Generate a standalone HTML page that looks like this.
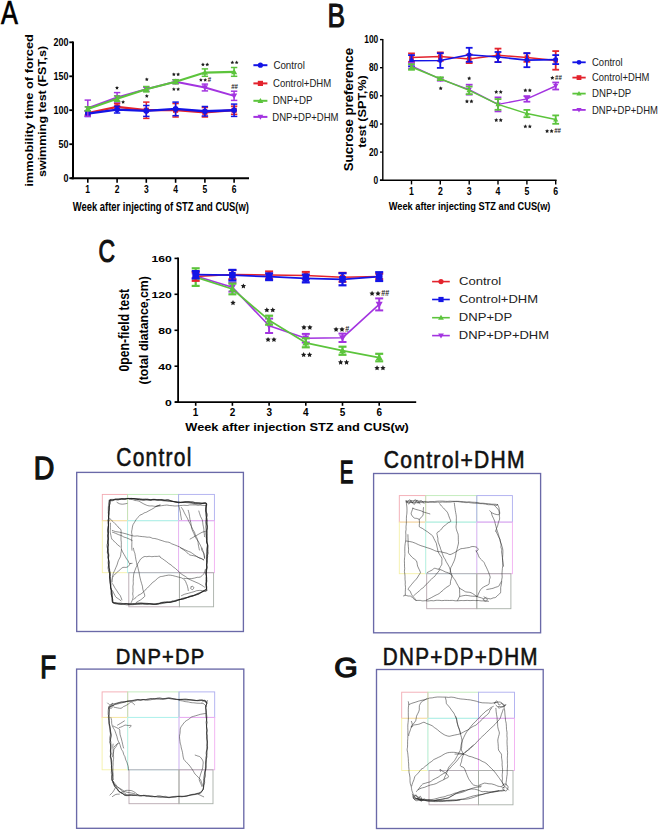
<!DOCTYPE html>
<html><head><meta charset="utf-8"><style>
html,body{margin:0;padding:0;background:#fff;}
svg{display:block;font-family:"Liberation Sans", sans-serif;}
</style></head><body>
<svg width="658" height="830" viewBox="0 0 658 830">
<rect width="658" height="830" fill="#fff"/>
<text transform="translate(1.00,23.55) scale(0.7679,1)" font-size="32.99" fill="#000" stroke="#000" stroke-width="0.7">A</text>
<line x1="73.0" y1="41.4" x2="73.0" y2="179.2" stroke="#000" stroke-width="2"/>
<line x1="70.6" y1="178.2" x2="249.0" y2="178.2" stroke="#000" stroke-width="2"/>
<line x1="69.3" y1="178.2" x2="73.0" y2="178.2" stroke="#000" stroke-width="1.8"/>
<text transform="translate(63.48,181.80) scale(0.8852,1)" font-size="10.14" font-weight="bold" fill="#000">0</text>
<line x1="69.3" y1="144.2" x2="73.0" y2="144.2" stroke="#000" stroke-width="1.8"/>
<text transform="translate(58.48,147.82) scale(0.8852,1)" font-size="10.14" font-weight="bold" fill="#000">50</text>
<line x1="69.3" y1="110.2" x2="73.0" y2="110.2" stroke="#000" stroke-width="1.8"/>
<text transform="translate(53.49,113.85) scale(0.8852,1)" font-size="10.14" font-weight="bold" fill="#000">100</text>
<line x1="69.3" y1="76.3" x2="73.0" y2="76.3" stroke="#000" stroke-width="1.8"/>
<text transform="translate(53.49,79.87) scale(0.8852,1)" font-size="10.14" font-weight="bold" fill="#000">150</text>
<line x1="69.3" y1="42.3" x2="73.0" y2="42.3" stroke="#000" stroke-width="1.8"/>
<text transform="translate(53.49,45.90) scale(0.8852,1)" font-size="10.14" font-weight="bold" fill="#000">200</text>
<line x1="87.8" y1="178.2" x2="87.8" y2="182.8" stroke="#000" stroke-width="1.6"/>
<text transform="translate(85.29,193.20) scale(0.8500,1)" font-size="10.00" font-weight="bold" fill="#000">1</text>
<line x1="117.1" y1="178.2" x2="117.1" y2="182.8" stroke="#000" stroke-width="1.6"/>
<text transform="translate(114.73,193.20) scale(0.8500,1)" font-size="10.00" font-weight="bold" fill="#000">2</text>
<line x1="146.3" y1="178.2" x2="146.3" y2="182.8" stroke="#000" stroke-width="1.6"/>
<text transform="translate(144.03,193.20) scale(0.8500,1)" font-size="10.00" font-weight="bold" fill="#000">3</text>
<line x1="175.6" y1="178.2" x2="175.6" y2="182.8" stroke="#000" stroke-width="1.6"/>
<text transform="translate(173.20,193.20) scale(0.8500,1)" font-size="10.00" font-weight="bold" fill="#000">4</text>
<line x1="204.9" y1="178.2" x2="204.9" y2="182.8" stroke="#000" stroke-width="1.6"/>
<text transform="translate(202.50,193.20) scale(0.8500,1)" font-size="10.00" font-weight="bold" fill="#000">5</text>
<line x1="234.1" y1="178.2" x2="234.1" y2="182.8" stroke="#000" stroke-width="1.6"/>
<text transform="translate(231.78,193.20) scale(0.8500,1)" font-size="10.00" font-weight="bold" fill="#000">6</text>
<text transform="translate(72.79,210.80) scale(0.7377,1)" font-size="12.79" font-weight="bold" fill="#000">Week after injecting of STZ and CUS(w)</text>
<text transform="translate(32.90,186.80) rotate(-90) scale(1.1376,1)" font-size="11.30" font-weight="bold" fill="#000">immobility time of forced</text>
<text transform="translate(46.30,177.04) rotate(-90) scale(1.1584,1)" font-size="10.80" font-weight="bold" fill="#000">swimming test (FST,s)</text>
<line x1="87.8" y1="110.9" x2="87.8" y2="115.0" stroke="#e3232d" stroke-width="1.5"/>
<line x1="84.6" y1="110.9" x2="91.0" y2="110.9" stroke="#e3232d" stroke-width="1.5"/>
<line x1="84.6" y1="115.0" x2="91.0" y2="115.0" stroke="#e3232d" stroke-width="1.5"/>
<line x1="117.1" y1="103.5" x2="117.1" y2="110.2" stroke="#e3232d" stroke-width="1.5"/>
<line x1="113.9" y1="103.5" x2="120.3" y2="103.5" stroke="#e3232d" stroke-width="1.5"/>
<line x1="113.9" y1="110.2" x2="120.3" y2="110.2" stroke="#e3232d" stroke-width="1.5"/>
<line x1="146.3" y1="102.1" x2="146.3" y2="118.4" stroke="#e3232d" stroke-width="1.5"/>
<line x1="143.1" y1="102.1" x2="149.5" y2="102.1" stroke="#e3232d" stroke-width="1.5"/>
<line x1="143.1" y1="118.4" x2="149.5" y2="118.4" stroke="#e3232d" stroke-width="1.5"/>
<line x1="175.6" y1="103.5" x2="175.6" y2="117.0" stroke="#e3232d" stroke-width="1.5"/>
<line x1="172.4" y1="103.5" x2="178.8" y2="103.5" stroke="#e3232d" stroke-width="1.5"/>
<line x1="172.4" y1="117.0" x2="178.8" y2="117.0" stroke="#e3232d" stroke-width="1.5"/>
<line x1="204.9" y1="107.5" x2="204.9" y2="117.0" stroke="#e3232d" stroke-width="1.5"/>
<line x1="201.7" y1="107.5" x2="208.1" y2="107.5" stroke="#e3232d" stroke-width="1.5"/>
<line x1="201.7" y1="117.0" x2="208.1" y2="117.0" stroke="#e3232d" stroke-width="1.5"/>
<line x1="234.1" y1="106.2" x2="234.1" y2="114.3" stroke="#e3232d" stroke-width="1.5"/>
<line x1="230.9" y1="106.2" x2="237.3" y2="106.2" stroke="#e3232d" stroke-width="1.5"/>
<line x1="230.9" y1="114.3" x2="237.3" y2="114.3" stroke="#e3232d" stroke-width="1.5"/>
<polyline points="87.8,113.0 117.1,106.9 146.3,110.2 175.6,110.2 204.9,112.3 234.1,110.2" fill="none" stroke="#e3232d" stroke-width="2.2" stroke-linejoin="round"/>
<rect x="85.2" y="110.4" width="5.2" height="5.2" fill="#e3232d"/>
<rect x="114.5" y="104.3" width="5.2" height="5.2" fill="#e3232d"/>
<rect x="143.7" y="107.6" width="5.2" height="5.2" fill="#e3232d"/>
<rect x="173.0" y="107.6" width="5.2" height="5.2" fill="#e3232d"/>
<rect x="202.3" y="109.7" width="5.2" height="5.2" fill="#e3232d"/>
<rect x="231.5" y="107.6" width="5.2" height="5.2" fill="#e3232d"/>
<line x1="87.8" y1="110.9" x2="87.8" y2="116.4" stroke="#1414e6" stroke-width="1.5"/>
<line x1="84.6" y1="110.9" x2="91.0" y2="110.9" stroke="#1414e6" stroke-width="1.5"/>
<line x1="84.6" y1="116.4" x2="91.0" y2="116.4" stroke="#1414e6" stroke-width="1.5"/>
<line x1="117.1" y1="106.2" x2="117.1" y2="113.0" stroke="#1414e6" stroke-width="1.5"/>
<line x1="113.9" y1="106.2" x2="120.3" y2="106.2" stroke="#1414e6" stroke-width="1.5"/>
<line x1="113.9" y1="113.0" x2="120.3" y2="113.0" stroke="#1414e6" stroke-width="1.5"/>
<line x1="146.3" y1="105.5" x2="146.3" y2="116.4" stroke="#1414e6" stroke-width="1.5"/>
<line x1="143.1" y1="105.5" x2="149.5" y2="105.5" stroke="#1414e6" stroke-width="1.5"/>
<line x1="143.1" y1="116.4" x2="149.5" y2="116.4" stroke="#1414e6" stroke-width="1.5"/>
<line x1="175.6" y1="102.1" x2="175.6" y2="115.7" stroke="#1414e6" stroke-width="1.5"/>
<line x1="172.4" y1="102.1" x2="178.8" y2="102.1" stroke="#1414e6" stroke-width="1.5"/>
<line x1="172.4" y1="115.7" x2="178.8" y2="115.7" stroke="#1414e6" stroke-width="1.5"/>
<line x1="204.9" y1="106.5" x2="204.9" y2="116.0" stroke="#1414e6" stroke-width="1.5"/>
<line x1="201.7" y1="106.5" x2="208.1" y2="106.5" stroke="#1414e6" stroke-width="1.5"/>
<line x1="201.7" y1="116.0" x2="208.1" y2="116.0" stroke="#1414e6" stroke-width="1.5"/>
<line x1="234.1" y1="104.1" x2="234.1" y2="116.4" stroke="#1414e6" stroke-width="1.5"/>
<line x1="230.9" y1="104.1" x2="237.3" y2="104.1" stroke="#1414e6" stroke-width="1.5"/>
<line x1="230.9" y1="116.4" x2="237.3" y2="116.4" stroke="#1414e6" stroke-width="1.5"/>
<polyline points="87.8,113.6 117.1,109.6 146.3,110.9 175.6,108.9 204.9,111.3 234.1,110.2" fill="none" stroke="#1414e6" stroke-width="2.4" stroke-linejoin="round"/>
<circle cx="87.8" cy="113.6" r="2.8" fill="#1414e6"/>
<circle cx="117.1" cy="109.6" r="2.8" fill="#1414e6"/>
<circle cx="146.3" cy="110.9" r="2.8" fill="#1414e6"/>
<circle cx="175.6" cy="108.9" r="2.8" fill="#1414e6"/>
<circle cx="204.9" cy="111.3" r="2.8" fill="#1414e6"/>
<circle cx="234.1" cy="110.2" r="2.8" fill="#1414e6"/>
<line x1="87.8" y1="100.1" x2="87.8" y2="116.4" stroke="#a334e0" stroke-width="1.5"/>
<line x1="84.6" y1="100.1" x2="91.0" y2="100.1" stroke="#a334e0" stroke-width="1.5"/>
<line x1="84.6" y1="116.4" x2="91.0" y2="116.4" stroke="#a334e0" stroke-width="1.5"/>
<line x1="117.1" y1="92.6" x2="117.1" y2="102.1" stroke="#a334e0" stroke-width="1.5"/>
<line x1="113.9" y1="92.6" x2="120.3" y2="92.6" stroke="#a334e0" stroke-width="1.5"/>
<line x1="113.9" y1="102.1" x2="120.3" y2="102.1" stroke="#a334e0" stroke-width="1.5"/>
<line x1="146.3" y1="87.1" x2="146.3" y2="91.2" stroke="#a334e0" stroke-width="1.5"/>
<line x1="143.1" y1="87.1" x2="149.5" y2="87.1" stroke="#a334e0" stroke-width="1.5"/>
<line x1="143.1" y1="91.2" x2="149.5" y2="91.2" stroke="#a334e0" stroke-width="1.5"/>
<line x1="175.6" y1="79.7" x2="175.6" y2="83.7" stroke="#a334e0" stroke-width="1.5"/>
<line x1="172.4" y1="79.7" x2="178.8" y2="79.7" stroke="#a334e0" stroke-width="1.5"/>
<line x1="172.4" y1="83.7" x2="178.8" y2="83.7" stroke="#a334e0" stroke-width="1.5"/>
<line x1="204.9" y1="84.1" x2="204.9" y2="90.9" stroke="#a334e0" stroke-width="1.5"/>
<line x1="201.7" y1="84.1" x2="208.1" y2="84.1" stroke="#a334e0" stroke-width="1.5"/>
<line x1="201.7" y1="90.9" x2="208.1" y2="90.9" stroke="#a334e0" stroke-width="1.5"/>
<line x1="234.1" y1="91.2" x2="234.1" y2="100.4" stroke="#a334e0" stroke-width="1.5"/>
<line x1="230.9" y1="91.2" x2="237.3" y2="91.2" stroke="#a334e0" stroke-width="1.5"/>
<line x1="230.9" y1="100.4" x2="237.3" y2="100.4" stroke="#a334e0" stroke-width="1.5"/>
<polyline points="87.8,108.2 117.1,97.3 146.3,89.2 175.6,81.7 204.9,87.5 234.1,95.8" fill="none" stroke="#a334e0" stroke-width="1.9" stroke-linejoin="round"/>
<polygon points="87.8,111.3 90.9,106.0 84.7,106.0" fill="#a334e0"/>
<polygon points="117.1,100.4 120.1,95.1 114.0,95.1" fill="#a334e0"/>
<polygon points="146.3,92.3 149.4,86.9 143.3,86.9" fill="#a334e0"/>
<polygon points="175.6,84.8 178.7,79.5 172.5,79.5" fill="#a334e0"/>
<polygon points="204.9,90.6 208.0,85.2 201.8,85.2" fill="#a334e0"/>
<polygon points="234.1,98.9 237.2,93.5 231.1,93.5" fill="#a334e0"/>
<line x1="87.8" y1="106.9" x2="87.8" y2="110.9" stroke="#5cc43c" stroke-width="1.5"/>
<line x1="84.6" y1="106.9" x2="91.0" y2="106.9" stroke="#5cc43c" stroke-width="1.5"/>
<line x1="84.6" y1="110.9" x2="91.0" y2="110.9" stroke="#5cc43c" stroke-width="1.5"/>
<line x1="117.1" y1="96.0" x2="117.1" y2="101.4" stroke="#5cc43c" stroke-width="1.5"/>
<line x1="113.9" y1="96.0" x2="120.3" y2="96.0" stroke="#5cc43c" stroke-width="1.5"/>
<line x1="113.9" y1="101.4" x2="120.3" y2="101.4" stroke="#5cc43c" stroke-width="1.5"/>
<line x1="146.3" y1="86.5" x2="146.3" y2="91.9" stroke="#5cc43c" stroke-width="1.5"/>
<line x1="143.1" y1="86.5" x2="149.5" y2="86.5" stroke="#5cc43c" stroke-width="1.5"/>
<line x1="143.1" y1="91.9" x2="149.5" y2="91.9" stroke="#5cc43c" stroke-width="1.5"/>
<line x1="175.6" y1="79.7" x2="175.6" y2="83.7" stroke="#5cc43c" stroke-width="1.5"/>
<line x1="172.4" y1="79.7" x2="178.8" y2="79.7" stroke="#5cc43c" stroke-width="1.5"/>
<line x1="172.4" y1="83.7" x2="178.8" y2="83.7" stroke="#5cc43c" stroke-width="1.5"/>
<line x1="204.9" y1="68.9" x2="204.9" y2="76.3" stroke="#5cc43c" stroke-width="1.5"/>
<line x1="201.7" y1="68.9" x2="208.1" y2="68.9" stroke="#5cc43c" stroke-width="1.5"/>
<line x1="201.7" y1="76.3" x2="208.1" y2="76.3" stroke="#5cc43c" stroke-width="1.5"/>
<line x1="234.1" y1="67.5" x2="234.1" y2="76.3" stroke="#5cc43c" stroke-width="1.5"/>
<line x1="230.9" y1="67.5" x2="237.3" y2="67.5" stroke="#5cc43c" stroke-width="1.5"/>
<line x1="230.9" y1="76.3" x2="237.3" y2="76.3" stroke="#5cc43c" stroke-width="1.5"/>
<polyline points="87.8,108.9 117.1,98.7 146.3,89.2 175.6,81.7 204.9,72.6 234.1,71.9" fill="none" stroke="#5cc43c" stroke-width="2.1" stroke-linejoin="round"/>
<polygon points="87.8,105.8 90.9,111.1 84.7,111.1" fill="#5cc43c"/>
<polygon points="117.1,95.6 120.1,100.9 114.0,100.9" fill="#5cc43c"/>
<polygon points="146.3,86.1 149.4,91.4 143.3,91.4" fill="#5cc43c"/>
<polygon points="175.6,78.6 178.7,84.0 172.5,84.0" fill="#5cc43c"/>
<polygon points="204.9,69.5 208.0,74.8 201.8,74.8" fill="#5cc43c"/>
<polygon points="234.1,68.8 237.2,74.2 231.1,74.2" fill="#5cc43c"/>
<polygon points="117.00,85.90 117.59,87.09 118.90,87.28 117.95,88.21 118.18,89.52 117.00,88.90 115.82,89.52 116.05,88.21 115.10,87.28 116.41,87.09" fill="#1c1c1c"/>
<polygon points="123.10,100.10 123.69,101.29 125.00,101.48 124.05,102.41 124.28,103.72 123.10,103.10 121.92,103.72 122.15,102.41 121.20,101.48 122.51,101.29" fill="#1c1c1c"/>
<polygon points="146.80,77.40 147.39,78.59 148.70,78.78 147.75,79.71 147.98,81.02 146.80,80.40 145.62,81.02 145.85,79.71 144.90,78.78 146.21,78.59" fill="#1c1c1c"/>
<polygon points="146.80,94.10 147.39,95.29 148.70,95.48 147.75,96.41 147.98,97.72 146.80,97.10 145.62,97.72 145.85,96.41 144.90,95.48 146.21,95.29" fill="#1c1c1c"/>
<polygon points="173.85,72.40 174.44,73.59 175.75,73.78 174.80,74.71 175.03,76.02 173.85,75.40 172.67,76.02 172.90,74.71 171.95,73.78 173.26,73.59" fill="#1c1c1c"/>
<polygon points="178.15,72.40 178.74,73.59 180.05,73.78 179.10,74.71 179.33,76.02 178.15,75.40 176.97,76.02 177.20,74.71 176.25,73.78 177.56,73.59" fill="#1c1c1c"/>
<polygon points="173.85,87.20 174.44,88.39 175.75,88.58 174.80,89.51 175.03,90.82 173.85,90.20 172.67,90.82 172.90,89.51 171.95,88.58 173.26,88.39" fill="#1c1c1c"/>
<polygon points="178.15,87.20 178.74,88.39 180.05,88.58 179.10,89.51 179.33,90.82 178.15,90.20 176.97,90.82 177.20,89.51 176.25,88.58 177.56,88.39" fill="#1c1c1c"/>
<polygon points="202.95,62.60 203.54,63.79 204.85,63.98 203.90,64.91 204.13,66.22 202.95,65.60 201.77,66.22 202.00,64.91 201.05,63.98 202.36,63.79" fill="#1c1c1c"/>
<polygon points="207.25,62.60 207.84,63.79 209.15,63.98 208.20,64.91 208.43,66.22 207.25,65.60 206.07,66.22 206.30,64.91 205.35,63.98 206.66,63.79" fill="#1c1c1c"/>
<polygon points="200.90,78.00 201.49,79.19 202.80,79.38 201.85,80.31 202.07,81.62 200.90,81.00 199.72,81.62 199.95,80.31 199.00,79.38 200.31,79.19" fill="#1c1c1c"/>
<polygon points="205.20,78.00 205.79,79.19 207.10,79.38 206.15,80.31 206.37,81.62 205.20,81.00 204.02,81.62 204.25,80.31 203.30,79.38 204.61,79.19" fill="#1c1c1c"/>
<text x="207.7" y="82.2" font-size="7.2" font-weight="bold" fill="#1c1c1c" textLength="3.4" lengthAdjust="spacingAndGlyphs">#</text>
<polygon points="232.35,60.50 232.94,61.69 234.25,61.88 233.30,62.81 233.53,64.12 232.35,63.50 231.17,64.12 231.40,62.81 230.45,61.88 231.76,61.69" fill="#1c1c1c"/>
<polygon points="236.65,60.50 237.24,61.69 238.55,61.88 237.60,62.81 237.83,64.12 236.65,63.50 235.47,64.12 235.70,62.81 234.75,61.88 236.06,61.69" fill="#1c1c1c"/>
<text x="231.2" y="88.6" font-size="7.2" font-weight="bold" fill="#1c1c1c" textLength="6.8" lengthAdjust="spacingAndGlyphs">##</text>
<line x1="253.4" y1="65.2" x2="267.4" y2="65.2" stroke="#1414e6" stroke-width="2"/>
<circle cx="260.4" cy="65.2" r="2.6" fill="#1414e6"/>
<text transform="translate(273.40,68.90) scale(0.9194,1)" font-size="10.61" fill="#222">Control</text>
<line x1="253.4" y1="83.4" x2="267.4" y2="83.4" stroke="#e3232d" stroke-width="2"/>
<rect x="257.8" y="80.8" width="5.2" height="5.2" fill="#e3232d"/>
<text transform="translate(273.01,86.90) scale(0.9280,1)" font-size="10.32" fill="#222">Control+DHM</text>
<line x1="253.4" y1="100.8" x2="267.4" y2="100.8" stroke="#5cc43c" stroke-width="2"/>
<polygon points="260.4,97.9 263.3,102.9 257.5,102.9" fill="#5cc43c"/>
<text transform="translate(272.70,104.20) scale(0.9290,1)" font-size="10.47" fill="#222">DNP+DP</text>
<line x1="253.4" y1="116.9" x2="267.4" y2="116.9" stroke="#a334e0" stroke-width="2"/>
<polygon points="260.4,119.8 263.3,114.8 257.5,114.8" fill="#a334e0"/>
<text transform="translate(272.32,120.50) scale(0.8870,1)" font-size="10.76" fill="#222">DNP+DP+DHM</text>
<text transform="translate(327.59,27.45) scale(0.7903,1)" font-size="33.28" fill="#111" stroke="#111" stroke-width="1.1">B</text>
<line x1="382.8" y1="39.0" x2="382.8" y2="180.8" stroke="#000" stroke-width="1.4"/>
<line x1="379.9" y1="180.2" x2="556.6" y2="180.2" stroke="#000" stroke-width="1.6"/>
<line x1="380.0" y1="180.2" x2="382.8" y2="180.2" stroke="#000" stroke-width="1.4"/>
<text transform="translate(373.59,183.80) scale(0.8374,1)" font-size="10.00" font-weight="bold" fill="#000">0</text>
<line x1="380.0" y1="152.1" x2="382.8" y2="152.1" stroke="#000" stroke-width="1.4"/>
<text transform="translate(368.93,155.68) scale(0.8374,1)" font-size="10.00" font-weight="bold" fill="#000">20</text>
<line x1="380.0" y1="124.0" x2="382.8" y2="124.0" stroke="#000" stroke-width="1.4"/>
<text transform="translate(368.93,127.56) scale(0.8374,1)" font-size="10.00" font-weight="bold" fill="#000">40</text>
<line x1="380.0" y1="95.8" x2="382.8" y2="95.8" stroke="#000" stroke-width="1.4"/>
<text transform="translate(368.93,99.44) scale(0.8374,1)" font-size="10.00" font-weight="bold" fill="#000">60</text>
<line x1="380.0" y1="67.7" x2="382.8" y2="67.7" stroke="#000" stroke-width="1.4"/>
<text transform="translate(368.93,71.32) scale(0.8374,1)" font-size="10.00" font-weight="bold" fill="#000">80</text>
<line x1="380.0" y1="39.6" x2="382.8" y2="39.6" stroke="#000" stroke-width="1.4"/>
<text transform="translate(364.27,43.20) scale(0.8374,1)" font-size="10.00" font-weight="bold" fill="#000">100</text>
<line x1="411.5" y1="180.2" x2="411.5" y2="184.4" stroke="#000" stroke-width="1.4"/>
<text transform="translate(408.92,194.80) scale(0.8500,1)" font-size="10.29" font-weight="bold" fill="#000">1</text>
<line x1="440.3" y1="180.2" x2="440.3" y2="184.4" stroke="#000" stroke-width="1.4"/>
<text transform="translate(437.93,194.80) scale(0.8500,1)" font-size="10.29" font-weight="bold" fill="#000">2</text>
<line x1="469.2" y1="180.2" x2="469.2" y2="184.4" stroke="#000" stroke-width="1.4"/>
<text transform="translate(466.81,194.80) scale(0.8500,1)" font-size="10.29" font-weight="bold" fill="#000">3</text>
<line x1="498.0" y1="180.2" x2="498.0" y2="184.4" stroke="#000" stroke-width="1.4"/>
<text transform="translate(495.55,194.80) scale(0.8500,1)" font-size="10.29" font-weight="bold" fill="#000">4</text>
<line x1="526.9" y1="180.2" x2="526.9" y2="184.4" stroke="#000" stroke-width="1.4"/>
<text transform="translate(524.42,194.80) scale(0.8500,1)" font-size="10.29" font-weight="bold" fill="#000">5</text>
<line x1="555.7" y1="180.2" x2="555.7" y2="184.4" stroke="#000" stroke-width="1.4"/>
<text transform="translate(553.27,194.80) scale(0.8500,1)" font-size="10.29" font-weight="bold" fill="#000">6</text>
<text transform="translate(388.69,209.70) scale(0.7870,1)" font-size="11.77" font-weight="bold" fill="#000">Week after injecting STZ and CUS(w)</text>
<text transform="translate(352.70,171.18) rotate(-90) scale(1.0818,1)" font-size="12.21" font-weight="bold" fill="#000">Sucrose preference</text>
<text transform="translate(365.90,147.86) rotate(-90) scale(1.1043,1)" font-size="11.50" font-weight="bold" fill="#000">test (SPT,%)</text>
<line x1="411.5" y1="53.4" x2="411.5" y2="61.8" stroke="#e3232d" stroke-width="1.8"/>
<line x1="408.1" y1="53.4" x2="414.9" y2="53.4" stroke="#e3232d" stroke-width="1.8"/>
<line x1="408.1" y1="61.8" x2="414.9" y2="61.8" stroke="#e3232d" stroke-width="1.8"/>
<line x1="440.3" y1="52.4" x2="440.3" y2="60.8" stroke="#e3232d" stroke-width="1.8"/>
<line x1="436.9" y1="52.4" x2="443.7" y2="52.4" stroke="#e3232d" stroke-width="1.8"/>
<line x1="436.9" y1="60.8" x2="443.7" y2="60.8" stroke="#e3232d" stroke-width="1.8"/>
<line x1="469.2" y1="54.6" x2="469.2" y2="63.1" stroke="#e3232d" stroke-width="1.8"/>
<line x1="465.8" y1="54.6" x2="472.6" y2="54.6" stroke="#e3232d" stroke-width="1.8"/>
<line x1="465.8" y1="63.1" x2="472.6" y2="63.1" stroke="#e3232d" stroke-width="1.8"/>
<line x1="498.0" y1="48.6" x2="498.0" y2="62.1" stroke="#e3232d" stroke-width="1.8"/>
<line x1="494.6" y1="48.6" x2="501.4" y2="48.6" stroke="#e3232d" stroke-width="1.8"/>
<line x1="494.6" y1="62.1" x2="501.4" y2="62.1" stroke="#e3232d" stroke-width="1.8"/>
<line x1="526.9" y1="53.4" x2="526.9" y2="61.8" stroke="#e3232d" stroke-width="1.8"/>
<line x1="523.5" y1="53.4" x2="530.3" y2="53.4" stroke="#e3232d" stroke-width="1.8"/>
<line x1="523.5" y1="61.8" x2="530.3" y2="61.8" stroke="#e3232d" stroke-width="1.8"/>
<line x1="555.7" y1="51.1" x2="555.7" y2="69.7" stroke="#e3232d" stroke-width="1.8"/>
<line x1="552.3" y1="51.1" x2="559.1" y2="51.1" stroke="#e3232d" stroke-width="1.8"/>
<line x1="552.3" y1="69.7" x2="559.1" y2="69.7" stroke="#e3232d" stroke-width="1.8"/>
<polyline points="411.5,57.6 440.3,56.6 469.2,58.9 498.0,55.3 526.9,57.6 555.7,60.4" fill="none" stroke="#e3232d" stroke-width="1.5" stroke-linejoin="round"/>
<rect x="409.2" y="55.3" width="4.6" height="4.6" fill="#e3232d"/>
<rect x="438.0" y="54.3" width="4.6" height="4.6" fill="#e3232d"/>
<rect x="466.9" y="56.6" width="4.6" height="4.6" fill="#e3232d"/>
<rect x="495.7" y="53.0" width="4.6" height="4.6" fill="#e3232d"/>
<rect x="524.6" y="55.3" width="4.6" height="4.6" fill="#e3232d"/>
<rect x="553.4" y="58.1" width="4.6" height="4.6" fill="#e3232d"/>
<line x1="411.5" y1="55.1" x2="411.5" y2="66.3" stroke="#1414e6" stroke-width="1.8"/>
<line x1="408.1" y1="55.1" x2="414.9" y2="55.1" stroke="#1414e6" stroke-width="1.8"/>
<line x1="408.1" y1="66.3" x2="414.9" y2="66.3" stroke="#1414e6" stroke-width="1.8"/>
<line x1="440.3" y1="53.2" x2="440.3" y2="67.9" stroke="#1414e6" stroke-width="1.8"/>
<line x1="436.9" y1="53.2" x2="443.7" y2="53.2" stroke="#1414e6" stroke-width="1.8"/>
<line x1="436.9" y1="67.9" x2="443.7" y2="67.9" stroke="#1414e6" stroke-width="1.8"/>
<line x1="469.2" y1="47.8" x2="469.2" y2="61.8" stroke="#1414e6" stroke-width="1.8"/>
<line x1="465.8" y1="47.8" x2="472.6" y2="47.8" stroke="#1414e6" stroke-width="1.8"/>
<line x1="465.8" y1="61.8" x2="472.6" y2="61.8" stroke="#1414e6" stroke-width="1.8"/>
<line x1="498.0" y1="52.0" x2="498.0" y2="62.1" stroke="#1414e6" stroke-width="1.8"/>
<line x1="494.6" y1="52.0" x2="501.4" y2="52.0" stroke="#1414e6" stroke-width="1.8"/>
<line x1="494.6" y1="62.1" x2="501.4" y2="62.1" stroke="#1414e6" stroke-width="1.8"/>
<line x1="526.9" y1="53.1" x2="526.9" y2="67.2" stroke="#1414e6" stroke-width="1.8"/>
<line x1="523.5" y1="53.1" x2="530.3" y2="53.1" stroke="#1414e6" stroke-width="1.8"/>
<line x1="523.5" y1="67.2" x2="530.3" y2="67.2" stroke="#1414e6" stroke-width="1.8"/>
<line x1="555.7" y1="55.1" x2="555.7" y2="64.1" stroke="#1414e6" stroke-width="1.8"/>
<line x1="552.3" y1="55.1" x2="559.1" y2="55.1" stroke="#1414e6" stroke-width="1.8"/>
<line x1="552.3" y1="64.1" x2="559.1" y2="64.1" stroke="#1414e6" stroke-width="1.8"/>
<polyline points="411.5,60.7 440.3,60.5 469.2,54.8 498.0,57.0 526.9,60.1 555.7,59.6" fill="none" stroke="#1414e6" stroke-width="1.6" stroke-linejoin="round"/>
<circle cx="411.5" cy="60.7" r="2.4" fill="#1414e6"/>
<circle cx="440.3" cy="60.5" r="2.4" fill="#1414e6"/>
<circle cx="469.2" cy="54.8" r="2.4" fill="#1414e6"/>
<circle cx="498.0" cy="57.0" r="2.4" fill="#1414e6"/>
<circle cx="526.9" cy="60.1" r="2.4" fill="#1414e6"/>
<circle cx="555.7" cy="59.6" r="2.4" fill="#1414e6"/>
<line x1="411.5" y1="62.9" x2="411.5" y2="68.6" stroke="#a334e0" stroke-width="1.8"/>
<line x1="408.1" y1="62.9" x2="414.9" y2="62.9" stroke="#a334e0" stroke-width="1.8"/>
<line x1="408.1" y1="68.6" x2="414.9" y2="68.6" stroke="#a334e0" stroke-width="1.8"/>
<line x1="440.3" y1="77.8" x2="440.3" y2="80.7" stroke="#a334e0" stroke-width="1.8"/>
<line x1="436.9" y1="77.8" x2="443.7" y2="77.8" stroke="#a334e0" stroke-width="1.8"/>
<line x1="436.9" y1="80.7" x2="443.7" y2="80.7" stroke="#a334e0" stroke-width="1.8"/>
<line x1="469.2" y1="84.7" x2="469.2" y2="94.6" stroke="#a334e0" stroke-width="1.8"/>
<line x1="465.8" y1="84.7" x2="472.6" y2="84.7" stroke="#a334e0" stroke-width="1.8"/>
<line x1="465.8" y1="94.6" x2="472.6" y2="94.6" stroke="#a334e0" stroke-width="1.8"/>
<line x1="498.0" y1="97.4" x2="498.0" y2="111.4" stroke="#a334e0" stroke-width="1.8"/>
<line x1="494.6" y1="97.4" x2="501.4" y2="97.4" stroke="#a334e0" stroke-width="1.8"/>
<line x1="494.6" y1="111.4" x2="501.4" y2="111.4" stroke="#a334e0" stroke-width="1.8"/>
<line x1="526.9" y1="96.1" x2="526.9" y2="101.7" stroke="#a334e0" stroke-width="1.8"/>
<line x1="523.5" y1="96.1" x2="530.3" y2="96.1" stroke="#a334e0" stroke-width="1.8"/>
<line x1="523.5" y1="101.7" x2="530.3" y2="101.7" stroke="#a334e0" stroke-width="1.8"/>
<line x1="555.7" y1="82.5" x2="555.7" y2="89.5" stroke="#a334e0" stroke-width="1.8"/>
<line x1="552.3" y1="82.5" x2="559.1" y2="82.5" stroke="#a334e0" stroke-width="1.8"/>
<line x1="552.3" y1="89.5" x2="559.1" y2="89.5" stroke="#a334e0" stroke-width="1.8"/>
<polyline points="411.5,65.8 440.3,79.2 469.2,89.7 498.0,104.4 526.9,98.9 555.7,86.0" fill="none" stroke="#a334e0" stroke-width="1.4" stroke-linejoin="round"/>
<polygon points="411.5,68.4 414.1,63.8 408.9,63.8" fill="#a334e0"/>
<polygon points="440.3,81.9 443.0,77.3 437.7,77.3" fill="#a334e0"/>
<polygon points="469.2,92.3 471.8,87.7 466.5,87.7" fill="#a334e0"/>
<polygon points="498.0,107.1 500.7,102.5 495.4,102.5" fill="#a334e0"/>
<polygon points="526.9,101.6 529.5,97.0 524.2,97.0" fill="#a334e0"/>
<polygon points="555.7,88.6 558.3,84.1 553.1,84.1" fill="#a334e0"/>
<line x1="411.5" y1="64.2" x2="411.5" y2="69.8" stroke="#5cc43c" stroke-width="1.8"/>
<line x1="408.1" y1="64.2" x2="414.9" y2="64.2" stroke="#5cc43c" stroke-width="1.8"/>
<line x1="408.1" y1="69.8" x2="414.9" y2="69.8" stroke="#5cc43c" stroke-width="1.8"/>
<line x1="440.3" y1="77.3" x2="440.3" y2="80.1" stroke="#5cc43c" stroke-width="1.8"/>
<line x1="436.9" y1="77.3" x2="443.7" y2="77.3" stroke="#5cc43c" stroke-width="1.8"/>
<line x1="436.9" y1="80.1" x2="443.7" y2="80.1" stroke="#5cc43c" stroke-width="1.8"/>
<line x1="469.2" y1="86.6" x2="469.2" y2="94.2" stroke="#5cc43c" stroke-width="1.8"/>
<line x1="465.8" y1="86.6" x2="472.6" y2="86.6" stroke="#5cc43c" stroke-width="1.8"/>
<line x1="465.8" y1="94.2" x2="472.6" y2="94.2" stroke="#5cc43c" stroke-width="1.8"/>
<line x1="498.0" y1="99.1" x2="498.0" y2="109.8" stroke="#5cc43c" stroke-width="1.8"/>
<line x1="494.6" y1="99.1" x2="501.4" y2="99.1" stroke="#5cc43c" stroke-width="1.8"/>
<line x1="494.6" y1="109.8" x2="501.4" y2="109.8" stroke="#5cc43c" stroke-width="1.8"/>
<line x1="526.9" y1="109.9" x2="526.9" y2="117.2" stroke="#5cc43c" stroke-width="1.8"/>
<line x1="523.5" y1="109.9" x2="530.3" y2="109.9" stroke="#5cc43c" stroke-width="1.8"/>
<line x1="523.5" y1="117.2" x2="530.3" y2="117.2" stroke="#5cc43c" stroke-width="1.8"/>
<line x1="555.7" y1="115.4" x2="555.7" y2="123.8" stroke="#5cc43c" stroke-width="1.8"/>
<line x1="552.3" y1="115.4" x2="559.1" y2="115.4" stroke="#5cc43c" stroke-width="1.8"/>
<line x1="552.3" y1="123.8" x2="559.1" y2="123.8" stroke="#5cc43c" stroke-width="1.8"/>
<polyline points="411.5,67.0 440.3,78.7 469.2,90.4 498.0,104.4 526.9,113.6 555.7,119.6" fill="none" stroke="#5cc43c" stroke-width="1.5" stroke-linejoin="round"/>
<polygon points="411.5,64.4 414.1,68.9 408.9,68.9" fill="#5cc43c"/>
<polygon points="440.3,76.0 443.0,80.6 437.7,80.6" fill="#5cc43c"/>
<polygon points="469.2,87.7 471.8,92.3 466.5,92.3" fill="#5cc43c"/>
<polygon points="498.0,101.8 500.7,106.3 495.4,106.3" fill="#5cc43c"/>
<polygon points="526.9,110.9 529.5,115.5 524.2,115.5" fill="#5cc43c"/>
<polygon points="555.7,117.0 558.3,121.5 553.1,121.5" fill="#5cc43c"/>
<polygon points="440.70,86.16 441.33,87.45 442.74,87.65 441.72,88.65 441.96,90.05 440.70,89.39 439.44,90.05 439.68,88.65 438.66,87.65 440.07,87.45" fill="#1c1c1c"/>
<polygon points="469.20,76.16 469.83,77.45 471.24,77.65 470.22,78.65 470.46,80.05 469.20,79.39 467.94,80.05 468.18,78.65 467.16,77.65 468.57,77.45" fill="#1c1c1c"/>
<polygon points="466.95,99.27 467.58,100.55 468.99,100.75 467.97,101.75 468.21,103.15 466.95,102.49 465.69,103.15 465.93,101.75 464.91,100.75 466.32,100.55" fill="#1c1c1c"/>
<polygon points="471.45,99.27 472.08,100.55 473.49,100.75 472.47,101.75 472.71,103.15 471.45,102.49 470.19,103.15 470.43,101.75 469.41,100.75 470.82,100.55" fill="#1c1c1c"/>
<polygon points="496.25,89.86 496.88,91.15 498.29,91.35 497.27,92.35 497.51,93.75 496.25,93.09 494.99,93.75 495.23,92.35 494.21,91.35 495.62,91.15" fill="#1c1c1c"/>
<polygon points="500.75,89.86 501.38,91.15 502.79,91.35 501.77,92.35 502.01,93.75 500.75,93.09 499.49,93.75 499.73,92.35 498.71,91.35 500.12,91.15" fill="#1c1c1c"/>
<polygon points="496.25,118.06 496.88,119.35 498.29,119.55 497.27,120.55 497.51,121.95 496.25,121.29 494.99,121.95 495.23,120.55 494.21,119.55 495.62,119.35" fill="#1c1c1c"/>
<polygon points="500.75,118.06 501.38,119.35 502.79,119.55 501.77,120.55 502.01,121.95 500.75,121.29 499.49,121.95 499.73,120.55 498.71,119.55 500.12,119.35" fill="#1c1c1c"/>
<polygon points="525.35,88.16 525.98,89.45 527.39,89.65 526.37,90.65 526.61,92.05 525.35,91.39 524.09,92.05 524.33,90.65 523.31,89.65 524.72,89.45" fill="#1c1c1c"/>
<polygon points="529.85,88.16 530.48,89.45 531.89,89.65 530.87,90.65 531.11,92.05 529.85,91.39 528.59,92.05 528.83,90.65 527.81,89.65 529.22,89.45" fill="#1c1c1c"/>
<polygon points="525.35,124.36 525.98,125.65 527.39,125.85 526.37,126.85 526.61,128.25 525.35,127.59 524.09,128.25 524.33,126.85 523.31,125.85 524.72,125.65" fill="#1c1c1c"/>
<polygon points="529.85,124.36 530.48,125.65 531.89,125.85 530.87,126.85 531.11,128.25 529.85,127.59 528.59,128.25 528.83,126.85 527.81,125.85 529.22,125.65" fill="#1c1c1c"/>
<polygon points="552.35,75.77 552.98,77.05 554.39,77.25 553.37,78.25 553.61,79.65 552.35,78.99 551.08,79.65 551.32,78.25 550.30,77.25 551.72,77.05" fill="#1c1c1c"/>
<text x="555.0" y="79.9" font-size="7.2" font-weight="bold" fill="#1c1c1c" textLength="6.8" lengthAdjust="spacingAndGlyphs">##</text>
<polygon points="547.10,129.06 547.73,130.35 549.14,130.55 548.12,131.55 548.36,132.95 547.10,132.29 545.83,132.95 546.07,131.55 545.05,130.55 546.47,130.35" fill="#1c1c1c"/>
<polygon points="551.60,129.06 552.23,130.35 553.64,130.55 552.62,131.55 552.86,132.95 551.60,132.29 550.33,132.95 550.57,131.55 549.55,130.55 550.97,130.35" fill="#1c1c1c"/>
<text x="554.2" y="133.2" font-size="7.2" font-weight="bold" fill="#1c1c1c" textLength="6.8" lengthAdjust="spacingAndGlyphs">##</text>
<line x1="572.4" y1="62.3" x2="585.7" y2="62.3" stroke="#1414e6" stroke-width="1.8"/>
<circle cx="579.0" cy="62.3" r="2.4" fill="#1414e6"/>
<text transform="translate(592.02,65.80) scale(0.9076,1)" font-size="10.47" fill="#222">Control</text>
<line x1="572.4" y1="77.6" x2="585.7" y2="77.6" stroke="#e3232d" stroke-width="1.8"/>
<rect x="576.6" y="75.2" width="4.8" height="4.8" fill="#e3232d"/>
<text transform="translate(592.02,81.30) scale(0.8646,1)" font-size="10.90" fill="#222">Control+DHM</text>
<line x1="572.4" y1="93.6" x2="585.7" y2="93.6" stroke="#5cc43c" stroke-width="1.8"/>
<polygon points="579.0,91.0 581.6,95.5 576.4,95.5" fill="#5cc43c"/>
<text transform="translate(592.01,97.20) scale(0.8945,1)" font-size="10.76" fill="#222">DNP+DP</text>
<line x1="572.4" y1="109.9" x2="585.7" y2="109.9" stroke="#a334e0" stroke-width="1.8"/>
<polygon points="579.0,112.5 581.6,108.0 576.4,108.0" fill="#a334e0"/>
<text transform="translate(592.02,113.50) scale(0.9060,1)" font-size="10.47" fill="#222">DNP+DP+DHM</text>
<text transform="translate(98.39,262.25) scale(0.7430,1)" font-size="30.81" fill="#111" stroke="#111" stroke-width="1.1">C</text>
<line x1="178.1" y1="257.5" x2="178.1" y2="403.0" stroke="#000" stroke-width="1.8"/>
<line x1="175.0" y1="402.1" x2="416.2" y2="402.1" stroke="#000" stroke-width="1.8"/>
<line x1="174.5" y1="402.1" x2="178.1" y2="402.1" stroke="#000" stroke-width="1.6"/>
<text transform="translate(165.11,405.60) scale(1.2949,1)" font-size="9.43" font-weight="bold" fill="#000">0</text>
<line x1="174.5" y1="366.2" x2="178.1" y2="366.2" stroke="#000" stroke-width="1.6"/>
<text transform="translate(158.32,369.68) scale(1.2949,1)" font-size="9.43" font-weight="bold" fill="#000">40</text>
<line x1="174.5" y1="330.3" x2="178.1" y2="330.3" stroke="#000" stroke-width="1.6"/>
<text transform="translate(158.32,333.76) scale(1.2949,1)" font-size="9.43" font-weight="bold" fill="#000">80</text>
<line x1="174.5" y1="294.3" x2="178.1" y2="294.3" stroke="#000" stroke-width="1.6"/>
<text transform="translate(151.53,297.84) scale(1.2949,1)" font-size="9.43" font-weight="bold" fill="#000">120</text>
<line x1="174.5" y1="258.4" x2="178.1" y2="258.4" stroke="#000" stroke-width="1.6"/>
<text transform="translate(151.53,261.92) scale(1.2949,1)" font-size="9.43" font-weight="bold" fill="#000">160</text>
<line x1="195.7" y1="402.1" x2="195.7" y2="405.8" stroke="#000" stroke-width="1.6"/>
<text transform="translate(192.74,415.90) scale(1.0000,1)" font-size="10.00" font-weight="bold" fill="#000">1</text>
<line x1="232.4" y1="402.1" x2="232.4" y2="405.8" stroke="#000" stroke-width="1.6"/>
<text transform="translate(229.65,415.90) scale(1.0000,1)" font-size="10.00" font-weight="bold" fill="#000">2</text>
<line x1="269.1" y1="402.1" x2="269.1" y2="405.8" stroke="#000" stroke-width="1.6"/>
<text transform="translate(266.39,415.90) scale(1.0000,1)" font-size="10.00" font-weight="bold" fill="#000">3</text>
<line x1="305.8" y1="402.1" x2="305.8" y2="405.8" stroke="#000" stroke-width="1.6"/>
<text transform="translate(302.97,415.90) scale(1.0000,1)" font-size="10.00" font-weight="bold" fill="#000">4</text>
<line x1="342.5" y1="402.1" x2="342.5" y2="405.8" stroke="#000" stroke-width="1.6"/>
<text transform="translate(339.70,415.90) scale(1.0000,1)" font-size="10.00" font-weight="bold" fill="#000">5</text>
<line x1="379.2" y1="402.1" x2="379.2" y2="405.8" stroke="#000" stroke-width="1.6"/>
<text transform="translate(376.42,415.90) scale(1.0000,1)" font-size="10.00" font-weight="bold" fill="#000">6</text>
<text transform="translate(185.29,430.60) scale(1.1897,1)" font-size="10.76" font-weight="bold" fill="#000">Week after injection STZ and CUS(w)</text>
<text transform="translate(129.40,371.48) rotate(-90) scale(0.8844,1)" font-size="13.80" font-weight="bold" fill="#000">0pen-field test</text>
<text transform="translate(148.20,384.41) rotate(-90) scale(0.9007,1)" font-size="13.60" font-weight="bold" fill="#000">(total diatance,cm)</text>
<line x1="195.7" y1="273.4" x2="195.7" y2="278.8" stroke="#a334e0" stroke-width="2"/>
<line x1="191.7" y1="273.4" x2="199.7" y2="273.4" stroke="#a334e0" stroke-width="2"/>
<line x1="191.7" y1="278.8" x2="199.7" y2="278.8" stroke="#a334e0" stroke-width="2"/>
<line x1="232.4" y1="282.7" x2="232.4" y2="291.6" stroke="#a334e0" stroke-width="2"/>
<line x1="228.4" y1="282.7" x2="236.4" y2="282.7" stroke="#a334e0" stroke-width="2"/>
<line x1="228.4" y1="291.6" x2="236.4" y2="291.6" stroke="#a334e0" stroke-width="2"/>
<line x1="269.1" y1="318.6" x2="269.1" y2="333.0" stroke="#a334e0" stroke-width="2"/>
<line x1="265.1" y1="318.6" x2="273.1" y2="318.6" stroke="#a334e0" stroke-width="2"/>
<line x1="265.1" y1="333.0" x2="273.1" y2="333.0" stroke="#a334e0" stroke-width="2"/>
<line x1="305.8" y1="333.9" x2="305.8" y2="342.5" stroke="#a334e0" stroke-width="2"/>
<line x1="301.8" y1="333.9" x2="309.8" y2="333.9" stroke="#a334e0" stroke-width="2"/>
<line x1="301.8" y1="342.5" x2="309.8" y2="342.5" stroke="#a334e0" stroke-width="2"/>
<line x1="342.5" y1="333.6" x2="342.5" y2="342.0" stroke="#a334e0" stroke-width="2"/>
<line x1="338.5" y1="333.6" x2="346.5" y2="333.6" stroke="#a334e0" stroke-width="2"/>
<line x1="338.5" y1="342.0" x2="346.5" y2="342.0" stroke="#a334e0" stroke-width="2"/>
<line x1="379.2" y1="298.4" x2="379.2" y2="310.4" stroke="#a334e0" stroke-width="2"/>
<line x1="375.2" y1="298.4" x2="383.2" y2="298.4" stroke="#a334e0" stroke-width="2"/>
<line x1="375.2" y1="310.4" x2="383.2" y2="310.4" stroke="#a334e0" stroke-width="2"/>
<polyline points="195.7,276.1 232.4,287.2 269.1,325.8 305.8,338.2 342.5,337.8 379.2,304.4" fill="none" stroke="#a334e0" stroke-width="1.6" stroke-linejoin="round"/>
<polygon points="195.7,279.6 199.2,273.6 192.2,273.6" fill="#a334e0"/>
<polygon points="232.4,290.7 235.9,284.6 228.9,284.6" fill="#a334e0"/>
<polygon points="269.1,329.3 272.6,323.2 265.6,323.2" fill="#a334e0"/>
<polygon points="305.8,341.7 309.3,335.6 302.3,335.6" fill="#a334e0"/>
<polygon points="342.5,341.3 346.0,335.2 339.0,335.2" fill="#a334e0"/>
<polygon points="379.2,307.9 382.7,301.8 375.7,301.8" fill="#a334e0"/>
<line x1="195.7" y1="268.3" x2="195.7" y2="285.9" stroke="#5cc43c" stroke-width="2.2"/>
<line x1="191.7" y1="268.3" x2="199.7" y2="268.3" stroke="#5cc43c" stroke-width="2.2"/>
<line x1="191.7" y1="285.9" x2="199.7" y2="285.9" stroke="#5cc43c" stroke-width="2.2"/>
<line x1="232.4" y1="283.6" x2="232.4" y2="294.3" stroke="#5cc43c" stroke-width="2.2"/>
<line x1="228.4" y1="283.6" x2="236.4" y2="283.6" stroke="#5cc43c" stroke-width="2.2"/>
<line x1="228.4" y1="294.3" x2="236.4" y2="294.3" stroke="#5cc43c" stroke-width="2.2"/>
<line x1="269.1" y1="315.7" x2="269.1" y2="324.7" stroke="#5cc43c" stroke-width="2.2"/>
<line x1="265.1" y1="315.7" x2="273.1" y2="315.7" stroke="#5cc43c" stroke-width="2.2"/>
<line x1="265.1" y1="324.7" x2="273.1" y2="324.7" stroke="#5cc43c" stroke-width="2.2"/>
<line x1="305.8" y1="338.3" x2="305.8" y2="347.3" stroke="#5cc43c" stroke-width="2.2"/>
<line x1="301.8" y1="338.3" x2="309.8" y2="338.3" stroke="#5cc43c" stroke-width="2.2"/>
<line x1="301.8" y1="347.3" x2="309.8" y2="347.3" stroke="#5cc43c" stroke-width="2.2"/>
<line x1="342.5" y1="346.7" x2="342.5" y2="354.8" stroke="#5cc43c" stroke-width="2.2"/>
<line x1="338.5" y1="346.7" x2="346.5" y2="346.7" stroke="#5cc43c" stroke-width="2.2"/>
<line x1="338.5" y1="354.8" x2="346.5" y2="354.8" stroke="#5cc43c" stroke-width="2.2"/>
<line x1="379.2" y1="353.8" x2="379.2" y2="361.3" stroke="#5cc43c" stroke-width="2.2"/>
<line x1="375.2" y1="353.8" x2="383.2" y2="353.8" stroke="#5cc43c" stroke-width="2.2"/>
<line x1="375.2" y1="361.3" x2="383.2" y2="361.3" stroke="#5cc43c" stroke-width="2.2"/>
<polyline points="195.7,277.1 232.4,289.0 269.1,320.2 305.8,342.8 342.5,350.7 379.2,357.6" fill="none" stroke="#5cc43c" stroke-width="1.7" stroke-linejoin="round"/>
<polygon points="195.7,273.6 199.2,279.7 192.2,279.7" fill="#5cc43c"/>
<polygon points="232.4,285.4 235.9,291.5 228.9,291.5" fill="#5cc43c"/>
<polygon points="269.1,316.7 272.6,322.8 265.6,322.8" fill="#5cc43c"/>
<polygon points="305.8,339.3 309.3,345.4 302.3,345.4" fill="#5cc43c"/>
<polygon points="342.5,347.2 346.0,353.3 339.0,353.3" fill="#5cc43c"/>
<polygon points="379.2,354.0 382.7,360.1 375.7,360.1" fill="#5cc43c"/>
<line x1="195.7" y1="271.9" x2="195.7" y2="280.9" stroke="#e3232d" stroke-width="2"/>
<line x1="191.7" y1="271.9" x2="199.7" y2="271.9" stroke="#e3232d" stroke-width="2"/>
<line x1="191.7" y1="280.9" x2="199.7" y2="280.9" stroke="#e3232d" stroke-width="2"/>
<line x1="232.4" y1="270.1" x2="232.4" y2="279.1" stroke="#e3232d" stroke-width="2"/>
<line x1="228.4" y1="270.1" x2="236.4" y2="270.1" stroke="#e3232d" stroke-width="2"/>
<line x1="228.4" y1="279.1" x2="236.4" y2="279.1" stroke="#e3232d" stroke-width="2"/>
<line x1="269.1" y1="271.4" x2="269.1" y2="278.6" stroke="#e3232d" stroke-width="2"/>
<line x1="265.1" y1="271.4" x2="273.1" y2="271.4" stroke="#e3232d" stroke-width="2"/>
<line x1="265.1" y1="278.6" x2="273.1" y2="278.6" stroke="#e3232d" stroke-width="2"/>
<line x1="305.8" y1="271.9" x2="305.8" y2="279.1" stroke="#e3232d" stroke-width="2"/>
<line x1="301.8" y1="271.9" x2="309.8" y2="271.9" stroke="#e3232d" stroke-width="2"/>
<line x1="301.8" y1="279.1" x2="309.8" y2="279.1" stroke="#e3232d" stroke-width="2"/>
<line x1="342.5" y1="272.8" x2="342.5" y2="281.8" stroke="#e3232d" stroke-width="2"/>
<line x1="338.5" y1="272.8" x2="346.5" y2="272.8" stroke="#e3232d" stroke-width="2"/>
<line x1="338.5" y1="281.8" x2="346.5" y2="281.8" stroke="#e3232d" stroke-width="2"/>
<line x1="379.2" y1="273.7" x2="379.2" y2="279.1" stroke="#e3232d" stroke-width="2"/>
<line x1="375.2" y1="273.7" x2="383.2" y2="273.7" stroke="#e3232d" stroke-width="2"/>
<line x1="375.2" y1="279.1" x2="383.2" y2="279.1" stroke="#e3232d" stroke-width="2"/>
<polyline points="195.7,276.4 232.4,274.6 269.1,275.0 305.8,275.5 342.5,277.3 379.2,276.4" fill="none" stroke="#e3232d" stroke-width="1.5" stroke-linejoin="round"/>
<circle cx="195.7" cy="276.4" r="3.0" fill="#e3232d"/>
<circle cx="232.4" cy="274.6" r="3.0" fill="#e3232d"/>
<circle cx="269.1" cy="275.0" r="3.0" fill="#e3232d"/>
<circle cx="305.8" cy="275.5" r="3.0" fill="#e3232d"/>
<circle cx="342.5" cy="277.3" r="3.0" fill="#e3232d"/>
<circle cx="379.2" cy="276.4" r="3.0" fill="#e3232d"/>
<line x1="195.7" y1="271.1" x2="195.7" y2="278.3" stroke="#1414e6" stroke-width="2.2"/>
<line x1="191.7" y1="271.1" x2="199.7" y2="271.1" stroke="#1414e6" stroke-width="2.2"/>
<line x1="191.7" y1="278.3" x2="199.7" y2="278.3" stroke="#1414e6" stroke-width="2.2"/>
<line x1="232.4" y1="269.9" x2="232.4" y2="280.5" stroke="#1414e6" stroke-width="2.2"/>
<line x1="228.4" y1="269.9" x2="236.4" y2="269.9" stroke="#1414e6" stroke-width="2.2"/>
<line x1="228.4" y1="280.5" x2="236.4" y2="280.5" stroke="#1414e6" stroke-width="2.2"/>
<line x1="269.1" y1="273.4" x2="269.1" y2="280.1" stroke="#1414e6" stroke-width="2.2"/>
<line x1="265.1" y1="273.4" x2="273.1" y2="273.4" stroke="#1414e6" stroke-width="2.2"/>
<line x1="265.1" y1="280.1" x2="273.1" y2="280.1" stroke="#1414e6" stroke-width="2.2"/>
<line x1="305.8" y1="274.5" x2="305.8" y2="282.4" stroke="#1414e6" stroke-width="2.2"/>
<line x1="301.8" y1="274.5" x2="309.8" y2="274.5" stroke="#1414e6" stroke-width="2.2"/>
<line x1="301.8" y1="282.4" x2="309.8" y2="282.4" stroke="#1414e6" stroke-width="2.2"/>
<line x1="342.5" y1="273.2" x2="342.5" y2="285.3" stroke="#1414e6" stroke-width="2.2"/>
<line x1="338.5" y1="273.2" x2="346.5" y2="273.2" stroke="#1414e6" stroke-width="2.2"/>
<line x1="338.5" y1="285.3" x2="346.5" y2="285.3" stroke="#1414e6" stroke-width="2.2"/>
<line x1="379.2" y1="272.2" x2="379.2" y2="281.0" stroke="#1414e6" stroke-width="2.2"/>
<line x1="375.2" y1="272.2" x2="383.2" y2="272.2" stroke="#1414e6" stroke-width="2.2"/>
<line x1="375.2" y1="281.0" x2="383.2" y2="281.0" stroke="#1414e6" stroke-width="2.2"/>
<polyline points="195.7,274.7 232.4,275.2 269.1,276.7 305.8,278.4 342.5,279.3 379.2,276.6" fill="none" stroke="#1414e6" stroke-width="1.7" stroke-linejoin="round"/>
<rect x="192.4" y="271.4" width="6.6" height="6.6" fill="#1414e6"/>
<rect x="229.1" y="271.9" width="6.6" height="6.6" fill="#1414e6"/>
<rect x="265.8" y="273.4" width="6.6" height="6.6" fill="#1414e6"/>
<rect x="302.5" y="275.1" width="6.6" height="6.6" fill="#1414e6"/>
<rect x="339.2" y="276.0" width="6.6" height="6.6" fill="#1414e6"/>
<rect x="375.9" y="273.3" width="6.6" height="6.6" fill="#1414e6"/>
<polygon points="243.40,283.38 244.22,285.05 246.06,285.31 244.73,286.61 245.05,288.45 243.40,287.58 241.75,288.45 242.07,286.61 240.74,285.31 242.58,285.05" fill="#1c1c1c"/>
<polygon points="233.00,300.08 233.82,301.75 235.66,302.01 234.33,303.31 234.65,305.15 233.00,304.28 231.35,305.15 231.67,303.31 230.34,302.01 232.18,301.75" fill="#1c1c1c"/>
<polygon points="266.85,307.28 267.67,308.95 269.51,309.21 268.18,310.51 268.50,312.35 266.85,311.48 265.20,312.35 265.52,310.51 264.19,309.21 266.03,308.95" fill="#1c1c1c"/>
<polygon points="272.75,307.28 273.57,308.95 275.41,309.21 274.08,310.51 274.40,312.35 272.75,311.48 271.10,312.35 271.42,310.51 270.09,309.21 271.93,308.95" fill="#1c1c1c"/>
<polygon points="268.05,336.88 268.87,338.55 270.71,338.81 269.38,340.11 269.70,341.95 268.05,341.08 266.40,341.95 266.72,340.11 265.39,338.81 267.23,338.55" fill="#1c1c1c"/>
<polygon points="273.95,336.88 274.77,338.55 276.61,338.81 275.28,340.11 275.60,341.95 273.95,341.08 272.30,341.95 272.62,340.11 271.29,338.81 273.13,338.55" fill="#1c1c1c"/>
<polygon points="303.95,324.68 304.77,326.35 306.61,326.61 305.28,327.91 305.60,329.75 303.95,328.88 302.30,329.75 302.62,327.91 301.29,326.61 303.13,326.35" fill="#1c1c1c"/>
<polygon points="309.85,324.68 310.67,326.35 312.51,326.61 311.18,327.91 311.50,329.75 309.85,328.88 308.20,329.75 308.52,327.91 307.19,326.61 309.03,326.35" fill="#1c1c1c"/>
<polygon points="303.65,351.98 304.47,353.65 306.31,353.91 304.98,355.21 305.30,357.05 303.65,356.18 302.00,357.05 302.32,355.21 300.99,353.91 302.83,353.65" fill="#1c1c1c"/>
<polygon points="309.55,351.98 310.37,353.65 312.21,353.91 310.88,355.21 311.20,357.05 309.55,356.18 307.90,357.05 308.22,355.21 306.89,353.91 308.73,353.65" fill="#1c1c1c"/>
<polygon points="336.09,326.68 336.91,328.35 338.75,328.61 337.42,329.91 337.74,331.75 336.09,330.88 334.45,331.75 334.76,329.91 333.43,328.61 335.27,328.35" fill="#1c1c1c"/>
<polygon points="341.99,326.68 342.81,328.35 344.65,328.61 343.32,329.91 343.64,331.75 341.99,330.88 340.35,331.75 340.66,329.91 339.33,328.61 341.17,328.35" fill="#1c1c1c"/>
<text x="345.3" y="331.7" font-size="8.5" font-weight="bold" fill="#1c1c1c" textLength="4.0" lengthAdjust="spacingAndGlyphs">#</text>
<polygon points="340.65,359.58 341.47,361.25 343.31,361.51 341.98,362.81 342.30,364.65 340.65,363.78 339.00,364.65 339.32,362.81 337.99,361.51 339.83,361.25" fill="#1c1c1c"/>
<polygon points="346.55,359.58 347.37,361.25 349.21,361.51 347.88,362.81 348.20,364.65 346.55,363.78 344.90,364.65 345.22,362.81 343.89,361.51 345.73,361.25" fill="#1c1c1c"/>
<polygon points="372.08,290.78 372.91,292.45 374.75,292.71 373.41,294.01 373.73,295.85 372.08,294.98 370.44,295.85 370.75,294.01 369.42,292.71 371.26,292.45" fill="#1c1c1c"/>
<polygon points="377.98,290.78 378.81,292.45 380.65,292.71 379.31,294.01 379.63,295.85 377.98,294.98 376.34,295.85 376.65,294.01 375.32,292.71 377.16,292.45" fill="#1c1c1c"/>
<text x="381.3" y="295.8" font-size="8.5" font-weight="bold" fill="#1c1c1c" textLength="8.0" lengthAdjust="spacingAndGlyphs">##</text>
<polygon points="377.05,365.28 377.87,366.95 379.71,367.21 378.38,368.51 378.70,370.35 377.05,369.48 375.40,370.35 375.72,368.51 374.39,367.21 376.23,366.95" fill="#1c1c1c"/>
<polygon points="382.95,365.28 383.77,366.95 385.61,367.21 384.28,368.51 384.60,370.35 382.95,369.48 381.30,370.35 381.62,368.51 380.29,367.21 382.13,366.95" fill="#1c1c1c"/>
<line x1="432.1" y1="281.6" x2="449.8" y2="281.6" stroke="#e3232d" stroke-width="1.6"/>
<circle cx="441.0" cy="281.6" r="2.6" fill="#e3232d"/>
<text transform="translate(458.93,285.20) scale(1.2350,1)" font-size="10.61" fill="#222">Control</text>
<line x1="432.1" y1="299.5" x2="449.8" y2="299.5" stroke="#1414e6" stroke-width="1.6"/>
<rect x="438.4" y="296.9" width="5.2" height="5.2" fill="#1414e6"/>
<text transform="translate(458.94,303.10) scale(1.2271,1)" font-size="10.61" fill="#222">Control+DHM</text>
<line x1="432.1" y1="317.7" x2="449.8" y2="317.7" stroke="#5cc43c" stroke-width="1.6"/>
<polygon points="441.0,314.8 443.9,319.8 438.1,319.8" fill="#5cc43c"/>
<text transform="translate(458.83,321.40) scale(1.2313,1)" font-size="10.61" fill="#222">DNP+DP</text>
<line x1="432.1" y1="335.6" x2="449.8" y2="335.6" stroke="#a334e0" stroke-width="1.6"/>
<polygon points="441.0,338.5 443.9,333.5 438.1,333.5" fill="#a334e0"/>
<text transform="translate(458.83,339.20) scale(1.2413,1)" font-size="10.47" fill="#222">DNP+DP+DHM</text>
<text transform="translate(33.81,479.45) scale(0.8923,1)" font-size="31.98" fill="#111" stroke="#111" stroke-width="1.3">D</text>
<text transform="translate(116.23,465.70) scale(0.8390,1)" font-size="25.00" fill="#111" letter-spacing="1.50" stroke="#111" stroke-width="0.6">Control</text>
<rect x="76.7" y="472.4" width="166.7" height="159.1" fill="none" stroke="#6a69a8" stroke-width="1.35"/>
<rect x="102.3" y="494.4" width="25.3" height="26.3" fill="none" stroke="#f2aab2" stroke-width="0.9"/>
<rect x="127.6" y="494.4" width="51.0" height="26.3" fill="none" stroke="#bfeab8" stroke-width="0.9"/>
<rect x="178.6" y="494.4" width="35.8" height="26.3" fill="none" stroke="#adadef" stroke-width="0.9"/>
<rect x="102.3" y="520.7" width="25.3" height="52.0" fill="none" stroke="#f5f1a8" stroke-width="0.9"/>
<rect x="127.6" y="520.7" width="51.0" height="52.0" fill="none" stroke="#aef1f5" stroke-width="0.9"/>
<rect x="178.6" y="520.7" width="35.8" height="52.0" fill="none" stroke="#f1aef1" stroke-width="0.9"/>
<rect x="128.8" y="572.7" width="50.6" height="34.1" fill="none" stroke="#b8a8b0" stroke-width="0.9"/>
<rect x="179.4" y="572.7" width="34.2" height="34.1" fill="none" stroke="#a8b0a8" stroke-width="0.9"/>
<text transform="translate(339.77,482.75) scale(0.6405,1)" font-size="31.98" fill="#111" stroke="#111" stroke-width="1.3">E</text>
<text transform="translate(383.83,468.00) scale(0.8836,1)" font-size="23.84" fill="#111" letter-spacing="1.43" stroke="#111" stroke-width="0.6">Control+DHM</text>
<rect x="373.6" y="473.5" width="167.0" height="159.3" fill="none" stroke="#6a69a8" stroke-width="1.35"/>
<rect x="399.3" y="495.6" width="26.4" height="26.5" fill="none" stroke="#f2aab2" stroke-width="0.9"/>
<rect x="425.7" y="495.6" width="51.1" height="26.5" fill="none" stroke="#bfeab8" stroke-width="0.9"/>
<rect x="476.8" y="495.6" width="35.6" height="26.5" fill="none" stroke="#adadef" stroke-width="0.9"/>
<rect x="399.3" y="522.1" width="26.4" height="51.6" fill="none" stroke="#f5f1a8" stroke-width="0.9"/>
<rect x="425.7" y="522.1" width="51.1" height="51.6" fill="none" stroke="#aef1f5" stroke-width="0.9"/>
<rect x="476.8" y="522.1" width="35.6" height="51.6" fill="none" stroke="#f1aef1" stroke-width="0.9"/>
<rect x="426.7" y="573.7" width="50.1" height="35.0" fill="none" stroke="#b8a8b0" stroke-width="0.9"/>
<rect x="476.8" y="573.7" width="34.1" height="35.0" fill="none" stroke="#a8b0a8" stroke-width="0.9"/>
<text transform="translate(40.22,678.25) scale(0.8354,1)" font-size="31.10" fill="#111" stroke="#111" stroke-width="1.3">F</text>
<text transform="translate(115.85,663.60) scale(0.8781,1)" font-size="22.97" fill="#111" letter-spacing="1.38" stroke="#111" stroke-width="0.6">DNP+DP</text>
<rect x="76.6" y="669.1" width="167.2" height="159.2" fill="none" stroke="#6a69a8" stroke-width="1.35"/>
<rect x="102.1" y="691.9" width="25.6" height="25.5" fill="none" stroke="#f2aab2" stroke-width="0.9"/>
<rect x="127.7" y="691.9" width="51.3" height="25.5" fill="none" stroke="#bfeab8" stroke-width="0.9"/>
<rect x="179.0" y="691.9" width="35.7" height="25.5" fill="none" stroke="#adadef" stroke-width="0.9"/>
<rect x="102.1" y="717.4" width="25.6" height="52.4" fill="none" stroke="#f5f1a8" stroke-width="0.9"/>
<rect x="127.7" y="717.4" width="51.3" height="52.4" fill="none" stroke="#aef1f5" stroke-width="0.9"/>
<rect x="179.0" y="717.4" width="35.7" height="52.4" fill="none" stroke="#f1aef1" stroke-width="0.9"/>
<rect x="129.0" y="769.8" width="50.0" height="33.9" fill="none" stroke="#b8a8b0" stroke-width="0.9"/>
<rect x="179.0" y="769.8" width="34.0" height="33.9" fill="none" stroke="#a8b0a8" stroke-width="0.9"/>
<text transform="translate(334.33,676.55) scale(1.1162,1)" font-size="27.03" fill="#111" stroke="#111" stroke-width="1.3">G</text>
<text transform="translate(382.80,664.70) scale(0.8782,1)" font-size="23.55" fill="#111" letter-spacing="1.41" stroke="#111" stroke-width="0.6">DNP+DP+DHM</text>
<rect x="376.5" y="669.5" width="166.7" height="159.0" fill="none" stroke="#6a69a8" stroke-width="1.35"/>
<rect x="401.7" y="692.2" width="26.2" height="26.1" fill="none" stroke="#f2aab2" stroke-width="0.9"/>
<rect x="427.9" y="692.2" width="50.6" height="26.1" fill="none" stroke="#bfeab8" stroke-width="0.9"/>
<rect x="478.5" y="692.2" width="36.0" height="26.1" fill="none" stroke="#adadef" stroke-width="0.9"/>
<rect x="401.7" y="718.3" width="26.2" height="52.2" fill="none" stroke="#f5f1a8" stroke-width="0.9"/>
<rect x="427.9" y="718.3" width="50.6" height="52.2" fill="none" stroke="#aef1f5" stroke-width="0.9"/>
<rect x="478.5" y="718.3" width="36.0" height="52.2" fill="none" stroke="#f1aef1" stroke-width="0.9"/>
<rect x="429.0" y="770.5" width="49.5" height="34.3" fill="none" stroke="#b8a8b0" stroke-width="0.9"/>
<rect x="478.5" y="770.5" width="34.5" height="34.3" fill="none" stroke="#a8b0a8" stroke-width="0.9"/>
<path d="M108.9,500.1 C109.4,500.1 111.3,500.2 112.4,500.1 C113.5,500.0 114.6,499.3 115.5,499.2 C116.5,499.1 117.2,499.4 118.1,499.3 C119.0,499.2 119.9,499.0 120.8,498.9 C121.7,498.7 122.6,498.4 123.4,498.5 C124.3,498.5 125.0,499.0 125.8,498.9 C126.7,498.9 127.5,498.4 128.4,498.4 C129.3,498.4 130.3,498.8 131.2,498.8 C132.0,498.9 132.6,498.6 133.5,498.7 C134.4,498.8 135.5,499.2 136.5,499.4 C137.5,499.5 138.5,499.6 139.4,499.6 C140.2,499.6 140.7,499.4 141.5,499.4 C142.3,499.5 143.1,499.9 144.1,499.9 C145.0,499.9 146.3,499.4 147.1,499.3 C148.0,499.2 148.2,499.4 149.0,499.4 C149.7,499.5 150.6,499.7 151.5,499.7 C152.4,499.7 153.6,499.6 154.4,499.6 C155.2,499.6 155.6,499.7 156.4,499.8 C157.2,499.8 158.2,499.9 159.2,500.0 C160.3,500.0 161.7,500.1 162.7,500.2 C163.7,500.2 164.3,500.3 165.3,500.2 C166.2,500.2 167.4,499.7 168.4,499.8 C169.4,500.0 170.3,500.8 171.2,501.1 C172.2,501.4 173.1,501.5 173.9,501.7 C174.7,501.8 175.3,501.7 176.1,501.9 C176.9,502.1 177.7,502.6 178.5,502.7 C179.4,502.7 180.2,502.2 181.1,502.1 C182.0,501.9 183.0,502.1 183.9,502.0 C184.8,502.0 185.8,501.9 186.7,501.8 C187.5,501.8 188.1,501.7 189.0,501.8 C189.9,501.9 191.2,502.3 192.2,502.6 C193.3,502.9 194.1,503.5 195.2,503.7 C196.4,503.9 197.9,503.7 198.9,503.7 C199.9,503.7 200.3,503.7 201.1,503.6 C201.9,503.5 202.7,503.2 203.7,503.2 C204.6,503.2 206.2,503.1 206.6,503.7 C207.1,504.3 206.4,505.7 206.4,506.8 C206.3,507.8 206.1,509.0 206.1,510.0 C206.1,511.0 206.3,511.9 206.5,512.8 C206.6,513.7 207.0,514.3 207.0,515.3 C207.0,516.3 206.4,517.8 206.4,518.7 C206.4,519.5 206.9,519.8 207.0,520.6 C207.1,521.3 207.1,522.1 207.1,523.1 C207.1,524.1 207.0,525.5 207.0,526.4 C207.0,527.4 207.3,528.0 207.2,528.7 C207.2,529.5 206.7,530.1 206.6,530.9 C206.4,531.8 206.4,532.9 206.4,533.8 C206.4,534.7 206.6,535.5 206.6,536.3 C206.7,537.1 206.5,537.7 206.6,538.7 C206.7,539.7 207.0,541.2 207.1,542.3 C207.3,543.3 207.3,544.0 207.3,545.0 C207.3,545.9 207.4,546.9 207.4,547.8 C207.3,548.7 207.1,549.6 207.0,550.5 C206.9,551.3 207.0,552.0 206.9,553.0 C206.8,553.9 206.5,555.0 206.4,556.1 C206.3,557.2 206.3,558.4 206.4,559.4 C206.4,560.4 206.7,561.1 206.8,562.1 C206.8,563.2 206.6,564.6 206.5,565.6 C206.5,566.5 206.7,566.9 206.6,567.7 C206.6,568.5 206.1,569.5 206.1,570.3 C206.0,571.2 206.1,572.1 206.1,573.1 C206.2,574.1 206.4,575.4 206.5,576.3 C206.6,577.2 206.7,577.7 206.7,578.6 C206.7,579.4 206.6,580.6 206.5,581.5 C206.3,582.4 205.9,583.1 205.9,584.0 C206.0,584.9 206.6,585.9 206.7,586.7 C206.7,587.6 206.9,588.5 206.5,589.1 C206.1,589.7 205.3,589.8 204.5,590.3 C203.7,590.9 202.5,591.7 201.7,592.3 C200.8,592.8 200.3,593.3 199.3,593.8 C198.3,594.3 196.8,594.9 195.7,595.2 C194.7,595.5 194.0,595.2 193.0,595.4 C191.9,595.6 190.3,595.9 189.4,596.3 C188.5,596.7 188.3,597.3 187.3,597.6 C186.4,598.0 184.8,598.2 183.9,598.4 C183.0,598.6 182.7,598.7 181.9,599.0 C181.0,599.2 179.6,599.6 178.6,599.7 C177.6,599.9 176.6,599.8 175.8,600.2 C175.0,600.5 174.7,601.3 173.8,601.6 C172.9,602.0 171.5,602.1 170.3,602.2 C169.2,602.4 168.2,602.5 167.2,602.6 C166.2,602.6 165.4,602.3 164.4,602.3 C163.4,602.4 162.2,602.7 161.2,603.0 C160.2,603.2 159.4,603.6 158.5,603.8 C157.6,604.0 156.7,604.0 155.8,604.2 C154.9,604.3 153.9,604.5 153.0,604.4 C152.1,604.4 151.4,603.9 150.5,603.9 C149.7,603.8 148.9,604.1 148.1,604.1 C147.2,604.1 146.1,604.1 145.2,603.9 C144.3,603.8 143.6,603.6 142.6,603.4 C141.7,603.3 140.6,603.1 139.5,603.0 C138.5,603.0 137.5,603.1 136.3,603.2 C135.2,603.4 133.9,603.8 132.8,603.9 C131.8,603.9 130.8,603.6 129.9,603.6 C129.0,603.6 128.3,603.8 127.3,603.8 C126.3,603.9 124.9,603.9 123.8,603.9 C122.8,604.0 122.0,604.4 120.9,604.3 C119.9,604.3 118.7,603.8 117.7,603.6 C116.7,603.3 115.9,603.0 115.0,602.8 C114.2,602.6 113.2,603.1 112.7,602.5 C112.2,601.9 112.1,600.5 112.0,599.4 C111.9,598.3 111.9,596.9 111.8,595.9 C111.7,594.8 111.5,594.1 111.4,593.2 C111.3,592.3 111.3,591.5 111.2,590.6 C111.1,589.7 111.1,588.6 111.0,587.7 C111.0,586.8 110.9,586.1 110.9,585.3 C110.9,584.4 110.9,583.5 110.9,582.4 C111.0,581.4 111.0,579.9 110.9,579.0 C110.8,578.0 110.4,577.7 110.3,576.7 C110.2,575.7 110.5,574.1 110.3,573.1 C110.2,572.1 109.6,571.4 109.4,570.5 C109.2,569.5 109.2,568.3 109.1,567.4 C109.0,566.5 108.8,565.8 108.8,564.9 C108.9,564.0 109.3,563.1 109.3,562.2 C109.2,561.2 108.5,560.2 108.5,559.1 C108.4,558.0 108.6,556.6 108.7,555.7 C108.7,554.7 108.8,554.3 108.6,553.5 C108.5,552.6 107.9,551.6 107.8,550.5 C107.7,549.5 107.9,548.3 108.0,547.3 C108.1,546.4 108.6,545.8 108.5,544.9 C108.5,543.9 107.9,542.7 107.8,541.7 C107.8,540.7 108.1,539.8 108.2,538.9 C108.2,537.9 107.8,537.1 107.9,536.1 C107.9,535.1 108.3,534.0 108.4,533.1 C108.4,532.1 108.3,531.5 108.2,530.7 C108.1,529.8 107.7,528.7 107.8,527.8 C107.8,526.9 108.4,526.0 108.5,525.2 C108.5,524.4 108.1,523.8 108.1,522.9 C108.2,522.1 108.9,521.2 109.0,520.2 C109.0,519.2 108.6,517.8 108.5,516.9 C108.4,515.9 108.5,515.5 108.6,514.6 C108.7,513.7 108.9,512.2 109.0,511.3 C109.1,510.4 109.1,510.1 109.2,509.2 C109.3,508.3 109.6,506.8 109.6,505.9 C109.6,505.0 109.1,504.6 109.1,503.8 C109.1,502.9 109.4,501.2 109.5,500.6" fill="none" stroke="#111" stroke-width="0.55" stroke-linejoin="round"/>
<path d="M109.4,500.7 C110.0,500.7 112.0,500.9 113.0,500.7 C113.9,500.6 114.4,499.9 115.3,499.7 C116.2,499.6 117.4,500.0 118.4,499.9 C119.4,499.8 120.2,499.2 121.3,499.2 C122.3,499.1 123.7,499.7 124.7,499.5 C125.8,499.4 126.6,498.7 127.6,498.5 C128.6,498.4 129.9,498.7 130.9,498.7 C132.0,498.7 133.0,498.5 134.0,498.6 C135.0,498.7 136.0,499.2 136.9,499.2 C137.8,499.3 138.4,498.9 139.4,498.9 C140.3,498.9 141.6,499.1 142.6,499.1 C143.5,499.1 144.4,499.0 145.3,499.1 C146.1,499.2 146.7,499.5 147.6,499.6 C148.5,499.8 149.6,500.0 150.6,499.9 C151.6,499.8 152.7,499.3 153.6,499.3 C154.6,499.2 155.3,499.4 156.3,499.5 C157.2,499.7 158.6,500.1 159.5,500.1 C160.4,500.1 160.8,499.7 161.6,499.7 C162.4,499.8 163.3,500.4 164.2,500.4 C165.0,500.4 165.8,499.8 166.6,499.7 C167.4,499.7 168.0,499.9 169.1,500.2 C170.1,500.4 171.8,501.0 173.0,501.3 C174.2,501.6 175.0,501.9 176.0,502.1 C177.1,502.2 178.5,502.0 179.4,502.1 C180.3,502.2 180.7,502.7 181.6,502.6 C182.5,502.6 183.9,501.9 185.0,501.8 C186.0,501.7 186.9,502.0 187.8,502.0 C188.7,502.1 189.6,502.0 190.4,502.0 C191.2,501.9 192.0,501.9 192.8,502.0 C193.7,502.1 194.5,502.5 195.5,502.6 C196.5,502.7 197.7,502.7 198.7,502.7 C199.7,502.8 200.5,502.7 201.3,502.9 C202.1,503.0 202.5,503.5 203.3,503.5 C204.2,503.6 205.9,502.8 206.3,503.3 C206.8,503.7 205.8,505.0 205.8,506.0 C205.8,507.0 206.1,508.3 206.2,509.1 C206.3,510.0 206.0,510.6 206.2,511.4 C206.3,512.2 206.9,512.9 207.0,514.0 C207.1,515.0 206.7,516.6 206.7,517.6 C206.7,518.6 207.2,518.9 207.2,519.8 C207.2,520.7 206.7,521.8 206.7,522.7 C206.7,523.7 207.3,524.6 207.4,525.7 C207.4,526.7 207.2,528.1 207.1,529.0 C206.9,529.9 206.6,530.3 206.6,531.2 C206.6,532.1 207.0,533.3 207.0,534.2 C206.9,535.2 206.3,536.2 206.2,537.1 C206.2,537.9 206.5,538.4 206.6,539.3 C206.7,540.2 206.4,541.4 206.6,542.4 C206.8,543.3 207.5,544.1 207.8,544.9 C208.0,545.6 208.1,546.1 208.1,546.9 C208.1,547.8 207.8,548.9 207.8,549.9 C207.8,551.0 208.3,552.3 208.2,553.2 C208.1,554.2 207.6,554.6 207.4,555.5 C207.3,556.4 207.2,557.6 207.2,558.6 C207.2,559.5 207.4,560.2 207.4,561.1 C207.3,562.1 207.1,563.4 207.0,564.5 C206.9,565.6 206.9,566.8 206.8,567.8 C206.7,568.8 206.5,569.6 206.4,570.7 C206.2,571.7 205.9,573.0 205.9,574.0 C205.9,574.9 206.4,575.4 206.4,576.4 C206.4,577.4 206.0,578.8 206.0,579.7 C205.9,580.6 206.1,580.9 206.1,581.8 C206.1,582.6 206.0,583.8 206.0,584.9 C206.1,585.9 206.2,587.0 206.4,587.9 C206.6,588.9 207.1,590.3 207.0,590.6 C206.9,590.9 206.5,589.7 205.8,589.8 C205.2,589.9 203.9,590.8 203.0,591.3 C202.2,591.7 201.8,592.0 200.9,592.3 C200.0,592.7 198.7,593.0 197.8,593.4 C196.9,593.8 196.3,594.3 195.5,594.8 C194.7,595.2 193.8,595.7 192.9,596.0 C192.0,596.3 191.1,596.2 190.2,596.4 C189.3,596.7 188.6,597.1 187.7,597.5 C186.8,597.8 185.7,598.1 184.8,598.4 C183.9,598.7 183.3,598.9 182.3,599.1 C181.3,599.4 180.0,599.6 178.9,599.9 C177.8,600.2 176.8,600.9 175.9,601.2 C174.9,601.4 174.2,601.2 173.3,601.4 C172.3,601.6 171.2,602.3 170.2,602.3 C169.2,602.4 168.3,601.9 167.4,602.0 C166.5,602.1 165.6,602.6 164.7,602.7 C163.8,602.8 162.9,602.5 161.9,602.7 C160.8,602.9 159.4,603.6 158.4,603.9 C157.3,604.2 156.7,604.5 155.7,604.5 C154.6,604.5 153.3,604.0 152.3,603.9 C151.3,603.9 150.4,603.8 149.6,603.9 C148.9,603.9 148.5,604.2 147.7,604.3 C146.9,604.3 145.9,604.1 145.0,604.1 C144.1,604.1 143.3,604.2 142.3,604.2 C141.2,604.3 139.7,604.5 138.7,604.4 C137.6,604.4 137.2,603.8 136.2,603.8 C135.2,603.7 134.0,604.1 132.8,604.1 C131.7,604.1 130.5,603.9 129.4,603.8 C128.4,603.7 127.3,603.5 126.3,603.5 C125.3,603.4 124.3,603.7 123.3,603.6 C122.4,603.6 121.8,603.2 120.6,603.1 C119.5,603.0 117.6,603.0 116.3,602.9 C115.1,602.8 113.9,603.0 113.3,602.5 C112.6,602.0 112.6,600.8 112.4,600.0 C112.3,599.2 112.5,598.6 112.3,597.7 C112.1,596.8 111.3,595.6 111.2,594.7 C111.0,593.9 111.2,593.4 111.2,592.5 C111.2,591.7 111.3,590.4 111.2,589.5 C111.1,588.7 110.7,588.3 110.6,587.5 C110.5,586.6 110.6,585.3 110.6,584.5 C110.5,583.7 110.4,583.3 110.3,582.5 C110.2,581.7 110.1,580.6 110.0,579.7 C109.9,578.8 109.8,577.8 109.8,577.0 C109.8,576.3 110.0,575.9 110.0,575.1 C109.9,574.2 109.3,572.8 109.2,571.8 C109.1,570.9 109.4,570.1 109.3,569.3 C109.1,568.6 108.5,568.2 108.4,567.5 C108.2,566.7 108.5,565.7 108.5,564.9 C108.5,564.1 108.4,563.4 108.4,562.4 C108.3,561.5 108.4,560.1 108.3,559.2 C108.2,558.3 107.8,557.7 107.8,557.0 C107.8,556.3 108.3,555.6 108.3,554.8 C108.2,553.9 107.7,552.9 107.7,552.0 C107.6,551.1 107.8,550.2 107.8,549.3 C107.8,548.4 107.6,547.3 107.6,546.4 C107.6,545.6 107.9,545.2 107.9,544.4 C107.9,543.5 107.5,542.2 107.5,541.3 C107.6,540.4 108.1,540.0 108.2,539.0 C108.2,538.1 107.6,536.5 107.6,535.6 C107.6,534.7 108.2,534.6 108.3,533.7 C108.3,532.8 107.8,531.2 107.8,530.2 C107.8,529.2 108.1,528.7 108.2,527.8 C108.3,527.0 108.4,526.2 108.4,525.3 C108.5,524.3 108.6,523.0 108.6,522.1 C108.7,521.1 108.8,520.2 108.8,519.3 C108.9,518.5 108.7,518.0 108.7,517.1 C108.8,516.2 109.3,514.7 109.4,513.7 C109.4,512.7 109.1,512.0 109.1,511.1 C109.1,510.2 109.5,509.3 109.5,508.4 C109.6,507.5 109.3,506.4 109.4,505.6 C109.4,504.7 110.0,504.3 110.1,503.4 C110.2,502.6 110.0,500.9 110.0,500.4" fill="none" stroke="#111" stroke-width="0.55" stroke-linejoin="round"/>
<path d="M110.0,499.5 C110.5,499.5 111.7,499.3 112.7,499.4 C113.7,499.4 115.2,499.6 116.2,499.6 C117.1,499.7 117.4,499.8 118.2,499.7 C119.1,499.5 120.0,499.0 121.1,498.9 C122.2,498.8 123.8,499.1 124.9,499.1 C126.0,499.0 126.8,498.6 127.7,498.5 C128.6,498.4 129.3,498.4 130.2,498.4 C131.1,498.4 132.1,498.4 133.2,498.5 C134.2,498.6 135.4,498.6 136.5,498.8 C137.5,499.1 138.5,499.7 139.5,500.0 C140.6,500.2 141.8,500.1 142.8,500.2 C143.8,500.2 144.7,500.1 145.6,500.1 C146.4,500.1 147.0,500.2 147.9,500.2 C148.8,500.2 149.9,500.3 150.9,500.3 C151.9,500.3 153.2,500.0 154.1,500.0 C155.1,500.0 155.7,500.3 156.6,500.2 C157.5,500.2 158.2,499.7 159.2,499.7 C160.2,499.8 161.6,500.5 162.7,500.7 C163.8,500.9 164.8,500.9 165.9,501.0 C166.9,501.1 168.1,501.3 169.1,501.4 C170.2,501.5 171.2,501.4 172.2,501.5 C173.2,501.6 174.1,501.8 175.1,501.9 C176.1,502.0 177.1,501.9 178.2,502.0 C179.3,502.1 180.6,502.5 181.6,502.5 C182.6,502.5 183.4,502.3 184.3,502.3 C185.2,502.3 186.0,502.6 186.9,502.7 C187.8,502.8 188.9,502.7 189.9,502.9 C190.9,503.0 191.9,503.5 192.8,503.7 C193.6,503.9 194.2,503.8 195.2,503.8 C196.1,503.8 197.6,503.9 198.5,503.9 C199.5,504.0 200.1,504.2 200.8,504.1 C201.5,504.0 202.1,503.5 202.9,503.4 C203.7,503.2 205.0,502.9 205.6,503.3 C206.2,503.6 206.3,504.8 206.4,505.7 C206.4,506.5 205.7,507.5 205.7,508.4 C205.6,509.3 206.0,510.3 206.1,511.2 C206.2,512.1 206.0,512.9 206.1,513.7 C206.1,514.6 206.4,515.3 206.4,516.2 C206.3,517.1 206.1,518.3 206.0,519.2 C205.9,520.1 205.8,520.7 205.8,521.6 C205.8,522.4 206.0,523.3 206.0,524.2 C206.0,525.1 205.8,526.3 205.8,527.0 C205.8,527.8 206.1,528.0 206.1,528.8 C206.2,529.6 206.1,530.8 206.1,531.7 C206.1,532.6 205.9,533.4 206.0,534.3 C206.0,535.2 206.3,536.3 206.4,537.2 C206.5,538.0 206.6,538.6 206.6,539.5 C206.7,540.4 206.6,541.6 206.8,542.6 C206.9,543.5 207.6,544.2 207.7,545.1 C207.8,546.0 207.3,547.1 207.3,548.0 C207.3,548.8 207.7,549.2 207.7,550.1 C207.7,551.1 207.2,552.5 207.2,553.5 C207.2,554.6 207.7,555.4 207.7,556.3 C207.6,557.2 207.3,558.1 207.2,559.1 C207.0,560.1 206.8,561.4 206.7,562.3 C206.6,563.3 206.6,564.0 206.6,564.9 C206.7,565.9 206.9,567.0 206.8,567.9 C206.8,568.8 206.4,569.5 206.3,570.3 C206.2,571.2 206.1,572.1 206.1,573.0 C206.1,573.9 206.4,575.0 206.5,575.8 C206.6,576.7 206.6,577.5 206.6,578.4 C206.6,579.3 206.3,580.2 206.3,581.0 C206.3,581.9 206.5,582.6 206.5,583.6 C206.4,584.5 206.2,585.8 206.2,586.7 C206.2,587.6 206.6,588.4 206.5,588.9 C206.5,589.4 206.3,589.4 205.8,589.8 C205.2,590.2 204.1,590.8 203.3,591.2 C202.5,591.6 201.7,591.8 200.9,592.3 C200.1,592.7 199.5,593.5 198.6,594.0 C197.6,594.4 196.1,594.6 195.2,594.9 C194.4,595.2 194.3,595.5 193.5,595.8 C192.6,596.1 191.2,596.6 190.2,596.8 C189.3,597.0 188.6,596.7 187.6,597.1 C186.6,597.5 185.0,598.6 184.0,599.0 C182.9,599.4 182.5,599.3 181.5,599.4 C180.5,599.5 179.1,599.6 178.1,599.8 C177.0,600.1 176.2,600.7 175.3,600.9 C174.4,601.1 173.3,600.7 172.5,600.8 C171.7,601.0 171.2,601.7 170.3,602.0 C169.4,602.3 167.9,602.4 166.9,602.6 C166.0,602.8 165.5,603.0 164.6,603.1 C163.8,603.3 162.8,603.4 162.0,603.6 C161.1,603.7 160.3,603.8 159.3,603.9 C158.4,603.9 157.1,604.0 156.1,604.1 C155.1,604.1 154.4,604.0 153.5,604.0 C152.6,604.0 151.5,604.2 150.6,604.1 C149.6,604.0 148.8,603.6 147.8,603.4 C146.9,603.3 145.7,603.3 144.7,603.2 C143.7,603.2 143.0,603.0 142.1,603.1 C141.2,603.1 140.3,603.2 139.4,603.4 C138.6,603.5 137.7,603.8 136.9,603.9 C136.0,604.1 135.2,604.4 134.3,604.5 C133.3,604.7 132.1,604.7 131.2,604.7 C130.3,604.8 129.8,604.7 129.0,604.7 C128.2,604.7 127.4,604.9 126.6,604.8 C125.7,604.7 124.5,604.4 123.7,604.2 C122.9,604.0 122.5,603.7 121.6,603.7 C120.8,603.6 119.5,603.7 118.4,603.6 C117.3,603.5 115.9,603.2 114.9,603.1 C114.0,602.9 113.0,603.4 112.6,602.8 C112.2,602.2 112.3,600.7 112.3,599.5 C112.3,598.4 112.5,597.0 112.5,595.8 C112.5,594.6 112.5,593.5 112.3,592.6 C112.2,591.7 111.9,591.2 111.6,590.4 C111.4,589.6 111.0,588.8 110.8,587.8 C110.5,586.9 110.4,585.6 110.3,584.7 C110.1,583.8 110.0,583.1 109.9,582.2 C109.8,581.2 109.6,580.0 109.5,579.0 C109.5,578.0 109.5,577.2 109.6,576.2 C109.7,575.2 109.8,574.1 109.9,573.1 C109.9,572.1 109.8,571.3 109.7,570.3 C109.7,569.4 109.4,568.2 109.3,567.3 C109.3,566.4 109.3,565.9 109.2,565.1 C109.2,564.2 109.2,563.3 109.1,562.4 C108.9,561.5 108.6,560.4 108.5,559.5 C108.3,558.6 108.2,558.0 108.1,557.3 C108.1,556.5 108.3,555.8 108.1,554.9 C108.0,554.1 107.3,553.3 107.3,552.4 C107.2,551.5 107.7,550.7 107.7,549.8 C107.7,548.8 107.2,547.8 107.1,546.9 C107.0,545.9 107.0,545.0 107.2,544.1 C107.4,543.3 108.0,542.6 108.1,541.9 C108.3,541.1 108.0,540.2 108.0,539.4 C108.1,538.5 108.3,537.5 108.4,536.5 C108.4,535.6 108.2,534.8 108.2,533.9 C108.2,533.0 108.4,532.2 108.4,531.2 C108.5,530.3 108.5,529.1 108.5,528.2 C108.6,527.3 108.5,526.7 108.5,525.9 C108.5,525.0 108.7,523.9 108.6,523.0 C108.5,522.1 108.0,521.1 108.0,520.4 C108.0,519.6 108.5,519.4 108.5,518.6 C108.6,517.8 108.4,516.4 108.4,515.5 C108.4,514.7 108.6,514.2 108.5,513.3 C108.5,512.5 108.3,511.2 108.3,510.3 C108.2,509.4 108.2,508.7 108.3,507.9 C108.3,507.0 108.4,506.1 108.5,505.3 C108.6,504.5 108.9,504.0 109.0,503.1 C109.1,502.3 109.1,500.7 109.1,500.2" fill="none" stroke="#111" stroke-width="0.55" stroke-linejoin="round"/>
<path d="M109.6,499.8 C110.1,499.9 111.5,500.2 112.3,500.1 C113.2,500.0 113.8,499.3 114.8,499.1 C115.7,498.9 117.2,498.9 118.0,498.9 C118.9,498.8 119.2,498.9 120.1,498.9 C120.9,498.9 122.3,498.9 123.4,498.8 C124.4,498.7 125.3,498.4 126.3,498.4 C127.2,498.4 128.4,499.0 129.2,498.9 C130.0,498.9 130.4,498.4 131.3,498.4 C132.1,498.4 133.3,498.9 134.2,498.9 C135.1,499.0 135.7,498.7 136.6,498.7 C137.4,498.7 138.3,498.7 139.2,498.9 C140.1,499.1 141.1,499.6 141.9,499.7 C142.8,499.8 143.3,499.6 144.2,499.5 C145.1,499.4 146.4,499.1 147.4,499.2 C148.4,499.2 149.3,499.8 150.2,499.9 C151.0,499.9 151.6,499.5 152.5,499.4 C153.3,499.4 154.6,499.5 155.5,499.6 C156.4,499.7 156.9,500.0 157.8,500.0 C158.7,500.0 159.9,499.5 160.8,499.5 C161.7,499.4 162.2,499.5 163.1,499.7 C164.0,499.9 165.1,500.3 166.1,500.5 C167.1,500.7 168.1,500.5 169.2,500.7 C170.2,500.8 171.4,501.2 172.4,501.3 C173.4,501.5 173.8,501.5 174.9,501.8 C176.0,502.0 177.9,502.8 179.0,502.9 C180.0,503.0 180.3,502.4 181.3,502.3 C182.2,502.2 183.5,502.2 184.5,502.2 C185.6,502.1 186.4,501.8 187.4,501.8 C188.3,501.8 189.4,502.0 190.2,502.1 C191.1,502.1 191.5,501.9 192.4,502.0 C193.4,502.1 194.9,502.7 195.9,502.8 C196.9,503.0 197.5,502.9 198.4,502.9 C199.3,503.0 200.2,503.4 201.1,503.4 C202.0,503.3 203.0,502.8 203.9,502.8 C204.8,502.8 206.1,502.5 206.5,503.2 C206.8,503.9 206.2,505.5 206.1,506.8 C205.9,508.1 205.6,509.9 205.5,511.0 C205.5,512.0 205.8,512.2 205.8,513.1 C205.9,513.9 205.9,515.0 206.0,515.9 C206.1,516.8 206.6,517.6 206.7,518.5 C206.7,519.4 206.4,520.6 206.3,521.5 C206.3,522.5 206.2,523.3 206.4,524.2 C206.6,525.0 207.2,525.8 207.3,526.6 C207.4,527.5 206.9,528.3 206.9,529.1 C206.8,529.9 207.2,530.6 207.3,531.3 C207.3,532.1 207.0,533.0 207.0,533.9 C207.1,534.7 207.3,535.8 207.4,536.6 C207.4,537.5 207.3,538.2 207.3,539.0 C207.2,539.9 206.9,540.9 207.0,541.8 C207.0,542.7 207.5,543.6 207.6,544.4 C207.6,545.3 207.4,546.1 207.2,547.0 C207.1,547.9 206.9,548.7 206.8,549.6 C206.8,550.4 207.0,551.2 207.0,552.0 C207.1,552.8 207.2,553.7 207.1,554.5 C207.1,555.3 206.9,556.0 206.8,556.9 C206.8,557.8 206.7,558.8 206.7,559.7 C206.7,560.6 206.9,561.5 206.8,562.4 C206.8,563.2 206.4,563.9 206.5,564.7 C206.5,565.6 207.1,566.4 207.1,567.3 C207.1,568.2 206.8,569.2 206.7,570.2 C206.6,571.2 206.4,572.4 206.3,573.3 C206.3,574.3 206.4,575.1 206.3,575.9 C206.3,576.7 206.2,577.1 206.2,578.0 C206.3,578.9 206.9,580.1 206.9,581.1 C206.9,582.1 206.3,582.9 206.2,583.8 C206.1,584.8 206.5,586.0 206.6,586.9 C206.6,587.8 206.3,588.5 206.3,589.2 C206.2,589.9 206.8,590.8 206.3,591.2 C205.8,591.6 204.0,591.4 203.1,591.6 C202.2,591.9 201.6,592.4 200.9,592.7 C200.1,593.0 199.5,593.4 198.7,593.6 C197.9,593.9 197.1,594.1 196.2,594.4 C195.3,594.7 194.4,595.3 193.5,595.6 C192.6,596.0 191.7,596.1 190.8,596.4 C189.9,596.7 188.9,597.2 188.0,597.4 C187.1,597.6 186.2,597.5 185.2,597.7 C184.3,597.8 183.4,598.0 182.4,598.3 C181.3,598.7 180.2,599.3 179.1,599.8 C178.0,600.3 176.8,600.8 175.7,601.1 C174.6,601.4 173.6,601.4 172.6,601.6 C171.7,601.8 171.0,602.1 170.1,602.1 C169.2,602.2 168.1,601.8 167.2,601.8 C166.2,601.8 165.2,601.9 164.3,602.0 C163.4,602.1 162.6,602.2 161.7,602.4 C160.7,602.7 159.5,603.1 158.6,603.3 C157.6,603.5 156.6,603.5 155.7,603.7 C154.8,603.8 154.2,604.1 153.2,604.1 C152.3,604.1 151.2,603.8 150.1,603.7 C149.1,603.7 148.0,603.6 147.0,603.6 C146.0,603.6 145.0,603.9 144.1,603.8 C143.2,603.8 142.5,603.4 141.7,603.4 C140.8,603.3 139.9,603.5 138.9,603.7 C138.0,603.8 136.8,604.3 135.8,604.3 C134.8,604.3 134.0,603.8 132.9,603.8 C131.8,603.9 130.5,604.6 129.4,604.6 C128.2,604.6 127.0,603.8 126.0,603.7 C125.0,603.7 124.4,604.0 123.5,604.1 C122.7,604.2 121.9,604.3 120.8,604.2 C119.8,604.2 118.2,604.2 116.9,604.0 C115.7,603.8 114.1,603.8 113.4,603.0 C112.7,602.3 113.0,600.6 112.8,599.4 C112.5,598.2 111.9,597.0 111.7,596.1 C111.5,595.1 111.5,594.6 111.4,593.7 C111.3,592.7 111.5,591.6 111.4,590.6 C111.2,589.6 110.7,588.6 110.5,587.7 C110.4,586.8 110.5,586.0 110.5,585.1 C110.4,584.3 110.3,583.6 110.3,582.7 C110.3,581.8 110.4,580.5 110.3,579.5 C110.2,578.6 109.6,577.8 109.5,576.9 C109.3,575.9 109.7,574.7 109.6,573.8 C109.5,572.9 109.1,572.4 108.8,571.4 C108.6,570.5 108.2,569.1 108.1,568.2 C108.1,567.2 108.5,566.7 108.5,565.8 C108.5,564.9 108.1,563.5 108.2,562.6 C108.2,561.7 108.5,561.2 108.6,560.5 C108.6,559.8 108.5,559.1 108.5,558.2 C108.6,557.3 108.7,556.1 108.7,555.1 C108.6,554.1 108.1,553.2 108.1,552.4 C108.0,551.5 108.4,550.9 108.4,550.0 C108.5,549.1 108.1,547.9 108.1,547.0 C108.1,546.1 108.5,545.4 108.5,544.6 C108.5,543.8 108.2,543.2 108.2,542.2 C108.2,541.2 108.4,539.6 108.4,538.6 C108.4,537.7 108.2,537.4 108.2,536.5 C108.1,535.7 108.1,534.7 108.0,533.7 C107.9,532.7 107.6,531.5 107.7,530.6 C107.8,529.7 108.3,529.0 108.4,528.1 C108.5,527.2 108.4,526.1 108.4,525.2 C108.3,524.4 108.3,523.8 108.3,523.0 C108.3,522.3 108.1,521.4 108.2,520.6 C108.2,519.8 108.4,519.2 108.5,518.4 C108.6,517.5 108.7,516.3 108.6,515.3 C108.6,514.3 108.3,513.4 108.3,512.6 C108.4,511.7 108.9,510.8 109.0,510.0 C109.1,509.1 108.7,508.2 108.7,507.5 C108.8,506.7 109.3,506.2 109.5,505.5 C109.7,504.7 109.8,503.8 109.9,502.9 C110.0,502.0 110.1,500.5 110.2,500.0" fill="none" stroke="#111" stroke-width="0.55" stroke-linejoin="round"/>
<path d="M155.9,506.6 C156.4,506.6 158.0,506.3 159.0,506.1 C159.9,506.0 160.7,505.8 161.6,505.7 C162.5,505.5 163.5,505.4 164.4,505.3 C165.3,505.2 166.1,505.0 166.9,505.0 C167.8,505.1 168.8,505.4 169.7,505.5 C170.6,505.6 171.5,505.6 172.3,505.7 C173.2,505.8 174.1,505.9 174.9,506.0 C175.8,506.0 176.5,506.0 177.3,505.9 C178.1,505.8 178.8,505.7 179.7,505.6 C180.5,505.6 181.5,505.4 182.4,505.4 C183.3,505.3 184.2,505.2 185.0,505.3 C185.8,505.3 186.6,505.6 187.4,505.5 C188.2,505.4 188.9,505.0 189.8,504.9 C190.6,504.8 191.6,504.9 192.5,504.9 C193.5,504.9 194.4,504.8 195.3,504.9 C196.2,504.9 197.0,505.2 197.9,505.3 C198.8,505.3 199.6,505.0 200.4,505.1 C201.3,505.1 202.1,505.3 203.0,505.4 C204.0,505.5 205.5,505.5 206.0,505.5" fill="none" stroke="#222" stroke-width="0.5" stroke-linejoin="round" stroke-linecap="round"/>
<path d="M109.0,517.8 C109.4,518.2 110.4,519.2 111.1,519.8 C111.7,520.5 112.5,521.1 113.1,521.7 C113.8,522.4 114.2,523.0 114.9,523.6 C115.6,524.3 116.6,525.1 117.3,525.8 C117.9,526.5 118.2,527.3 118.8,527.9 C119.4,528.5 120.5,528.8 120.9,529.5 C121.2,530.2 121.0,531.2 121.1,532.1 C121.1,533.0 121.1,533.9 121.1,534.8 C121.1,535.7 121.0,536.5 121.0,537.3 C121.0,538.2 121.0,539.1 121.0,539.9 C121.1,540.7 121.3,541.4 121.3,542.2 C121.3,543.0 121.2,543.8 121.3,544.7 C121.3,545.6 121.3,546.7 121.3,547.6 C121.3,548.5 121.5,549.2 121.4,550.1 C121.4,551.0 121.1,552.0 120.9,553.1 C120.8,554.1 120.8,555.5 120.4,556.6 C120.1,557.7 119.3,558.6 118.9,559.5 C118.4,560.4 118.2,561.1 117.9,562.0 C117.6,562.9 117.4,564.1 117.0,565.0 C116.7,566.0 116.2,566.7 115.8,567.7 C115.4,568.6 115.1,569.5 114.7,570.4 C114.2,571.4 113.6,572.4 113.3,573.4 C112.9,574.4 112.9,575.4 112.7,576.4 C112.6,577.3 112.5,578.1 112.4,579.1 C112.3,580.0 112.1,581.5 112.1,582.0" fill="none" stroke="#222" stroke-width="0.5" stroke-linejoin="round" stroke-linecap="round"/>
<path d="M112.3,530.4 C112.8,530.6 114.4,531.3 115.5,531.6 C116.7,531.9 118.2,532.0 119.4,532.2 C120.6,532.5 121.5,532.7 122.7,533.0 C123.8,533.3 125.2,533.6 126.3,533.9 C127.4,534.3 128.4,534.6 129.3,534.9 C130.2,535.2 131.0,535.4 131.9,535.6 C132.8,535.8 133.6,536.1 134.5,536.1 C135.4,536.2 136.4,535.9 137.2,535.9 C138.1,536.0 138.7,536.2 139.6,536.3 C140.4,536.4 141.4,536.6 142.3,536.6 C143.2,536.7 144.0,536.7 144.8,536.8 C145.6,536.9 146.3,537.1 147.2,537.2 C148.0,537.2 149.0,537.0 149.9,537.2 C150.8,537.3 151.7,538.1 152.5,538.3 C153.3,538.5 153.9,538.4 154.8,538.5 C155.6,538.7 156.7,539.0 157.6,539.2 C158.4,539.5 159.0,539.7 159.9,540.0 C160.8,540.3 161.8,540.6 162.8,540.9 C163.8,541.2 164.8,541.7 165.9,541.9 C166.9,542.1 168.1,542.0 169.0,542.3 C170.0,542.6 170.7,543.3 171.7,543.8 C172.6,544.2 173.7,544.5 174.7,544.9 C175.6,545.3 176.6,545.6 177.4,546.0 C178.2,546.3 178.7,546.5 179.5,546.9 C180.3,547.3 181.2,547.9 182.0,548.4 C182.8,548.8 183.5,549.0 184.3,549.4 C185.1,549.8 186.0,550.3 187.0,550.8 C187.9,551.2 189.2,551.6 190.1,552.0 C191.0,552.4 191.6,552.9 192.4,553.4 C193.1,553.9 193.9,554.5 194.6,555.0 C195.3,555.5 195.9,555.9 196.7,556.4 C197.4,556.9 198.3,557.5 199.1,557.9 C199.9,558.3 200.7,558.4 201.4,558.7 C202.2,559.0 203.3,559.7 203.7,559.9" fill="none" stroke="#222" stroke-width="0.5" stroke-linejoin="round" stroke-linecap="round"/>
<path d="M112.5,532.2 C113.0,532.3 114.3,532.8 115.3,533.2 C116.3,533.6 117.4,534.2 118.4,534.6 C119.4,535.0 120.3,535.1 121.2,535.5 C122.2,535.9 123.0,536.6 123.8,537.0 C124.7,537.4 125.6,537.5 126.5,537.8 C127.4,538.2 128.2,538.6 129.2,539.0 C130.1,539.5 131.6,540.2 132.1,540.4" fill="none" stroke="#222" stroke-width="0.5" stroke-linejoin="round" stroke-linecap="round"/>
<path d="M110.5,523.1 C110.5,523.6 110.4,524.9 110.4,525.9 C110.4,527.0 110.4,528.4 110.4,529.4 C110.4,530.4 110.1,531.0 110.2,532.1 C110.3,533.1 110.8,534.6 111.0,535.8 C111.3,536.9 111.3,538.1 111.8,539.0 C112.3,539.9 113.3,540.4 114.0,541.1 C114.7,541.8 115.4,542.6 116.0,543.2 C116.7,543.8 117.1,544.3 117.8,544.9 C118.5,545.5 119.8,546.5 120.2,546.8" fill="none" stroke="#222" stroke-width="0.5" stroke-linejoin="round" stroke-linecap="round"/>
<path d="M132.0,550.2 C132.0,549.8 131.9,548.5 131.8,547.6 C131.8,546.7 131.8,545.8 131.8,545.0 C131.8,544.2 131.9,543.4 131.9,542.6 C131.9,541.7 131.7,540.8 131.7,539.9 C131.6,539.1 131.7,538.4 131.8,537.6 C131.8,536.7 132.0,535.8 132.0,534.9 C131.9,534.0 131.6,533.0 131.6,532.2 C131.6,531.3 131.8,530.6 132.0,529.7 C132.1,528.8 132.2,527.9 132.4,527.0 C132.5,526.2 132.7,525.5 133.0,524.7 C133.4,523.9 134.0,523.2 134.5,522.3 C135.0,521.4 135.6,520.3 136.2,519.5 C136.7,518.7 137.2,518.3 137.8,517.6 C138.4,516.9 139.2,515.7 139.9,515.2 C140.6,514.6 141.4,514.7 142.1,514.3 C142.8,514.0 143.4,513.3 144.2,512.9 C144.9,512.6 145.8,512.5 146.6,512.1 C147.4,511.7 148.1,511.2 149.0,510.7 C149.8,510.2 150.9,509.8 151.7,509.3 C152.6,508.8 153.5,508.3 154.3,507.8 C155.1,507.3 155.7,506.5 156.7,506.1 C157.6,505.6 159.4,505.3 160.0,505.1" fill="none" stroke="#222" stroke-width="0.5" stroke-linejoin="round" stroke-linecap="round"/>
<path d="M129.4,499.1 C129.9,499.2 131.6,499.4 132.5,499.6 C133.5,499.8 134.1,500.2 135.0,500.5 C136.0,500.7 137.2,500.6 138.2,500.9 C139.2,501.2 139.9,501.8 140.9,502.3 C141.8,502.9 143.0,503.5 143.9,504.0 C144.8,504.4 145.5,504.7 146.3,505.1 C147.2,505.4 148.1,505.8 149.1,505.9 C150.0,506.1 151.0,505.8 152.0,505.9 C153.1,505.9 154.3,506.4 155.2,506.4 C156.1,506.4 156.8,505.9 157.6,505.7 C158.4,505.5 159.6,505.2 160.0,505.1" fill="none" stroke="#222" stroke-width="0.5" stroke-linejoin="round" stroke-linecap="round"/>
<path d="M117.0,502.3 C117.4,502.5 118.4,503.4 119.4,503.7 C120.4,504.0 121.5,504.3 122.8,504.2 C124.0,504.2 126.3,503.5 127.0,503.4" fill="none" stroke="#222" stroke-width="0.5" stroke-linejoin="round" stroke-linecap="round"/>
<path d="M188.2,510.3 C188.3,510.8 188.8,512.2 189.0,513.2 C189.2,514.3 189.4,515.3 189.5,516.3 C189.7,517.4 189.8,518.6 190.0,519.6 C190.2,520.5 190.5,521.3 190.7,522.2 C190.9,523.2 191.0,524.2 191.2,525.2 C191.3,526.2 191.3,527.1 191.6,528.1 C191.8,529.0 192.3,530.1 192.7,531.1 C193.1,532.0 193.6,532.9 194.0,533.8 C194.4,534.8 194.7,535.7 195.1,536.6 C195.6,537.5 196.1,538.3 196.7,539.3 C197.3,540.2 198.2,541.3 198.8,542.3 C199.4,543.3 199.9,544.3 200.3,545.1 C200.7,546.0 201.1,546.6 201.3,547.4 C201.6,548.3 201.4,549.2 201.8,550.2 C202.2,551.1 203.3,552.2 203.7,553.2 C204.1,554.1 204.1,555.0 204.3,555.8 C204.4,556.7 204.5,557.8 204.5,558.2" fill="none" stroke="#222" stroke-width="0.5" stroke-linejoin="round" stroke-linecap="round"/>
<path d="M181.4,507.5 C181.7,507.9 182.6,509.1 183.1,510.0 C183.6,510.9 184.0,512.0 184.4,512.9 C184.9,513.8 185.2,514.4 185.7,515.3 C186.1,516.1 186.9,517.3 187.3,518.2 C187.8,519.1 188.1,519.8 188.5,520.7 C189.0,521.7 189.5,522.8 190.0,523.7 C190.5,524.7 191.1,525.6 191.5,526.5 C192.0,527.5 192.3,528.6 192.8,529.5 C193.3,530.5 194.0,531.3 194.5,532.2 C194.9,533.2 195.0,534.2 195.4,535.2 C195.8,536.1 196.4,536.9 196.8,537.8 C197.2,538.8 197.7,539.9 197.9,540.9 C198.2,541.9 198.1,543.0 198.2,543.9 C198.3,544.9 198.5,545.7 198.7,546.7 C198.9,547.7 199.3,549.5 199.4,550.0" fill="none" stroke="#222" stroke-width="0.5" stroke-linejoin="round" stroke-linecap="round"/>
<path d="M190.1,539.1 C190.6,538.9 191.8,538.1 192.8,537.5 C193.8,536.9 195.1,536.3 196.1,535.7 C197.1,535.1 197.8,534.7 198.8,534.1 C199.8,533.5 200.9,532.8 202.0,532.3 C203.1,531.9 204.8,531.6 205.4,531.4" fill="none" stroke="#222" stroke-width="0.5" stroke-linejoin="round" stroke-linecap="round"/>
<path d="M198.8,511.0 C198.9,511.5 199.4,512.9 199.7,513.8 C200.0,514.7 200.2,515.6 200.6,516.6 C201.0,517.5 201.8,518.7 202.2,519.7 C202.5,520.6 202.6,521.3 202.7,522.2 C202.9,523.1 202.8,524.0 203.0,524.9 C203.1,525.9 203.6,527.0 203.7,527.9 C203.9,528.9 203.9,529.9 203.9,530.9 C204.0,531.8 204.2,532.7 204.3,533.7 C204.4,534.6 204.5,536.1 204.5,536.6" fill="none" stroke="#222" stroke-width="0.5" stroke-linejoin="round" stroke-linecap="round"/>
<path d="M178.8,505.9 C178.9,506.4 179.4,507.8 179.6,508.8 C179.9,509.8 180.1,510.9 180.3,512.0 C180.5,513.0 180.6,513.9 180.7,515.1 C180.9,516.4 181.4,518.8 181.5,519.5" fill="none" stroke="#222" stroke-width="0.5" stroke-linejoin="round" stroke-linecap="round"/>
<path d="M121.6,549.6 C121.8,549.9 122.1,550.9 122.5,551.8 C122.9,552.6 123.7,553.7 124.1,554.5 C124.6,555.3 124.9,555.8 125.3,556.6 C125.7,557.3 126.1,558.3 126.6,559.0 C127.1,559.7 127.7,560.1 128.2,560.9 C128.6,561.6 128.6,563.0 129.3,563.4 C129.9,563.8 131.6,563.3 132.1,563.3" fill="none" stroke="#222" stroke-width="0.5" stroke-linejoin="round" stroke-linecap="round"/>
<path d="M112.4,577.0 C112.8,576.6 113.7,575.6 114.4,575.0 C115.0,574.3 115.6,573.6 116.3,572.9 C117.0,572.3 117.9,571.6 118.6,571.0 C119.3,570.3 120.0,569.7 120.7,569.1 C121.4,568.5 122.1,567.7 122.9,567.4 C123.7,567.1 124.6,567.5 125.5,567.4 C126.3,567.3 127.2,567.4 128.0,566.7 C128.8,566.0 130.0,563.9 130.4,563.3" fill="none" stroke="#222" stroke-width="0.5" stroke-linejoin="round" stroke-linecap="round"/>
<path d="M133.4,548.2 C133.5,548.7 133.8,550.2 134.0,551.1 C134.3,551.9 134.6,552.5 134.9,553.4 C135.1,554.3 135.2,555.5 135.4,556.5 C135.6,557.5 135.8,558.5 135.9,559.5 C136.1,560.4 136.3,561.4 136.5,562.3 C136.7,563.2 136.9,563.9 137.1,564.8 C137.3,565.6 137.6,566.4 137.9,567.3 C138.1,568.3 138.3,569.4 138.5,570.2 C138.7,571.1 139.0,571.8 139.1,572.6 C139.3,573.5 139.3,574.3 139.5,575.2 C139.6,576.1 139.9,577.1 140.1,578.0 C140.4,579.0 140.6,579.9 140.8,580.8 C141.1,581.7 141.3,582.6 141.6,583.5 C141.8,584.4 142.2,585.2 142.4,586.1 C142.6,587.1 142.6,588.2 142.8,589.1 C143.0,590.0 143.2,590.8 143.5,591.6 C143.8,592.4 144.2,593.2 144.4,593.9 C144.6,594.7 145.0,595.6 144.7,596.3 C144.5,597.0 143.6,597.4 142.9,598.0 C142.3,598.6 141.4,599.4 140.6,599.9 C139.8,600.4 139.0,600.8 138.3,601.2 C137.5,601.6 136.6,602.3 136.3,602.5" fill="none" stroke="#222" stroke-width="0.5" stroke-linejoin="round" stroke-linecap="round"/>
<path d="M137.4,565.0 C137.2,565.4 136.5,566.7 136.0,567.6 C135.6,568.6 135.2,569.8 134.8,570.8 C134.5,571.7 134.1,572.5 133.9,573.3 C133.7,574.2 133.6,575.0 133.5,575.9 C133.4,576.7 133.4,577.6 133.3,578.5 C133.2,579.4 133.2,580.5 133.2,581.4 C133.2,582.3 133.4,583.1 133.3,583.9 C133.3,584.7 132.9,585.4 132.9,586.3 C132.8,587.2 133.0,588.2 133.0,589.1 C133.1,589.9 133.1,590.7 133.0,591.5 C133.0,592.3 132.7,593.2 132.7,594.0 C132.8,594.9 133.1,595.8 133.1,596.7 C133.1,597.5 133.0,598.2 132.7,599.2 C132.4,600.2 131.4,602.0 131.2,602.5" fill="none" stroke="#222" stroke-width="0.5" stroke-linejoin="round" stroke-linecap="round"/>
<path d="M137.2,564.4 C137.5,564.0 138.4,562.6 139.0,561.8 C139.6,560.9 139.7,560.1 140.5,559.2 C141.4,558.4 143.1,557.0 144.1,556.6 C145.2,556.2 146.0,556.7 146.8,556.7 C147.6,556.6 148.3,556.3 149.1,556.3 C149.9,556.3 150.9,556.6 151.8,556.7 C152.7,556.7 153.4,556.5 154.4,556.4 C155.3,556.4 156.5,556.4 157.4,556.4 C158.3,556.3 159.3,556.0 159.8,556.1 C160.2,556.2 159.6,556.7 160.1,557.2 C160.5,557.7 161.8,558.3 162.6,558.8 C163.3,559.4 163.9,559.9 164.6,560.3 C165.3,560.8 165.9,561.2 166.6,561.7 C167.3,562.2 168.0,562.9 168.7,563.5 C169.5,564.0 170.3,564.4 171.0,564.9 C171.7,565.4 172.1,566.0 172.8,566.6 C173.6,567.2 174.5,567.8 175.3,568.4 C176.0,569.0 176.7,569.7 177.4,570.3 C178.0,570.8 178.5,571.3 179.1,571.9 C179.7,572.5 180.3,573.1 181.0,573.7 C181.7,574.2 182.3,574.6 183.0,575.1 C183.8,575.6 184.9,576.0 185.7,576.6 C186.5,577.1 186.9,577.7 187.6,578.3 C188.3,578.8 189.2,579.3 190.1,579.7 C190.9,580.1 191.8,580.5 192.8,580.9 C193.8,581.3 195.0,581.9 196.0,582.3 C197.0,582.7 197.9,583.1 198.8,583.5 C199.8,584.0 200.8,584.6 201.7,585.2 C202.7,585.8 204.0,586.8 204.5,587.1" fill="none" stroke="#222" stroke-width="0.5" stroke-linejoin="round" stroke-linecap="round"/>
<path d="M133.7,599.3 C134.1,599.0 135.3,598.1 136.0,597.5 C136.7,596.9 137.1,596.1 137.9,595.5 C138.7,595.0 139.7,594.7 140.6,594.2 C141.5,593.6 142.5,592.9 143.2,592.2 C144.0,591.6 144.2,591.0 144.9,590.3 C145.6,589.6 146.6,588.8 147.3,588.1 C148.0,587.4 148.6,586.8 149.2,586.1 C149.8,585.5 150.4,584.7 151.0,584.1 C151.6,583.4 152.3,582.8 153.0,582.2 C153.7,581.7 154.6,581.2 155.3,580.5 C156.1,579.9 156.6,579.1 157.4,578.5 C158.2,577.9 159.3,577.1 160.2,576.7 C161.1,576.4 161.9,576.5 162.8,576.3 C163.8,576.1 164.7,575.8 165.7,575.6 C166.7,575.5 167.6,575.2 168.7,575.1 C169.9,575.1 171.3,575.3 172.4,575.5 C173.5,575.7 174.4,576.0 175.5,576.3 C176.5,576.6 177.5,576.8 178.5,577.1 C179.5,577.4 180.5,577.4 181.6,577.9 C182.6,578.4 184.0,579.2 184.8,580.1 C185.6,581.0 185.9,582.2 186.3,583.3 C186.8,584.3 187.2,585.2 187.5,586.4 C187.9,587.6 188.2,589.9 188.3,590.6" fill="none" stroke="#222" stroke-width="0.5" stroke-linejoin="round" stroke-linecap="round"/>
<path d="M112.6,583.7 C112.8,584.1 113.4,585.2 113.9,586.0 C114.3,586.8 114.7,587.7 115.3,588.5 C115.8,589.3 116.4,590.0 116.9,590.8 C117.5,591.6 117.8,592.4 118.3,593.2 C118.9,594.1 119.7,594.6 120.3,595.7 C120.9,596.8 121.6,599.2 121.9,599.9" fill="none" stroke="#222" stroke-width="0.5" stroke-linejoin="round" stroke-linecap="round"/>
<path d="M112.4,590.5 C112.6,590.8 113.1,591.8 113.5,592.7 C113.9,593.5 114.4,594.6 114.9,595.4 C115.3,596.1 115.4,596.7 116.1,597.3 C116.7,597.9 117.7,598.3 118.5,598.9 C119.4,599.5 120.6,600.5 121.0,600.8" fill="none" stroke="#222" stroke-width="0.5" stroke-linejoin="round" stroke-linecap="round"/>
<path d="M180.5,547.9 C181.0,548.2 182.4,549.0 183.3,549.6 C184.2,550.2 185.0,550.8 185.7,551.4 C186.5,552.0 187.1,552.7 187.8,553.2 C188.4,553.8 188.9,554.6 189.9,555.0 C190.8,555.4 192.5,555.4 193.6,555.7 C194.7,555.9 195.8,556.3 196.7,556.6 C197.6,557.0 198.1,557.3 198.9,557.6 C199.7,558.0 200.6,558.2 201.4,558.5 C202.2,558.9 203.3,559.7 203.7,559.9" fill="none" stroke="#222" stroke-width="0.5" stroke-linejoin="round" stroke-linecap="round"/>
<path d="M184.0,578.4 C184.4,578.5 185.8,578.4 186.6,578.5 C187.4,578.5 188.2,578.7 189.0,578.7 C189.9,578.7 190.8,578.7 191.7,578.6 C192.6,578.5 193.5,578.3 194.4,578.1 C195.3,577.9 196.3,577.5 197.3,577.3 C198.3,577.2 199.2,577.6 200.3,577.0 C201.4,576.4 203.1,574.9 203.9,573.6 C204.8,572.3 205.2,570.0 205.4,569.3" fill="none" stroke="#222" stroke-width="0.5" stroke-linejoin="round" stroke-linecap="round"/>
<path d="M205.3,590.8 C204.9,590.8 203.7,590.6 202.7,590.6 C201.8,590.5 200.5,590.4 199.5,590.4 C198.5,590.4 197.6,590.5 196.7,590.7 C195.8,591.0 194.9,591.4 194.0,591.7 C193.1,592.0 192.3,592.2 191.4,592.4 C190.4,592.7 189.4,593.0 188.3,593.3 C187.2,593.6 185.8,593.8 184.7,594.2 C183.6,594.6 182.0,595.5 181.5,595.7" fill="none" stroke="#222" stroke-width="0.5" stroke-linejoin="round" stroke-linecap="round"/>
<path d="M190.9,586.8 C191.2,586.7 192.2,586.2 192.7,586.3 C193.1,586.5 193.8,587.0 193.8,587.6 C193.8,588.1 193.2,589.4 192.7,589.5 C192.2,589.7 190.8,588.9 190.6,588.5 C190.4,588.1 191.3,587.3 191.5,587.0" fill="none" stroke="#222" stroke-width="0.5" stroke-linejoin="round" stroke-linecap="round"/>
<path d="M202.0,548.0 C202.1,548.5 202.6,549.8 202.9,550.7 C203.2,551.5 203.5,552.1 203.7,552.9 C203.9,553.7 204.1,554.5 204.2,555.4 C204.4,556.3 204.5,557.7 204.5,558.2" fill="none" stroke="#222" stroke-width="0.5" stroke-linejoin="round" stroke-linecap="round"/>
<path d="M406.2,500.9 C406.7,500.9 408.1,501.2 409.0,501.2 C409.9,501.2 410.9,500.9 411.9,500.8 C413.0,500.8 414.2,500.9 415.1,501.0 C416.1,501.0 416.8,501.1 417.6,501.1 C418.4,501.1 419.0,500.9 419.9,501.0 C420.8,501.1 422.1,501.5 423.0,501.6 C423.8,501.6 424.2,501.3 425.1,501.4 C425.9,501.4 427.1,501.7 428.1,501.8 C429.1,501.8 430.0,501.6 431.0,501.6 C432.1,501.5 433.3,501.5 434.3,501.5 C435.4,501.4 436.4,501.3 437.3,501.2 C438.2,501.2 438.9,501.1 439.8,501.1 C440.7,501.0 441.8,501.0 442.7,501.1 C443.6,501.1 444.6,501.3 445.4,501.3 C446.2,501.4 446.8,501.4 447.6,501.4 C448.3,501.3 449.3,501.2 450.1,501.2 C451.0,501.2 451.7,501.3 452.7,501.3 C453.6,501.3 454.8,501.3 455.6,501.3 C456.5,501.3 456.9,501.2 457.8,501.3 C458.6,501.3 459.9,501.4 460.8,501.5 C461.8,501.6 462.7,501.6 463.6,501.6 C464.5,501.7 465.5,501.9 466.4,501.9 C467.3,502.0 468.1,501.8 469.0,501.8 C469.9,501.8 471.1,502.1 472.0,502.2 C473.0,502.2 473.8,502.2 474.7,502.3 C475.7,502.3 476.7,502.4 477.7,502.5 C478.6,502.7 479.6,503.1 480.4,503.2 C481.3,503.3 482.1,503.1 483.0,503.2 C483.9,503.2 484.9,503.4 485.8,503.5 C486.7,503.6 487.5,503.6 488.5,503.7 C489.5,503.8 490.8,504.1 491.8,504.2 C492.8,504.2 493.5,504.1 494.5,504.2 C495.5,504.2 497.1,504.5 497.6,504.6" fill="none" stroke="#1a1a1a" stroke-width="0.5" stroke-linejoin="round" stroke-linecap="round"/>
<path d="M406.2,502.0 C406.7,502.1 408.1,502.3 409.0,502.4 C410.0,502.5 411.0,502.6 412.0,502.6 C413.0,502.7 414.0,502.7 415.0,502.7 C415.9,502.7 416.8,502.8 417.6,502.7 C418.4,502.6 419.0,502.3 419.8,502.3 C420.6,502.2 421.6,502.6 422.4,502.6 C423.2,502.5 423.9,502.2 424.8,502.2 C425.6,502.2 426.8,502.5 427.6,502.5 C428.5,502.5 429.0,502.3 429.8,502.2 C430.7,502.2 431.7,502.3 432.6,502.3 C433.5,502.4 434.3,502.4 435.1,502.4 C435.9,502.3 436.6,502.1 437.4,502.1 C438.1,502.1 438.9,502.3 439.8,502.3 C440.6,502.3 441.5,502.0 442.4,502.0 C443.4,502.0 444.5,502.1 445.4,502.2 C446.3,502.2 446.9,502.1 447.8,502.1 C448.6,502.1 449.5,502.1 450.3,502.1 C451.2,502.0 451.9,501.8 452.8,501.7 C453.6,501.6 454.4,501.6 455.2,501.6 C456.1,501.6 457.1,501.6 457.9,501.6 C458.8,501.7 459.5,501.9 460.5,502.0 C461.4,502.2 462.7,502.3 463.6,502.4 C464.5,502.5 465.1,502.6 465.9,502.6 C466.7,502.7 467.6,502.5 468.5,502.5 C469.4,502.6 470.3,502.8 471.2,502.9 C472.2,503.0 473.1,503.1 474.1,503.2 C475.0,503.2 476.0,503.2 476.9,503.3 C477.9,503.3 478.9,503.6 479.8,503.6 C480.8,503.7 481.6,503.7 482.6,503.7 C483.5,503.8 484.4,504.0 485.4,504.1 C486.3,504.3 487.2,504.5 488.2,504.7 C489.1,504.8 490.2,504.7 491.1,504.7 C492.0,504.8 492.8,504.9 493.8,505.0 C494.7,505.1 496.5,505.4 497.0,505.5" fill="none" stroke="#1a1a1a" stroke-width="0.5" stroke-linejoin="round" stroke-linecap="round"/>
<path d="M497.5,504.4 C497.7,504.8 498.4,506.0 498.7,506.8 C499.0,507.6 499.0,508.0 499.2,509.2 C499.3,510.4 500.0,513.0 499.6,513.9 C499.2,514.8 498.1,514.7 496.8,514.6 C495.6,514.4 493.2,513.6 492.1,512.9 C490.9,512.3 490.2,511.1 489.8,510.7" fill="none" stroke="#1a1a1a" stroke-width="0.5" stroke-linejoin="round" stroke-linecap="round"/>
<path d="M494.7,505.7 C495.0,506.1 496.2,507.3 496.9,508.0 C497.6,508.8 498.3,509.5 498.7,510.4 C499.1,511.2 499.2,512.4 499.3,513.4 C499.4,514.3 499.4,515.2 499.4,516.2 C499.5,517.2 499.8,518.1 499.6,519.1 C499.4,520.2 498.7,521.4 498.4,522.4 C498.1,523.4 498.1,524.2 497.8,525.2 C497.5,526.2 496.9,527.3 496.6,528.3 C496.2,529.3 495.9,530.7 495.8,531.2" fill="none" stroke="#1a1a1a" stroke-width="0.5" stroke-linejoin="round" stroke-linecap="round"/>
<path d="M491.4,513.0 C491.6,513.5 491.9,515.1 492.3,516.0 C492.6,516.9 493.1,517.5 493.5,518.4 C493.9,519.3 494.4,520.4 494.7,521.3 C495.0,522.1 495.0,522.7 495.2,523.6 C495.4,524.4 495.7,525.4 495.9,526.2 C496.1,527.1 496.2,527.7 496.5,528.6 C496.7,529.4 497.1,530.5 497.5,531.5 C497.8,532.5 498.2,533.7 498.5,534.7 C498.8,535.7 499.0,536.4 499.2,537.5 C499.5,538.5 499.8,539.9 500.1,540.9 C500.4,541.9 500.7,542.5 501.0,543.5 C501.4,544.5 501.8,545.8 502.1,546.7 C502.4,547.7 502.6,548.3 502.7,549.1 C502.9,550.0 502.9,550.9 502.9,551.8 C502.9,552.7 502.9,553.6 502.8,554.5 C502.8,555.4 502.6,556.4 502.6,557.3 C502.5,558.2 502.6,559.2 502.7,560.0 C502.7,560.9 502.8,561.6 502.8,562.5 C502.9,563.4 502.9,564.3 502.8,565.3 C502.7,566.3 502.5,567.4 502.4,568.3 C502.3,569.2 502.2,569.9 502.2,570.8 C502.1,571.7 502.0,572.8 502.0,573.9 C502.0,574.9 502.2,576.1 502.2,577.1 C502.1,578.1 501.8,579.0 501.7,579.9 C501.6,580.8 501.7,581.8 501.6,582.6 C501.5,583.5 501.4,584.2 501.2,585.0 C501.1,585.8 500.8,586.6 500.7,587.5 C500.6,588.3 500.7,589.3 500.7,590.2 C500.6,591.1 500.8,592.1 500.5,592.9 C500.1,593.7 499.1,594.0 498.3,594.8 C497.5,595.5 496.5,596.9 495.6,597.4 C494.7,597.9 494.0,597.7 493.1,597.9 C492.2,598.2 491.5,598.9 490.4,598.9 C489.3,598.9 487.2,598.2 486.6,598.1" fill="none" stroke="#1a1a1a" stroke-width="0.5" stroke-linejoin="round" stroke-linecap="round"/>
<path d="M495.9,531.1 C496.1,531.5 496.6,532.7 497.1,533.7 C497.5,534.6 498.1,535.8 498.6,536.8 C499.1,537.7 499.7,538.4 500.1,539.3 C500.4,540.1 500.3,541.2 500.5,542.0 C500.6,542.8 501.0,543.3 501.1,544.2 C501.2,545.1 500.9,546.3 500.9,547.2 C501.0,548.0 501.5,548.5 501.7,549.3 C501.8,550.1 501.6,551.1 501.6,552.0 C501.7,552.9 501.8,553.9 502.0,554.8 C502.1,555.7 502.3,556.6 502.4,557.6 C502.5,558.5 502.5,559.4 502.6,560.3 C502.7,561.2 502.8,562.2 503.0,563.2 C503.1,564.1 503.4,565.7 503.5,566.2" fill="none" stroke="#1a1a1a" stroke-width="0.5" stroke-linejoin="round" stroke-linecap="round"/>
<path d="M406.0,500.9 C406.1,501.4 406.4,502.9 406.5,503.9 C406.7,505.0 406.8,506.0 406.9,507.0 C406.9,508.1 407.0,509.2 407.0,510.2 C407.0,511.2 407.0,512.1 406.9,513.1 C406.9,514.0 406.6,514.9 406.5,515.8 C406.4,516.7 406.4,517.4 406.4,518.3 C406.4,519.2 406.5,520.3 406.4,521.3 C406.4,522.2 406.3,523.2 406.3,524.1 C406.2,525.0 406.0,525.7 406.0,526.5 C405.9,527.4 406.1,528.4 406.1,529.3 C406.0,530.2 405.8,531.0 405.7,532.0 C405.7,532.9 405.9,534.0 405.9,535.0 C405.9,536.0 405.9,536.9 405.8,537.8 C405.8,538.7 405.8,539.4 405.7,540.4 C405.6,541.3 405.4,542.5 405.2,543.5 C405.1,544.5 405.0,545.4 404.9,546.3 C404.9,547.2 404.8,548.0 404.8,548.9 C404.8,549.8 404.8,550.8 404.8,551.8 C404.8,552.8 405.0,554.1 404.9,555.0 C404.9,556.0 404.7,556.6 404.6,557.5 C404.5,558.4 404.4,559.6 404.4,560.5 C404.3,561.5 404.5,562.3 404.5,563.3 C404.5,564.2 404.5,565.3 404.5,566.2 C404.5,567.1 404.7,567.8 404.7,568.6 C404.7,569.5 404.4,570.5 404.4,571.4 C404.5,572.3 404.7,573.1 404.8,573.9 C404.9,574.8 405.0,575.6 405.0,576.5 C405.0,577.4 404.9,578.3 405.0,579.3 C405.0,580.2 405.2,581.2 405.3,582.0 C405.3,582.9 405.2,583.6 405.2,584.5 C405.3,585.4 405.5,586.6 405.5,587.4 C405.5,588.3 405.4,588.9 405.4,589.8 C405.3,590.6 405.3,591.8 405.3,592.7 C405.2,593.6 405.5,594.6 405.2,595.2 C404.9,595.7 403.8,595.8 403.5,595.9" fill="none" stroke="#1a1a1a" stroke-width="0.5" stroke-linejoin="round" stroke-linecap="round"/>
<path d="M407.9,534.7 C407.9,535.2 408.0,536.7 408.0,537.6 C408.1,538.5 408.1,539.3 408.1,540.3 C408.1,541.3 408.1,542.6 408.1,543.6 C408.1,544.6 408.2,545.4 408.3,546.3 C408.4,547.3 408.6,548.3 408.6,549.3 C408.6,550.2 408.3,551.5 408.4,552.2 C408.4,553.0 408.6,553.1 409.1,553.7 C409.5,554.4 410.2,555.2 410.9,555.9 C411.5,556.6 411.9,557.1 412.8,557.9 C413.7,558.7 415.6,559.8 416.3,560.7 C417.0,561.6 416.8,562.4 417.1,563.3 C417.3,564.2 417.3,565.1 417.6,566.1 C418.0,567.1 418.6,568.2 419.1,569.3 C419.6,570.4 420.5,571.9 420.5,572.8 C420.5,573.6 419.6,573.9 419.1,574.6 C418.7,575.3 418.3,576.2 417.8,577.0 C417.3,577.7 416.9,578.4 416.3,579.1 C415.7,579.8 414.8,580.6 414.2,581.3 C413.6,582.0 413.2,582.5 412.6,583.2 C412.0,583.9 411.5,584.6 410.7,585.5 C410.0,586.5 408.3,588.3 408.1,589.2 C408.0,590.0 409.3,590.0 409.8,590.7 C410.3,591.4 410.7,592.5 411.1,593.4 C411.6,594.2 411.9,595.3 412.5,596.1 C413.1,596.9 413.9,597.5 414.5,598.2 C415.2,598.9 415.9,600.0 416.2,600.4" fill="none" stroke="#1a1a1a" stroke-width="0.5" stroke-linejoin="round" stroke-linecap="round"/>
<path d="M412.9,508.1 C412.8,508.6 412.2,510.0 411.9,511.0 C411.7,512.0 410.9,512.9 411.2,514.0 C411.5,515.1 412.9,517.0 413.8,517.7 C414.8,518.5 416.0,518.2 416.9,518.4 C417.9,518.7 418.8,519.4 419.5,519.1 C420.3,518.9 420.8,517.8 421.4,517.1 C422.0,516.4 422.8,515.9 423.1,515.0 C423.4,514.0 423.1,512.6 423.2,511.4 C423.2,510.1 423.4,508.1 423.5,507.5" fill="none" stroke="#1a1a1a" stroke-width="0.5" stroke-linejoin="round" stroke-linecap="round"/>
<path d="M412.8,508.3 C413.3,508.5 414.9,509.1 415.8,509.4 C416.7,509.7 417.3,509.8 418.2,510.0 C419.1,510.3 420.0,510.5 421.0,510.8 C422.0,511.2 423.1,511.8 424.0,512.2 C425.0,512.5 425.8,512.7 426.8,513.0 C427.8,513.3 429.4,513.7 429.9,513.9" fill="none" stroke="#1a1a1a" stroke-width="0.5" stroke-linejoin="round" stroke-linecap="round"/>
<path d="M419.2,519.3 C419.3,519.9 419.5,522.0 419.5,523.2 C419.5,524.4 418.9,525.9 419.3,526.7 C419.8,527.6 421.3,527.7 422.2,528.3 C423.2,528.9 424.2,529.6 425.1,530.3 C426.1,530.9 427.0,531.4 427.8,532.0 C428.6,532.6 429.2,533.2 430.0,533.8 C430.8,534.4 431.8,534.9 432.4,535.6 C433.0,536.4 433.3,537.4 433.7,538.2 C434.2,539.0 434.5,539.8 434.9,540.6 C435.3,541.4 435.9,542.3 436.3,543.2 C436.6,544.2 436.7,545.3 436.9,546.2 C437.1,547.2 437.3,547.9 437.5,548.8 C437.7,549.8 437.8,550.8 438.1,551.8 C438.5,552.8 439.2,553.7 439.8,554.8 C440.4,555.9 441.6,557.2 441.9,558.2 C442.2,559.3 441.8,560.1 441.8,561.1 C441.7,562.1 442.0,563.4 441.8,564.3 C441.6,565.2 441.0,565.8 440.5,566.6 C440.0,567.5 439.8,568.9 438.8,569.2 C437.8,569.5 435.6,568.1 434.5,568.3 C433.4,568.4 433.1,569.5 432.2,570.0 C431.4,570.5 430.4,570.9 429.6,571.3 C428.7,571.7 427.6,572.4 427.2,572.6" fill="none" stroke="#1a1a1a" stroke-width="0.5" stroke-linejoin="round" stroke-linecap="round"/>
<path d="M439.7,503.7 C440.0,504.1 440.9,505.4 441.5,506.1 C442.1,506.8 442.8,507.2 443.4,507.9 C444.0,508.5 444.5,509.2 445.2,509.9 C445.8,510.7 446.7,511.3 447.3,512.2 C447.9,513.1 448.2,514.3 448.6,515.4 C449.0,516.4 449.3,517.4 449.7,518.4 C450.0,519.4 451.0,520.7 450.7,521.4 C450.4,522.2 449.0,522.3 448.1,522.8 C447.3,523.4 446.3,524.3 445.5,525.0 C444.7,525.6 444.0,526.0 443.3,526.6 C442.6,527.3 442.2,528.3 441.5,529.0 C440.8,529.8 440.1,530.6 439.3,531.2 C438.5,531.8 437.3,532.1 437.0,532.8 C436.6,533.5 437.2,534.5 437.3,535.5 C437.5,536.5 437.8,537.6 437.9,538.5 C438.0,539.5 437.7,540.1 437.9,541.0 C438.1,541.9 438.5,543.0 438.9,544.0 C439.2,544.9 439.7,545.9 440.0,546.8 C440.4,547.8 440.5,548.7 440.8,549.5 C441.1,550.4 441.5,551.1 441.8,551.9 C442.1,552.8 442.2,553.5 442.6,554.4 C442.9,555.3 443.4,556.5 443.8,557.3 C444.3,558.1 444.7,558.5 445.1,559.2 C445.4,559.9 445.7,560.7 446.1,561.5 C446.6,562.3 447.1,563.3 447.6,564.0 C448.0,564.8 448.4,565.4 448.8,566.2 C449.2,567.0 449.7,568.0 450.0,569.0 C450.4,570.0 450.5,571.4 450.8,572.4 C451.1,573.5 451.7,574.3 451.8,575.3 C451.9,576.3 451.6,577.4 451.4,578.4 C451.2,579.4 450.7,580.3 450.5,581.4 C450.3,582.4 450.6,583.9 450.2,584.7 C449.8,585.5 448.8,585.8 448.0,586.4 C447.2,586.9 446.2,587.4 445.4,588.0 C444.6,588.6 444.1,589.4 443.3,590.1 C442.6,590.7 441.7,591.3 441.0,591.9 C440.3,592.5 439.9,593.1 439.1,593.6 C438.4,594.1 437.1,594.6 436.2,595.0 C435.3,595.5 434.7,595.8 433.9,596.2 C433.1,596.7 432.3,597.1 431.4,597.6 C430.6,598.0 429.6,598.5 428.8,598.9 C427.9,599.4 426.7,599.8 426.3,600.0" fill="none" stroke="#1a1a1a" stroke-width="0.5" stroke-linejoin="round" stroke-linecap="round"/>
<path d="M406.0,541.0 C406.6,541.1 408.5,541.3 409.6,541.5 C410.6,541.6 411.5,541.8 412.4,542.1 C413.4,542.4 414.3,542.8 415.3,543.2 C416.2,543.6 417.3,544.1 418.3,544.6 C419.2,545.0 420.0,545.3 420.9,545.7 C421.9,546.0 423.0,546.2 424.0,546.6 C425.1,546.9 426.1,547.3 427.1,547.7 C428.1,548.0 429.1,548.3 430.1,548.6 C431.2,549.0 432.1,549.5 433.2,549.9 C434.2,550.4 435.2,551.0 436.5,551.3 C437.7,551.6 439.3,551.6 440.6,551.8 C441.9,552.0 442.9,552.4 444.0,552.6 C445.1,552.9 446.1,553.0 447.1,553.3 C448.0,553.7 448.9,554.6 450.0,554.6 C451.0,554.5 452.4,553.7 453.4,553.2 C454.4,552.7 455.4,552.1 456.1,551.7 C456.8,551.3 456.7,551.1 457.5,550.7 C458.3,550.2 459.9,549.1 460.9,548.7 C462.0,548.4 462.9,548.6 463.8,548.4 C464.8,548.3 465.6,548.1 466.5,547.9 C467.4,547.8 468.4,547.7 469.4,547.5 C470.3,547.2 471.0,546.6 472.1,546.5 C473.3,546.5 475.4,546.6 476.4,547.1 C477.4,547.7 478.3,548.9 478.2,549.6 C478.2,550.3 476.5,551.0 476.2,551.3" fill="none" stroke="#1a1a1a" stroke-width="0.5" stroke-linejoin="round" stroke-linecap="round"/>
<path d="M454.3,503.1 C454.4,503.7 454.6,505.5 454.8,506.8 C454.9,508.0 455.1,509.1 455.3,510.4 C455.5,511.7 455.9,513.5 456.1,514.7 C456.3,515.9 456.3,516.6 456.4,517.5 C456.4,518.4 456.3,519.1 456.3,520.1 C456.3,521.0 456.4,522.3 456.4,523.3 C456.3,524.2 456.1,525.0 456.1,525.9 C456.0,526.7 456.0,527.4 456.2,528.3 C456.3,529.2 456.7,530.3 457.0,531.3 C457.4,532.3 457.9,533.3 458.1,534.2 C458.3,535.2 458.3,536.1 458.3,537.1 C458.3,538.0 458.3,538.8 458.3,539.8 C458.3,540.8 458.6,541.9 458.5,543.0 C458.4,544.2 457.9,545.6 457.6,546.7 C457.4,547.8 457.1,548.9 456.9,549.8 C456.6,550.8 456.3,551.5 456.1,552.5 C455.9,553.4 455.9,554.2 455.6,555.5 C455.4,556.7 455.0,558.6 454.5,559.9 C454.1,561.2 453.4,562.5 452.9,563.5 C452.5,564.5 452.2,565.1 451.9,565.8 C451.5,566.5 450.9,567.1 450.7,567.9 C450.4,568.7 450.5,569.7 450.4,570.7 C450.3,571.6 450.1,573.0 450.0,573.5" fill="none" stroke="#1a1a1a" stroke-width="0.5" stroke-linejoin="round" stroke-linecap="round"/>
<path d="M413.6,595.9 C413.9,595.6 414.9,594.6 415.6,594.0 C416.3,593.4 417.2,592.8 417.8,592.2 C418.4,591.7 418.9,591.2 419.5,590.7 C420.1,590.1 420.9,589.3 421.5,588.8 C422.2,588.3 423.0,588.0 423.6,587.4 C424.2,586.8 424.7,585.9 425.3,585.2 C425.9,584.6 426.6,584.0 427.3,583.4 C427.9,582.8 428.4,582.4 429.0,581.8 C429.5,581.2 430.2,580.3 430.8,579.7 C431.4,579.1 431.8,578.6 432.4,578.1 C433.1,577.5 434.1,577.0 434.7,576.4 C435.3,575.8 435.5,575.1 436.1,574.4 C436.7,573.7 437.5,572.7 438.1,572.0 C438.7,571.2 439.6,570.2 439.9,569.9" fill="none" stroke="#1a1a1a" stroke-width="0.5" stroke-linejoin="round" stroke-linecap="round"/>
<path d="M438.8,569.1 C439.4,569.3 441.3,570.0 442.4,570.4 C443.5,570.9 444.2,571.5 445.2,571.9 C446.2,572.3 447.3,572.4 448.3,572.9 C449.2,573.3 450.3,574.1 450.8,574.5 C451.4,574.9 451.3,574.5 451.8,575.1 C452.2,575.6 452.7,577.0 453.3,577.8 C453.8,578.6 454.4,579.0 454.9,579.8 C455.5,580.6 455.9,581.8 456.4,582.8 C456.9,583.7 457.4,584.5 457.9,585.4 C458.5,586.3 458.7,587.4 459.5,588.2 C460.3,588.9 461.7,589.4 462.7,590.0 C463.7,590.6 464.6,591.4 465.5,591.8 C466.5,592.2 467.5,592.0 468.4,592.2 C469.3,592.3 470.1,592.3 471.0,592.7 C472.0,593.1 473.0,593.8 473.9,594.4 C474.8,595.0 475.6,595.8 476.5,596.3 C477.3,596.8 478.2,596.9 479.0,597.2 C479.9,597.4 480.7,597.6 481.5,597.9 C482.4,598.2 483.5,598.8 483.9,599.0" fill="none" stroke="#1a1a1a" stroke-width="0.5" stroke-linejoin="round" stroke-linecap="round"/>
<path d="M405.2,595.2 C405.7,595.3 407.3,595.8 408.2,596.0 C409.1,596.1 410.0,595.9 410.8,596.2 C411.6,596.6 412.2,597.5 412.9,598.1 C413.7,598.8 414.6,599.8 415.4,600.2 C416.2,600.6 417.2,600.4 418.0,600.4 C418.8,600.4 419.5,600.3 420.3,600.4 C421.1,600.5 421.9,600.9 422.7,600.9 C423.5,601.0 424.3,600.7 425.1,600.7 C426.0,600.7 427.0,601.0 427.9,601.0 C428.9,601.0 430.0,600.7 431.0,600.6 C431.9,600.6 432.8,600.8 433.7,600.8 C434.6,600.8 435.3,600.4 436.2,600.3 C437.1,600.3 438.3,600.3 439.1,600.3 C440.0,600.4 440.6,600.6 441.5,600.6 C442.4,600.7 443.5,600.5 444.4,600.4 C445.3,600.4 446.3,600.4 447.2,600.4 C448.1,600.4 448.7,600.5 449.6,600.5 C450.5,600.5 451.6,600.3 452.5,600.4 C453.4,600.4 454.3,600.7 455.2,600.8 C456.1,600.9 456.9,600.8 457.9,600.8 C458.9,600.7 460.1,600.5 461.1,600.5 C462.1,600.4 462.8,600.7 463.9,600.6 C464.9,600.6 466.2,600.4 467.2,600.4 C468.2,600.4 469.1,600.6 470.1,600.6 C471.0,600.6 472.2,600.4 473.1,600.4 C474.1,600.4 474.9,600.6 475.7,600.6 C476.6,600.7 477.4,600.4 478.3,600.5 C479.2,600.5 480.1,600.8 481.1,600.9 C482.0,600.9 482.7,600.8 484.0,600.9 C485.2,601.0 487.7,601.2 488.5,601.3" fill="none" stroke="#1a1a1a" stroke-width="0.5" stroke-linejoin="round" stroke-linecap="round"/>
<path d="M476.0,550.8 C476.3,551.3 477.2,552.7 477.8,553.8 C478.3,554.9 478.6,556.3 479.2,557.3 C479.8,558.3 480.7,558.9 481.5,559.8 C482.3,560.7 483.5,561.7 484.1,562.5 C484.7,563.3 484.6,563.9 485.0,564.7 C485.4,565.5 485.9,566.5 486.3,567.2 C486.7,568.0 487.0,568.6 487.3,569.4 C487.7,570.1 488.0,571.0 488.4,571.8 C488.7,572.7 489.1,573.7 489.4,574.6 C489.7,575.5 490.2,576.5 490.2,577.3 C490.3,578.1 489.6,578.7 489.5,579.5 C489.3,580.3 489.5,581.3 489.3,582.2 C489.2,583.0 489.3,583.8 488.6,584.5 C487.9,585.2 486.4,585.5 485.3,586.1 C484.2,586.8 482.9,587.3 481.9,588.2 C481.0,589.1 480.1,590.3 479.4,591.7 C478.7,593.0 477.8,595.5 477.5,596.3" fill="none" stroke="#1a1a1a" stroke-width="0.5" stroke-linejoin="round" stroke-linecap="round"/>
<path d="M486.8,589.5 C487.2,589.4 488.5,589.2 489.6,589.0 C490.6,588.8 491.9,588.6 493.0,588.3 C494.0,588.0 494.9,587.6 495.8,587.2 C496.8,586.9 498.0,586.7 498.7,586.2 C499.4,585.6 499.6,584.7 500.0,583.9 C500.5,583.2 501.0,582.1 501.2,581.7" fill="none" stroke="#1a1a1a" stroke-width="0.5" stroke-linejoin="round" stroke-linecap="round"/>
<path d="M459.4,588.0 C459.5,588.5 459.6,590.1 459.6,591.0 C459.7,591.9 459.7,592.5 459.7,593.4 C459.7,594.4 459.9,595.4 459.5,596.5 C459.1,597.7 457.8,599.8 457.5,600.4" fill="none" stroke="#1a1a1a" stroke-width="0.5" stroke-linejoin="round" stroke-linecap="round"/>
<path d="M460.1,596.4 C460.6,596.3 462.2,595.9 463.1,595.7 C464.1,595.5 464.9,595.4 465.8,595.3 C466.7,595.3 467.7,595.6 468.8,595.7 C469.9,595.9 471.0,596.1 472.3,596.2 C473.6,596.3 475.9,596.3 476.6,596.3" fill="none" stroke="#1a1a1a" stroke-width="0.5" stroke-linejoin="round" stroke-linecap="round"/>
<path d="M484.0,596.8 C484.4,597.1 485.6,597.9 486.2,598.5 C486.8,599.0 487.7,599.7 487.5,600.1 C487.3,600.6 485.5,601.3 484.8,601.1 C484.2,600.9 483.2,599.8 483.4,599.2 C483.6,598.6 485.6,597.8 486.0,597.5" fill="none" stroke="#1a1a1a" stroke-width="0.5" stroke-linejoin="round" stroke-linecap="round"/>
<path d="M407.0,502.1 C407.5,501.7 409.2,499.7 410.1,499.8 C410.9,500.0 411.3,502.9 412.1,502.9 C413.0,502.9 414.2,499.6 415.2,499.6 C416.2,499.7 417.1,503.0 418.1,503.2 C419.1,503.3 420.0,500.5 421.0,500.6 C422.0,500.6 423.5,503.0 424.0,503.5" fill="none" stroke="#1a1a1a" stroke-width="0.5" stroke-linejoin="round" stroke-linecap="round"/>
<path d="M406.5,501.0 C406.9,501.5 408.3,504.2 409.0,504.2 C409.7,504.1 410.2,501.0 410.8,500.7 C411.3,500.4 411.8,501.6 412.3,502.3 C412.9,502.9 413.6,504.5 414.1,504.5 C414.7,504.5 415.0,502.9 415.5,502.2 C416.0,501.5 416.4,499.8 417.1,500.1 C417.9,500.4 419.5,503.4 420.0,504.0" fill="none" stroke="#1a1a1a" stroke-width="0.5" stroke-linejoin="round" stroke-linecap="round"/>
<path d="M108.4,707.0 C109.0,706.5 111.0,704.6 112.1,704.0 C113.2,703.5 114.1,703.9 115.0,703.6 C116.0,703.4 117.0,702.9 118.0,702.6 C119.0,702.4 119.9,702.3 121.0,702.1 C122.1,702.0 123.6,701.9 124.7,701.7 C125.8,701.6 126.5,701.2 127.5,701.1 C128.5,701.0 129.7,701.0 130.6,701.0 C131.4,701.0 132.1,701.2 132.8,701.2 C133.6,701.2 134.4,701.1 135.2,700.9 C136.0,700.7 136.8,700.2 137.6,700.1 C138.5,700.0 139.1,700.2 140.1,700.1 C141.0,700.0 142.5,699.6 143.5,699.5 C144.4,699.4 144.9,699.8 145.7,699.7 C146.5,699.5 147.3,698.9 148.2,698.8 C149.1,698.6 150.1,698.6 151.1,698.7 C152.1,698.7 153.4,699.0 154.3,698.9 C155.2,698.9 155.7,698.6 156.6,698.4 C157.4,698.3 158.6,697.8 159.6,697.8 C160.6,697.8 161.6,698.5 162.6,698.6 C163.6,698.7 164.4,698.5 165.4,698.4 C166.5,698.3 167.7,697.9 168.8,697.9 C169.9,697.9 171.2,698.1 172.2,698.4 C173.2,698.6 174.0,699.2 174.9,699.3 C175.9,699.5 176.9,699.4 177.9,699.4 C178.9,699.4 179.8,699.5 180.7,699.5 C181.6,699.4 182.4,699.2 183.3,699.1 C184.2,699.0 185.1,698.9 186.1,699.0 C187.2,699.1 188.4,699.6 189.7,699.8 C191.0,700.1 192.6,700.3 193.8,700.5 C194.9,700.6 195.9,700.7 196.7,700.7 C197.6,700.7 198.0,700.5 199.0,700.4 C199.9,700.4 200.9,700.0 202.2,700.2 C203.5,700.4 205.9,700.7 206.6,701.4 C207.3,702.1 206.6,703.3 206.4,704.3 C206.3,705.3 205.9,706.5 205.8,707.4 C205.6,708.2 205.5,708.4 205.6,709.2 C205.7,710.1 206.2,711.4 206.3,712.3 C206.5,713.2 206.5,713.8 206.6,714.6 C206.6,715.4 206.6,716.3 206.6,717.1 C206.6,718.0 206.6,719.0 206.6,719.9 C206.7,720.8 206.9,721.6 206.9,722.5 C206.9,723.5 206.7,724.5 206.7,725.5 C206.6,726.4 206.5,727.4 206.6,728.3 C206.6,729.1 207.0,729.5 207.0,730.4 C207.0,731.3 206.7,732.5 206.7,733.5 C206.7,734.6 207.0,735.7 207.0,736.6 C207.1,737.6 206.8,738.3 206.9,739.2 C207.0,740.1 207.3,740.9 207.4,742.0 C207.4,743.0 207.4,744.4 207.4,745.4 C207.4,746.5 207.6,747.4 207.4,748.4 C207.3,749.3 206.6,750.3 206.4,751.2 C206.2,752.0 206.3,752.6 206.3,753.5 C206.3,754.5 206.3,755.9 206.3,756.8 C206.2,757.8 206.2,758.4 206.1,759.3 C206.0,760.2 205.5,761.3 205.5,762.1 C205.4,762.9 205.5,763.3 205.6,764.1 C205.6,764.8 205.9,765.7 206.0,766.6 C206.0,767.5 206.0,768.7 205.8,769.6 C205.7,770.5 205.3,771.3 205.2,772.1 C205.0,773.0 204.9,773.7 204.9,774.6 C204.9,775.4 205.2,776.5 205.1,777.3 C204.9,778.2 204.3,778.7 204.2,779.5 C204.1,780.3 204.8,781.2 204.7,782.3 C204.6,783.3 203.9,784.5 203.7,785.7 C203.4,786.9 203.9,788.2 203.3,789.4 C202.7,790.6 201.1,792.2 200.1,792.9 C199.1,793.5 198.4,793.1 197.4,793.3 C196.5,793.5 195.3,793.9 194.5,794.1 C193.6,794.3 193.0,794.6 192.1,794.8 C191.2,795.1 190.1,795.2 189.1,795.4 C188.1,795.7 186.9,795.9 185.9,796.1 C185.0,796.3 184.1,796.5 183.3,796.6 C182.4,796.8 181.7,796.9 180.9,796.8 C180.0,796.8 179.2,796.4 178.2,796.4 C177.3,796.4 176.2,796.7 175.2,796.8 C174.1,796.9 172.7,796.9 171.8,797.0 C170.8,797.1 170.1,797.6 169.2,797.7 C168.3,797.7 167.5,797.5 166.4,797.3 C165.4,797.1 164.0,796.8 163.0,796.7 C162.0,796.5 161.3,796.6 160.5,796.5 C159.6,796.4 158.6,796.2 157.7,796.2 C156.8,796.3 155.9,796.6 155.0,796.6 C154.2,796.7 153.4,796.6 152.5,796.6 C151.7,796.5 150.9,796.6 150.1,796.4 C149.3,796.3 148.4,795.9 147.5,795.7 C146.7,795.5 145.9,795.4 145.1,795.3 C144.3,795.3 143.5,795.4 142.6,795.5 C141.7,795.6 140.5,795.9 139.7,795.8 C138.8,795.6 138.2,794.9 137.4,794.8 C136.7,794.7 136.0,795.0 135.0,795.0 C134.0,795.1 132.5,794.8 131.3,794.9 C130.2,795.0 129.1,795.5 128.2,795.5 C127.2,795.6 126.7,795.7 125.6,795.4 C124.6,795.0 123.1,794.0 122.0,793.4 C121.0,792.8 120.1,792.4 119.4,791.8 C118.6,791.1 118.3,790.5 117.6,789.7 C116.8,788.9 115.6,788.0 115.0,787.1 C114.3,786.3 114.0,785.4 113.7,784.6 C113.5,783.8 113.6,783.0 113.3,782.2 C113.0,781.4 112.3,780.7 112.0,779.9 C111.7,779.1 111.6,778.1 111.5,777.2 C111.4,776.3 111.5,775.3 111.5,774.5 C111.5,773.7 111.3,773.1 111.3,772.3 C111.3,771.5 111.5,770.7 111.6,769.9 C111.6,769.0 111.4,767.9 111.4,767.1 C111.4,766.2 111.6,765.5 111.5,764.6 C111.4,763.7 111.1,762.5 111.0,761.5 C111.0,760.6 111.3,759.8 111.2,758.9 C111.0,758.0 110.3,757.0 110.2,756.2 C110.2,755.4 110.7,754.8 110.8,753.9 C110.9,753.0 110.7,751.7 110.7,750.8 C110.8,749.8 111.0,748.9 111.0,748.0 C111.0,747.0 110.6,746.0 110.6,745.0 C110.6,744.1 110.9,743.1 110.9,742.2 C110.9,741.4 110.3,740.7 110.3,739.8 C110.4,738.9 110.9,737.7 111.0,736.8 C111.1,736.0 111.1,735.6 110.9,734.7 C110.8,733.8 110.2,732.3 110.0,731.4 C109.9,730.4 110.0,729.6 109.9,728.9 C109.9,728.1 110.1,727.7 110.0,726.8 C109.8,726.0 109.4,724.8 109.2,723.8 C109.1,722.7 109.1,721.4 109.1,720.3 C109.0,719.3 109.2,718.5 109.1,717.5 C108.9,716.5 108.4,715.5 108.2,714.4 C108.1,713.4 108.1,712.2 108.2,711.1 C108.2,710.0 108.5,708.4 108.6,707.8" fill="none" stroke="#111" stroke-width="0.5" stroke-linejoin="round"/>
<path d="M108.5,707.1 C109.2,706.9 111.7,706.0 112.9,705.5 C114.1,705.0 114.9,704.5 115.8,704.3 C116.7,704.0 117.4,704.0 118.3,703.8 C119.2,703.6 120.3,703.2 121.4,703.0 C122.4,702.7 123.4,702.4 124.5,702.1 C125.5,701.8 126.6,701.5 127.7,701.2 C128.9,701.0 130.2,700.8 131.4,700.6 C132.5,700.3 133.6,700.1 134.6,700.0 C135.7,699.8 136.9,699.7 137.8,699.7 C138.8,699.7 139.3,699.8 140.2,699.8 C141.1,699.8 142.2,699.6 143.1,699.6 C143.9,699.6 144.4,699.8 145.3,699.8 C146.1,699.8 147.3,699.7 148.3,699.6 C149.2,699.4 149.9,698.9 150.9,698.7 C151.9,698.6 153.3,698.8 154.4,698.7 C155.4,698.7 156.3,698.4 157.3,698.4 C158.3,698.4 159.3,698.8 160.4,698.8 C161.4,698.9 162.6,698.8 163.5,698.8 C164.4,698.8 165.0,699.0 165.9,698.9 C166.8,698.8 167.8,698.4 168.8,698.4 C169.7,698.5 170.7,699.0 171.7,699.1 C172.7,699.2 173.9,699.0 174.9,699.1 C175.9,699.2 176.7,699.5 177.5,699.6 C178.4,699.7 179.1,699.6 180.1,699.6 C181.1,699.6 182.5,699.8 183.4,699.8 C184.3,699.9 184.8,699.9 185.6,700.0 C186.4,700.0 187.4,700.2 188.3,700.1 C189.3,700.1 190.2,699.7 191.1,699.7 C192.1,699.7 193.1,700.1 194.0,700.2 C194.9,700.4 195.6,700.6 196.5,700.5 C197.5,700.5 198.7,700.0 199.7,699.9 C200.6,699.9 201.3,700.1 202.0,700.3 C202.8,700.5 203.4,700.7 204.2,701.1 C205.0,701.6 206.6,702.2 206.8,703.0 C207.1,703.8 206.0,705.1 205.8,706.0 C205.7,706.9 206.0,707.6 206.1,708.6 C206.1,709.6 206.2,711.0 206.1,712.0 C206.0,713.0 205.7,713.9 205.7,714.7 C205.7,715.4 205.7,715.8 205.9,716.7 C206.0,717.5 206.6,718.7 206.6,719.6 C206.6,720.5 206.2,721.3 206.1,722.2 C206.1,723.0 206.4,724.0 206.5,724.9 C206.5,725.8 206.4,726.8 206.5,727.7 C206.5,728.7 206.9,729.6 207.0,730.6 C207.0,731.6 206.7,732.5 206.8,733.5 C206.8,734.5 207.2,735.5 207.2,736.5 C207.2,737.5 206.8,738.6 206.9,739.5 C206.9,740.5 207.3,741.2 207.3,742.1 C207.3,742.9 207.1,743.7 207.0,744.7 C206.9,745.7 206.7,747.1 206.7,748.0 C206.7,749.0 206.9,749.3 207.0,750.3 C207.0,751.3 207.2,753.0 207.1,754.1 C207.0,755.2 206.3,756.0 206.1,756.9 C205.9,757.8 206.0,758.5 206.1,759.3 C206.1,760.1 206.4,760.8 206.4,761.7 C206.4,762.6 206.0,763.7 205.9,764.6 C205.7,765.5 205.5,766.2 205.4,767.1 C205.3,768.0 205.5,769.0 205.4,770.0 C205.3,770.9 204.9,771.9 204.7,772.8 C204.5,773.7 204.3,774.5 204.1,775.5 C203.9,776.4 203.8,777.4 203.7,778.4 C203.6,779.4 203.6,780.6 203.6,781.5 C203.6,782.4 203.8,783.0 203.8,783.9 C203.8,784.9 203.7,786.3 203.6,787.1 C203.4,788.0 203.3,788.4 203.1,789.1 C202.8,789.8 202.4,790.6 202.0,791.3 C201.6,792.0 201.3,792.8 200.5,793.3 C199.8,793.7 198.3,793.9 197.3,794.1 C196.3,794.3 195.4,794.3 194.5,794.4 C193.6,794.4 192.9,794.1 191.9,794.4 C190.9,794.6 189.6,795.4 188.5,795.7 C187.3,796.0 185.9,796.1 184.9,796.3 C184.0,796.4 183.7,796.5 182.9,796.5 C182.1,796.5 181.0,796.2 180.2,796.2 C179.3,796.2 178.8,796.4 177.9,796.5 C177.0,796.7 175.8,797.1 174.7,797.2 C173.5,797.3 172.2,797.2 171.2,797.2 C170.1,797.3 169.2,797.4 168.2,797.4 C167.1,797.5 165.9,797.5 164.9,797.5 C163.9,797.5 163.2,797.4 162.3,797.4 C161.4,797.4 160.4,797.4 159.4,797.4 C158.5,797.3 157.6,797.0 156.6,796.9 C155.6,796.8 154.6,796.6 153.7,796.6 C152.8,796.6 151.9,796.8 151.1,796.7 C150.3,796.6 149.7,796.2 149.0,796.1 C148.2,796.0 147.4,796.5 146.6,796.3 C145.7,796.2 144.8,795.4 143.9,795.3 C143.0,795.2 141.9,795.8 141.0,795.7 C140.1,795.6 139.1,794.9 138.2,794.8 C137.4,794.7 136.8,795.0 135.9,795.1 C135.1,795.2 134.0,795.4 133.1,795.3 C132.1,795.2 131.0,794.7 130.2,794.5 C129.4,794.4 129.1,794.7 128.2,794.7 C127.3,794.6 125.8,794.7 124.8,794.5 C123.9,794.2 123.6,793.8 122.5,793.3 C121.5,792.7 119.5,791.7 118.7,791.0 C117.8,790.3 118.1,789.9 117.6,789.1 C117.0,788.3 116.1,787.0 115.6,786.2 C115.0,785.5 114.9,785.3 114.5,784.6 C114.1,783.9 113.6,782.6 113.2,781.8 C112.9,781.0 112.5,780.8 112.4,780.0 C112.2,779.1 112.1,777.8 112.2,776.6 C112.2,775.5 112.7,774.3 112.6,773.1 C112.5,772.0 111.8,770.8 111.7,769.8 C111.5,768.8 111.9,767.9 111.8,767.0 C111.8,766.1 111.3,765.4 111.3,764.4 C111.3,763.5 111.7,762.4 111.7,761.5 C111.7,760.6 111.7,760.0 111.5,759.2 C111.4,758.3 110.9,757.3 110.8,756.4 C110.6,755.5 110.8,754.7 110.8,753.8 C110.8,752.9 110.8,752.0 110.7,751.0 C110.7,750.0 110.4,748.7 110.5,747.6 C110.5,746.6 111.1,745.7 111.0,744.8 C111.0,743.9 110.3,743.2 110.2,742.3 C110.2,741.5 110.5,740.5 110.6,739.6 C110.7,738.7 110.7,737.8 110.8,737.0 C110.9,736.2 111.3,735.6 111.3,734.8 C111.4,734.0 111.0,733.0 110.8,732.1 C110.6,731.2 110.5,730.2 110.2,729.3 C110.0,728.3 109.6,727.4 109.4,726.4 C109.2,725.4 109.0,724.2 109.0,723.3 C108.9,722.3 109.1,721.5 109.0,720.5 C108.9,719.5 108.3,718.2 108.3,717.2 C108.3,716.1 108.8,715.5 109.0,714.4 C109.1,713.3 109.2,711.7 109.2,710.6 C109.1,709.5 108.8,708.2 108.8,707.7" fill="none" stroke="#111" stroke-width="0.5" stroke-linejoin="round"/>
<path d="M108.9,708.0 C109.6,707.6 111.9,705.9 113.0,705.2 C114.2,704.6 115.0,704.2 115.8,703.9 C116.6,703.6 117.1,703.7 118.0,703.4 C118.9,703.1 119.9,702.3 121.1,702.1 C122.2,701.8 123.8,702.2 124.9,702.0 C126.0,701.9 126.7,701.4 127.7,701.3 C128.7,701.1 129.9,701.3 131.0,701.1 C132.1,701.0 133.3,700.5 134.4,700.3 C135.6,700.0 136.8,699.6 137.8,699.5 C138.8,699.5 139.9,700.1 140.7,700.2 C141.6,700.2 142.2,699.8 142.9,699.7 C143.7,699.7 144.4,699.8 145.2,699.8 C146.0,699.9 146.8,700.1 147.7,700.1 C148.7,700.1 149.8,700.0 150.8,699.8 C151.8,699.6 152.9,699.2 153.9,699.1 C154.8,699.0 155.5,699.2 156.4,699.2 C157.4,699.2 158.5,699.1 159.6,699.1 C160.8,699.1 162.2,699.4 163.3,699.3 C164.4,699.2 165.3,698.7 166.1,698.5 C167.0,698.3 167.5,698.2 168.4,698.2 C169.3,698.1 170.5,698.3 171.6,698.5 C172.7,698.6 173.9,698.8 175.0,699.0 C176.1,699.2 177.3,699.5 178.3,699.5 C179.3,699.6 180.0,699.3 180.9,699.3 C181.8,699.3 182.8,699.7 183.8,699.7 C184.7,699.7 185.6,699.5 186.5,699.5 C187.3,699.5 188.2,699.5 189.0,699.6 C189.8,699.7 190.4,700.0 191.4,700.1 C192.3,700.1 193.6,700.0 194.6,700.1 C195.7,700.2 196.6,700.6 197.5,700.7 C198.4,700.8 199.3,700.8 200.1,700.7 C200.9,700.6 201.4,699.9 202.4,700.1 C203.5,700.3 205.7,701.4 206.4,702.0 C207.1,702.7 206.8,703.3 206.7,704.0 C206.5,704.8 205.6,705.9 205.5,706.8 C205.4,707.8 205.9,708.7 206.1,709.6 C206.2,710.6 206.0,711.5 206.1,712.4 C206.2,713.3 206.4,714.3 206.6,715.1 C206.7,715.8 206.8,716.2 206.8,717.1 C206.8,718.0 206.6,719.3 206.6,720.2 C206.6,721.1 206.9,721.8 206.9,722.6 C206.9,723.4 206.4,724.0 206.4,724.9 C206.3,725.8 206.8,727.1 206.9,727.8 C207.0,728.6 207.0,728.7 207.0,729.6 C206.9,730.4 206.6,731.9 206.6,732.9 C206.5,733.8 206.8,734.7 206.8,735.3 C206.8,736.0 206.5,736.3 206.6,737.0 C206.7,737.7 207.2,738.8 207.3,739.7 C207.4,740.6 207.1,741.4 207.1,742.3 C207.0,743.3 207.1,744.4 207.1,745.3 C207.2,746.2 207.6,746.9 207.6,747.8 C207.5,748.7 206.9,749.9 206.7,750.9 C206.5,751.8 206.3,752.7 206.3,753.6 C206.4,754.6 207.0,755.6 207.0,756.6 C207.0,757.6 206.4,758.5 206.2,759.5 C206.1,760.4 205.9,761.3 205.9,762.1 C205.9,762.9 206.0,763.3 206.0,764.1 C206.1,764.8 206.1,765.7 206.1,766.6 C206.0,767.5 205.8,768.6 205.6,769.4 C205.4,770.3 204.9,770.8 204.8,771.7 C204.8,772.7 205.4,774.0 205.3,774.9 C205.3,775.9 204.6,776.6 204.5,777.5 C204.4,778.4 204.8,779.4 204.7,780.2 C204.6,781.0 204.2,781.1 204.0,782.2 C203.8,783.2 203.6,785.2 203.4,786.4 C203.2,787.7 203.5,788.8 202.9,789.8 C202.4,790.8 201.1,791.7 200.1,792.4 C199.2,793.0 198.2,793.3 197.2,793.7 C196.2,794.1 195.2,794.5 194.2,794.7 C193.2,794.9 192.2,794.9 191.3,795.0 C190.4,795.1 189.8,795.0 189.0,795.2 C188.2,795.4 187.5,795.9 186.5,796.1 C185.6,796.2 184.1,796.2 183.1,796.2 C182.1,796.3 181.6,796.4 180.7,796.4 C179.7,796.4 178.3,796.3 177.4,796.3 C176.4,796.3 175.8,796.3 174.8,796.4 C173.8,796.5 172.2,796.9 171.2,797.1 C170.1,797.2 169.5,797.4 168.5,797.2 C167.6,797.1 166.2,796.4 165.3,796.3 C164.4,796.2 164.0,796.7 163.2,796.6 C162.3,796.6 161.2,796.0 160.2,795.9 C159.3,795.9 158.4,796.0 157.5,796.1 C156.6,796.2 155.8,796.7 154.8,796.7 C153.9,796.6 152.6,795.9 151.7,795.8 C150.8,795.6 150.3,795.7 149.4,795.8 C148.4,795.8 147.0,796.0 146.1,796.0 C145.3,796.0 145.0,795.8 144.0,795.8 C143.1,795.8 141.7,795.9 140.7,795.9 C139.6,795.9 138.6,795.8 137.7,795.7 C136.9,795.7 136.4,795.6 135.6,795.5 C134.8,795.4 134.0,795.3 133.0,795.3 C132.1,795.3 130.7,795.5 129.8,795.5 C128.9,795.6 128.4,795.7 127.5,795.6 C126.6,795.6 125.4,795.7 124.5,795.4 C123.7,795.0 123.3,794.0 122.5,793.4 C121.6,792.9 120.3,792.8 119.4,792.1 C118.6,791.4 118.4,790.2 117.6,789.3 C116.9,788.4 115.6,787.7 115.0,786.7 C114.3,785.8 114.2,784.4 113.7,783.3 C113.2,782.3 112.2,781.1 112.0,780.2 C111.7,779.3 112.1,778.8 112.2,778.0 C112.3,777.1 112.6,776.0 112.6,775.0 C112.5,774.1 112.0,773.0 111.9,772.1 C111.9,771.3 112.2,770.7 112.2,769.9 C112.1,769.1 111.6,768.3 111.5,767.4 C111.5,766.5 111.9,765.4 111.9,764.6 C111.9,763.7 111.7,762.8 111.5,762.1 C111.4,761.3 111.2,760.8 111.0,759.9 C110.8,759.1 110.3,758.0 110.3,756.9 C110.3,755.9 110.9,754.7 110.9,753.8 C110.9,752.8 110.3,752.1 110.3,751.2 C110.2,750.4 110.5,749.4 110.6,748.5 C110.7,747.6 110.9,746.8 110.7,745.9 C110.6,744.9 110.0,743.6 109.9,742.7 C109.7,741.7 109.9,741.1 109.9,740.3 C109.9,739.5 109.8,738.7 109.8,737.7 C109.9,736.8 110.3,735.8 110.4,734.8 C110.4,733.8 110.4,732.9 110.4,731.9 C110.4,731.0 110.4,729.8 110.3,728.9 C110.2,727.9 110.0,726.9 109.8,726.0 C109.7,725.1 109.5,724.4 109.3,723.5 C109.2,722.6 109.0,721.2 108.9,720.3 C108.9,719.5 109.0,719.1 109.0,718.2 C109.1,717.3 109.2,715.8 109.2,714.9 C109.2,714.1 108.9,713.8 109.0,713.0 C109.0,712.1 109.4,710.9 109.4,710.0 C109.4,709.2 109.2,708.2 109.1,707.9" fill="none" stroke="#111" stroke-width="0.5" stroke-linejoin="round"/>
<path d="M114.1,707.2 C114.7,707.3 116.4,707.7 117.5,707.9 C118.7,708.1 120.0,708.5 121.0,708.3 C122.0,708.2 122.5,707.2 123.3,706.7 C124.1,706.2 125.1,706.0 126.0,705.5 C126.8,705.1 127.7,704.4 128.6,703.8 C129.5,703.3 130.4,702.0 131.4,702.2 C132.4,702.3 134.1,704.4 134.6,704.8" fill="none" stroke="#222" stroke-width="0.5" stroke-linejoin="round" stroke-linecap="round"/>
<path d="M178.9,700.4 C179.5,700.5 181.3,700.7 182.3,700.9 C183.3,701.1 184.0,701.4 185.1,701.6 C186.1,701.8 187.6,701.8 188.5,702.0 C189.5,702.2 190.1,702.5 191.0,702.6 C191.9,702.8 192.8,702.7 193.8,702.8 C194.8,702.9 195.9,703.1 197.0,703.2 C198.1,703.3 199.3,703.2 200.4,703.3 C201.6,703.4 202.9,703.3 203.9,703.8 C204.9,704.4 205.8,706.1 206.2,706.5" fill="none" stroke="#222" stroke-width="0.5" stroke-linejoin="round" stroke-linecap="round"/>
<path d="M110.9,717.7 C111.0,718.1 111.5,719.4 111.6,720.4 C111.7,721.3 111.6,722.4 111.7,723.4 C111.8,724.3 112.0,725.1 112.3,725.9 C112.6,726.7 113.1,727.5 113.5,728.3 C113.9,729.0 114.5,729.6 114.8,730.5 C115.2,731.3 115.4,732.3 115.8,733.3 C116.1,734.3 116.5,735.4 116.9,736.4 C117.2,737.5 117.3,738.5 117.6,739.5 C118.0,740.5 118.5,741.7 118.9,742.5 C119.3,743.3 119.7,743.7 119.9,744.5 C120.2,745.2 120.4,746.2 120.6,747.0 C120.9,747.9 121.2,748.8 121.6,749.6 C122.0,750.3 122.5,750.8 122.9,751.6 C123.3,752.5 123.4,753.6 123.7,754.4 C124.0,755.3 124.6,755.9 124.9,756.6 C125.2,757.4 125.2,758.2 125.5,759.1 C125.7,759.9 126.3,760.9 126.6,761.7 C127.0,762.5 127.2,763.0 127.4,763.9 C127.7,764.7 128.1,765.7 128.3,766.8 C128.5,767.8 128.6,769.5 128.6,770.0" fill="none" stroke="#222" stroke-width="0.5" stroke-linejoin="round" stroke-linecap="round"/>
<path d="M111.9,780.1 C112.1,780.3 112.6,781.0 113.2,781.6 C113.8,782.2 114.7,783.0 115.3,783.7 C115.9,784.4 115.9,785.3 116.6,786.0 C117.2,786.7 118.2,787.3 119.1,787.9 C120.1,788.5 121.2,789.2 122.2,789.8 C123.1,790.4 123.8,791.0 124.7,791.5 C125.5,791.9 126.3,792.0 127.1,792.3 C128.0,792.5 128.9,792.6 129.7,792.7 C130.5,792.8 131.0,792.9 131.8,793.1 C132.6,793.2 134.1,793.6 134.5,793.7" fill="none" stroke="#222" stroke-width="0.5" stroke-linejoin="round" stroke-linecap="round"/>
<path d="M113.2,726.0 C113.8,726.3 115.7,727.2 116.7,727.7 C117.8,728.3 118.9,728.7 119.5,729.4 C120.0,730.1 119.7,731.0 119.8,731.9 C119.9,732.8 119.9,733.6 120.1,734.6 C120.3,735.6 120.7,736.7 121.1,737.9 C121.4,739.0 121.8,740.3 122.0,741.4 C122.3,742.5 122.4,743.5 122.7,744.6 C122.9,745.7 123.4,747.4 123.6,748.0" fill="none" stroke="#222" stroke-width="0.5" stroke-linejoin="round" stroke-linecap="round"/>
<path d="M117.5,725.1 C118.0,724.8 119.6,723.9 120.8,723.2 C121.9,722.5 123.8,721.3 124.4,720.9" fill="none" stroke="#222" stroke-width="0.5" stroke-linejoin="round" stroke-linecap="round"/>
<path d="M119.2,727.7 C119.7,727.5 121.5,726.9 122.5,726.4 C123.5,726.0 124.1,725.3 125.1,725.1 C126.0,725.0 127.1,725.4 128.1,725.5 C129.1,725.5 131.0,725.2 131.2,725.6 C131.4,726.0 129.8,727.3 129.5,727.7" fill="none" stroke="#222" stroke-width="0.5" stroke-linejoin="round" stroke-linecap="round"/>
<path d="M114.0,747.1 C114.5,746.6 116.1,744.6 117.0,743.9 C117.9,743.3 118.9,743.2 119.3,743.1" fill="none" stroke="#222" stroke-width="0.5" stroke-linejoin="round" stroke-linecap="round"/>
<path d="M117.4,744.0 C117.2,744.4 116.6,745.6 116.1,746.5 C115.5,747.4 114.4,748.5 114.0,749.3 C113.6,750.1 113.9,750.6 113.7,751.4 C113.5,752.3 113.1,753.4 112.8,754.3 C112.6,755.2 112.6,756.4 112.5,756.8" fill="none" stroke="#222" stroke-width="0.5" stroke-linejoin="round" stroke-linecap="round"/>
<path d="M113.1,744.1 C113.0,744.6 112.8,745.9 112.8,746.7 C112.8,747.6 113.1,748.6 113.1,749.3 C113.2,750.1 113.1,750.7 113.2,751.5 C113.2,752.3 113.3,753.2 113.4,754.1 C113.5,755.0 113.6,755.9 113.6,756.8 C113.7,757.7 113.6,758.5 113.5,759.3 C113.4,760.2 113.2,761.1 113.1,762.0 C113.1,762.8 113.2,763.6 113.2,764.4 C113.2,765.2 112.9,766.1 112.9,766.9 C112.9,767.7 113.0,768.5 113.0,769.4 C113.0,770.2 112.8,771.2 112.9,772.0 C112.9,772.9 113.2,773.5 113.2,774.4 C113.3,775.3 113.1,776.5 113.2,777.4 C113.2,778.3 113.4,779.3 113.4,779.7" fill="none" stroke="#222" stroke-width="0.5" stroke-linejoin="round" stroke-linecap="round"/>
<path d="M112.3,782.5 C112.7,782.8 113.8,783.9 114.5,784.6 C115.3,785.3 116.1,786.0 116.9,786.7 C117.7,787.3 118.6,787.9 119.5,788.6 C120.3,789.3 121.3,790.1 122.1,790.8 C122.8,791.5 123.5,792.1 124.1,792.7 C124.8,793.2 125.8,793.9 126.1,794.2" fill="none" stroke="#222" stroke-width="0.5" stroke-linejoin="round" stroke-linecap="round"/>
<path d="M109.9,795.0 C110.3,794.5 111.7,793.5 112.6,792.4 C113.5,791.3 114.7,789.0 115.1,788.3" fill="none" stroke="#222" stroke-width="0.5" stroke-linejoin="round" stroke-linecap="round"/>
<path d="M112.4,796.6 C113.0,796.2 114.8,794.8 115.9,794.4 C117.0,794.0 118.7,794.2 119.3,794.2" fill="none" stroke="#222" stroke-width="0.5" stroke-linejoin="round" stroke-linecap="round"/>
<path d="M121.2,792.3 C121.6,792.2 123.0,791.8 123.8,791.5 C124.6,791.2 125.2,790.5 126.0,790.4 C126.9,790.2 127.8,790.4 128.7,790.4 C129.6,790.5 130.6,790.4 131.4,790.6 C132.2,790.8 132.8,791.2 133.7,791.7 C134.5,792.1 135.7,792.9 136.4,793.5 C137.2,794.0 137.7,794.8 138.0,795.1" fill="none" stroke="#222" stroke-width="0.5" stroke-linejoin="round" stroke-linecap="round"/>
<path d="M205.5,713.5 C205.0,713.6 203.2,713.8 202.1,714.0 C201.0,714.2 199.9,714.4 198.8,714.8 C197.6,715.1 196.4,715.6 195.2,715.9 C194.0,716.3 192.5,716.5 191.5,717.0 C190.6,717.5 190.1,718.3 189.3,718.8 C188.6,719.4 188.0,719.7 187.3,720.1 C186.6,720.6 185.9,720.8 185.1,721.6 C184.4,722.3 183.4,723.6 182.6,724.7 C181.8,725.7 180.9,727.0 180.5,727.9 C180.1,728.9 180.3,729.6 180.2,730.5 C180.1,731.4 180.1,732.5 180.0,733.4 C179.9,734.4 179.5,735.2 179.5,736.3 C179.4,737.3 179.7,738.8 179.8,739.9 C180.0,741.1 180.0,742.2 180.2,743.1 C180.4,744.0 180.7,744.6 180.9,745.4 C181.1,746.2 181.0,746.8 181.3,748.0 C181.6,749.2 182.3,751.1 182.5,752.5 C182.8,753.8 182.8,754.9 183.0,756.1 C183.3,757.3 183.5,758.6 183.9,759.5 C184.4,760.4 185.2,760.9 185.8,761.6 C186.5,762.3 187.2,762.9 187.9,763.7 C188.5,764.5 189.3,765.4 190.0,766.2 C190.6,767.0 191.1,767.8 191.7,768.6 C192.2,769.5 192.8,770.3 193.4,771.2 C193.9,772.1 194.4,773.3 195.0,774.0 C195.5,774.7 196.1,775.0 196.7,775.6 C197.3,776.2 198.0,777.0 198.6,777.7 C199.2,778.3 199.9,778.6 200.4,779.5 C200.9,780.3 201.2,781.6 201.6,782.6 C202.0,783.7 202.6,785.2 202.8,785.7" fill="none" stroke="#222" stroke-width="0.5" stroke-linejoin="round" stroke-linecap="round"/>
<path d="M195.2,755.1 C195.6,755.2 196.8,755.6 197.7,756.0 C198.5,756.3 199.4,756.2 200.3,757.1 C201.2,758.0 202.6,759.9 203.0,761.2 C203.5,762.4 203.1,763.5 203.0,764.6 C203.0,765.7 202.9,766.8 202.7,767.8 C202.5,768.8 202.1,769.7 201.9,770.5 C201.6,771.4 201.2,772.2 201.0,773.0 C200.7,773.8 200.6,774.3 200.3,775.4 C200.0,776.5 199.1,778.4 199.2,779.7 C199.3,781.0 200.2,782.2 200.7,783.3 C201.2,784.5 201.8,786.1 202.0,786.6" fill="none" stroke="#222" stroke-width="0.5" stroke-linejoin="round" stroke-linecap="round"/>
<path d="M107.6,703.0 C108.0,703.4 109.3,705.0 110.1,705.0 C110.8,705.1 112.2,703.0 112.4,703.3 C112.5,703.5 111.8,705.7 111.1,706.3 C110.5,707.0 108.5,706.9 108.5,707.3 C108.6,707.6 110.4,708.6 111.3,708.3 C112.1,708.0 113.1,706.0 113.5,705.5" fill="none" stroke="#222" stroke-width="0.5" stroke-linejoin="round" stroke-linecap="round"/>
<path d="M197.8,794.0 C198.2,794.2 199.2,794.7 200.2,795.2 C201.1,795.7 203.1,796.5 203.7,796.8" fill="none" stroke="#222" stroke-width="0.5" stroke-linejoin="round" stroke-linecap="round"/>
<path d="M202.1,702.4 C202.5,702.0 204.0,699.9 204.7,700.0 C205.4,700.1 205.7,703.0 206.1,703.0 C206.6,703.1 207.3,700.9 207.5,700.5" fill="none" stroke="#222" stroke-width="0.5" stroke-linejoin="round" stroke-linecap="round"/>
<path d="M408.9,704.6 C409.4,704.4 410.8,703.7 411.8,703.3 C412.9,703.0 414.0,702.7 415.1,702.3 C416.2,702.0 417.4,701.5 418.4,701.2 C419.4,700.9 420.0,700.7 421.0,700.5 C421.9,700.2 423.0,700.0 424.1,699.8 C425.1,699.5 426.2,699.2 427.1,698.9 C428.0,698.6 428.8,698.2 429.7,698.0 C430.6,697.9 431.6,698.0 432.5,697.8 C433.3,697.7 434.0,697.5 434.8,697.3 C435.7,697.2 436.5,697.1 437.4,697.0 C438.3,697.0 439.2,697.0 440.1,697.0 C441.0,697.0 441.9,697.1 442.8,697.1 C443.8,697.1 444.8,697.1 445.7,697.1 C446.6,697.2 447.5,697.4 448.4,697.4 C449.3,697.4 450.2,697.1 451.1,697.1 C452.1,697.1 453.0,697.3 453.9,697.4 C454.9,697.6 455.8,697.9 456.8,698.2 C457.8,698.4 459.0,698.7 460.2,698.9 C461.4,699.1 462.8,699.1 463.9,699.2 C465.1,699.3 466.2,699.4 467.3,699.6 C468.4,699.7 469.4,699.7 470.3,699.9 C471.3,700.0 472.1,700.3 473.1,700.5 C474.1,700.7 475.3,701.0 476.3,701.2 C477.4,701.5 478.2,702.0 479.2,702.2 C480.2,702.5 481.2,702.6 482.2,702.8 C483.3,702.9 484.2,702.9 485.2,702.9 C486.3,703.0 487.5,703.0 488.5,703.0 C489.6,703.0 490.3,703.3 491.6,703.2 C492.8,703.1 495.3,702.4 496.0,702.3" fill="none" stroke="#1a1a1a" stroke-width="0.5" stroke-linejoin="round" stroke-linecap="round"/>
<path d="M408.3,701.7 C408.4,702.2 408.8,703.5 408.8,704.4 C408.8,705.2 408.5,706.2 408.4,707.1 C408.3,708.0 408.3,708.8 408.3,709.7 C408.3,710.5 408.3,711.5 408.3,712.3 C408.3,713.2 408.3,714.2 408.3,715.0 C408.3,715.8 408.4,716.3 408.4,717.1 C408.4,718.0 408.4,719.2 408.3,720.1 C408.3,721.0 408.2,721.7 408.1,722.5 C408.0,723.4 407.9,724.2 407.8,725.1 C407.8,725.9 407.8,726.7 407.8,727.6 C407.8,728.5 407.9,729.4 407.9,730.3 C407.9,731.2 407.9,732.2 407.9,733.0 C407.9,733.9 407.9,734.5 407.9,735.4 C407.8,736.3 407.8,737.5 407.8,738.5 C407.8,739.5 407.6,740.3 407.6,741.2 C407.6,742.2 407.6,743.2 407.6,744.2 C407.5,745.2 407.6,746.2 407.5,747.2 C407.4,748.1 407.1,749.0 407.1,749.9 C407.2,750.8 407.6,751.7 407.7,752.7 C407.9,753.6 407.9,754.8 408.0,755.8 C408.1,756.8 408.2,757.7 408.3,758.6 C408.4,759.5 408.3,760.5 408.4,761.4 C408.4,762.3 408.6,763.0 408.7,763.9 C408.7,764.8 408.7,765.8 408.7,766.7 C408.8,767.7 408.9,768.6 409.0,769.5 C409.0,770.4 408.8,771.2 409.0,772.2 C409.1,773.1 409.5,774.0 409.6,775.0 C409.8,775.9 409.9,777.0 410.0,777.9 C410.1,778.9 410.0,779.6 410.0,780.6 C410.1,781.5 410.0,782.5 410.3,783.5 C410.5,784.5 411.0,785.6 411.3,786.8 C411.5,787.9 411.6,789.5 411.9,790.6 C412.2,791.7 412.6,792.3 412.9,793.2 C413.2,794.1 413.4,795.3 413.9,796.1 C414.4,796.9 415.0,797.4 415.7,798.0 C416.5,798.6 417.5,799.2 418.4,799.6 C419.3,800.0 420.3,800.2 421.3,800.3 C422.3,800.5 423.4,800.3 424.5,800.4 C425.5,800.5 426.5,800.8 427.5,801.0 C428.4,801.1 429.3,801.2 430.2,801.3 C431.1,801.4 431.8,801.4 432.8,801.5 C433.7,801.5 434.7,801.6 435.7,801.6 C436.6,801.6 437.6,801.5 438.5,801.5 C439.4,801.5 440.3,801.6 441.1,801.6 C442.0,801.6 442.8,801.4 443.7,801.3 C444.6,801.2 445.5,801.0 446.4,801.0 C447.3,801.0 448.1,801.1 449.0,801.1 C450.0,801.1 451.1,800.9 452.0,800.9 C453.0,800.8 453.8,800.6 454.7,800.6 C455.5,800.5 456.4,800.5 457.3,800.5 C458.2,800.4 459.6,800.2 460.0,800.2" fill="none" stroke="#1a1a1a" stroke-width="0.5" stroke-linejoin="round" stroke-linecap="round"/>
<path d="M426.5,698.9 C426.1,699.2 424.8,700.0 424.0,700.4 C423.2,700.9 422.5,700.8 421.7,701.7 C420.9,702.6 419.8,704.3 419.4,705.6 C419.0,707.0 419.5,708.6 419.3,709.9 C419.0,711.2 418.4,712.4 417.9,713.4 C417.4,714.5 416.8,715.1 416.5,716.3 C416.1,717.5 416.3,719.4 415.7,720.8 C415.0,722.2 413.4,723.5 412.6,724.8 C411.8,726.1 411.2,727.5 410.8,728.5 C410.4,729.5 410.4,729.9 410.1,730.8 C409.8,731.7 409.1,733.1 408.9,733.9 C408.7,734.7 408.7,735.3 408.7,735.6" fill="none" stroke="#1a1a1a" stroke-width="0.5" stroke-linejoin="round" stroke-linecap="round"/>
<path d="M411.4,721.4 C411.6,722.0 412.4,723.6 412.3,724.6 C412.3,725.5 410.9,726.9 411.0,727.1 C411.1,727.3 412.7,726.2 413.0,726.0" fill="none" stroke="#1a1a1a" stroke-width="0.5" stroke-linejoin="round" stroke-linecap="round"/>
<path d="M413.7,725.0 C414.5,724.9 417.3,724.6 418.4,724.3 C419.6,724.1 420.0,723.7 420.9,723.4 C421.8,723.1 423.0,722.2 423.9,722.2 C424.9,722.3 425.6,723.2 426.5,723.5 C427.4,723.9 428.2,724.0 429.1,724.4 C430.1,724.8 431.2,725.2 432.1,725.7 C432.9,726.2 433.5,726.9 434.4,727.6 C435.3,728.2 436.4,728.8 437.3,729.6 C438.3,730.3 439.1,731.3 440.1,732.0 C441.0,732.7 442.1,733.4 443.0,734.0 C444.0,734.5 444.7,735.1 445.7,735.4 C446.7,735.8 448.1,736.2 449.1,736.3 C450.1,736.3 450.9,735.9 451.8,735.7 C452.7,735.5 453.6,735.3 454.5,735.1 C455.5,734.9 456.4,734.8 457.4,734.5 C458.4,734.3 459.5,734.1 460.5,733.7 C461.4,733.3 462.4,732.6 463.3,732.2 C464.2,731.7 464.8,731.4 465.7,730.9 C466.6,730.4 468.0,729.9 468.8,729.4 C469.7,728.9 470.1,728.2 470.9,727.7 C471.6,727.2 472.5,726.7 473.3,726.3 C474.2,725.8 475.0,725.6 475.8,725.2 C476.5,724.7 477.1,724.1 477.8,723.5 C478.5,722.9 479.1,722.2 479.8,721.5 C480.6,720.8 481.6,720.0 482.3,719.3 C483.0,718.5 483.5,717.8 484.2,717.1 C485.0,716.4 485.9,715.9 486.7,715.2 C487.5,714.5 488.3,713.7 488.9,712.9 C489.4,712.1 489.5,711.2 489.9,710.4 C490.4,709.6 491.2,708.6 491.5,708.2" fill="none" stroke="#1a1a1a" stroke-width="0.5" stroke-linejoin="round" stroke-linecap="round"/>
<path d="M445.4,697.7 C445.5,698.2 446.0,699.9 446.2,700.8 C446.3,701.8 446.1,702.7 446.4,703.5 C446.8,704.4 447.9,705.2 448.5,706.0 C449.2,706.8 449.6,707.4 450.2,708.1 C450.7,708.9 451.2,709.7 451.8,710.5 C452.4,711.3 453.2,712.1 453.8,713.0 C454.3,713.9 454.8,715.1 455.2,716.1 C455.7,717.2 456.3,718.4 456.5,719.3 C456.8,720.3 456.7,721.1 456.9,721.9 C457.1,722.7 457.5,723.4 457.7,724.1 C457.9,724.9 457.9,725.4 458.1,726.3 C458.4,727.2 458.9,728.4 459.3,729.3 C459.6,730.2 459.9,731.0 460.1,731.8 C460.3,732.5 460.3,733.0 460.5,733.9 C460.7,734.9 461.2,736.4 461.5,737.6 C461.7,738.8 462.0,740.1 462.1,741.1 C462.1,742.2 461.8,743.1 461.8,744.1 C461.7,745.0 461.8,745.8 461.7,746.8 C461.7,747.8 461.1,748.9 461.4,750.1 C461.6,751.3 463.2,752.8 463.4,753.9 C463.6,755.0 462.9,755.8 462.6,756.7 C462.3,757.6 462.0,758.4 461.8,759.2 C461.6,759.9 461.9,760.2 461.6,761.3 C461.4,762.4 460.0,764.7 460.4,765.8 C460.7,766.9 463.0,766.6 464.0,767.8 C464.9,768.9 465.4,771.2 466.0,772.5 C466.6,773.8 466.9,774.7 467.3,775.7 C467.8,776.8 468.2,777.9 468.7,778.8 C469.1,779.6 469.5,780.1 470.0,780.8 C470.4,781.5 470.9,782.1 471.5,782.8 C472.0,783.5 472.3,784.4 473.4,784.9 C474.4,785.4 476.4,785.8 477.7,786.0 C479.0,786.2 480.8,786.0 481.4,786.0" fill="none" stroke="#1a1a1a" stroke-width="0.5" stroke-linejoin="round" stroke-linecap="round"/>
<path d="M416.5,791.5 C416.8,791.1 417.8,789.9 418.5,789.1 C419.2,788.2 419.8,787.3 420.5,786.4 C421.2,785.6 421.9,784.6 422.7,784.0 C423.5,783.5 424.6,783.5 425.4,783.2 C426.3,783.0 427.0,782.7 427.9,782.4 C428.7,782.2 429.5,782.1 430.3,781.7 C431.1,781.3 432.1,780.5 432.9,779.9 C433.8,779.4 434.6,778.9 435.4,778.5 C436.3,778.0 437.4,777.6 438.2,777.1 C439.1,776.6 439.7,776.0 440.5,775.4 C441.3,774.9 442.2,774.3 443.1,773.8 C443.9,773.3 444.9,773.1 445.6,772.5 C446.4,772.0 447.0,771.0 447.7,770.4 C448.3,769.8 448.9,769.5 449.5,768.9 C450.0,768.3 450.5,767.5 451.1,766.9 C451.6,766.3 452.2,765.9 452.7,765.2 C453.3,764.6 454.0,763.9 454.7,763.2 C455.3,762.5 456.1,761.8 456.7,761.1 C457.3,760.4 457.8,759.7 458.3,759.0 C458.8,758.3 459.0,757.7 459.8,756.9 C460.6,756.0 462.0,754.8 463.0,753.9 C464.0,753.1 465.0,752.7 465.7,752.0 C466.5,751.3 466.9,750.6 467.6,750.0 C468.3,749.3 469.2,748.7 470.0,748.0 C470.8,747.3 471.7,746.4 472.5,745.7 C473.4,745.1 474.5,744.6 475.2,744.0 C475.9,743.4 476.1,742.7 476.7,742.1 C477.3,741.4 478.1,740.8 478.7,740.1 C479.4,739.5 479.9,738.7 480.5,738.1 C481.0,737.5 481.6,737.1 482.2,736.5 C482.9,735.9 483.6,735.3 484.4,734.6 C485.1,733.9 485.7,733.1 486.5,732.4 C487.2,731.7 488.1,730.9 488.9,730.2 C489.6,729.6 490.1,728.9 490.8,728.3 C491.5,727.6 492.4,726.9 493.1,726.2 C493.8,725.6 494.3,725.0 495.0,724.4 C495.6,723.7 496.3,722.9 496.9,722.1 C497.6,721.4 498.4,720.8 499.0,719.9 C499.6,719.1 500.2,718.2 500.6,717.3 C500.9,716.4 501.0,715.6 501.3,714.7 C501.6,713.8 502.1,712.6 502.4,711.7 C502.7,710.7 503.2,709.5 503.3,709.1" fill="none" stroke="#1a1a1a" stroke-width="0.5" stroke-linejoin="round" stroke-linecap="round"/>
<path d="M418.1,789.8 C418.6,789.5 420.0,788.6 421.1,788.2 C422.1,787.8 423.3,787.7 424.4,787.4 C425.4,787.0 426.2,786.6 427.2,786.2 C428.2,785.9 429.4,785.3 430.5,785.0 C431.5,784.7 432.6,784.6 433.6,784.4 C434.5,784.1 435.4,783.9 436.3,783.5 C437.2,783.1 438.1,782.4 438.9,782.0 C439.7,781.5 440.5,781.3 441.3,780.8 C442.1,780.4 443.3,780.1 443.8,779.5 C444.4,778.9 444.3,777.9 444.7,777.1 C445.0,776.3 445.7,775.4 446.1,774.6 C446.5,773.8 446.7,773.1 447.0,772.2 C447.3,771.3 447.6,770.1 447.9,769.3 C448.2,768.4 448.4,767.7 449.0,766.9 C449.5,766.2 450.4,765.4 451.0,764.6 C451.7,763.9 452.3,763.0 452.9,762.4 C453.4,761.7 453.9,761.5 454.5,760.7 C455.0,760.0 455.7,758.7 456.2,757.8 C456.7,756.9 457.0,756.3 457.4,755.5 C457.8,754.7 458.3,754.0 458.7,753.2 C459.1,752.4 459.7,751.6 460.1,750.7 C460.4,749.9 460.5,749.0 460.7,748.1 C460.8,747.2 460.8,746.3 461.0,745.5 C461.1,744.6 461.4,743.8 461.6,742.9 C461.9,742.1 462.1,741.3 462.4,740.3 C462.8,739.4 463.3,738.3 463.8,737.3 C464.2,736.4 464.5,735.7 465.0,734.8 C465.5,733.9 466.0,732.9 466.6,732.0 C467.2,731.0 468.0,730.2 468.7,729.3 C469.4,728.4 470.1,727.4 470.9,726.5 C471.6,725.6 472.6,724.4 473.3,723.6 C474.1,722.9 474.7,722.5 475.4,721.8 C476.1,721.1 476.7,720.2 477.4,719.4 C478.1,718.7 478.9,718.2 479.6,717.5 C480.3,716.7 480.9,715.8 481.6,715.1 C482.3,714.4 483.1,713.8 483.8,713.2 C484.5,712.5 485.1,711.8 485.8,711.2 C486.6,710.6 487.6,710.2 488.4,709.6 C489.3,709.0 490.0,708.2 490.8,707.7 C491.6,707.2 492.9,706.6 493.3,706.4" fill="none" stroke="#1a1a1a" stroke-width="0.5" stroke-linejoin="round" stroke-linecap="round"/>
<path d="M443.9,779.5 C444.2,779.3 445.2,778.9 446.0,778.4 C446.7,778.0 448.5,777.6 448.5,776.8 C448.6,776.0 447.3,774.5 446.4,773.5 C445.4,772.6 443.8,772.1 442.8,771.4 C441.7,770.7 440.4,769.3 440.0,769.3 C439.6,769.3 440.5,771.1 440.6,771.4" fill="none" stroke="#1a1a1a" stroke-width="0.5" stroke-linejoin="round" stroke-linecap="round"/>
<path d="M411.7,786.0 C411.8,785.5 412.3,783.7 412.7,782.7 C413.1,781.7 413.6,780.8 413.9,779.8 C414.3,778.8 414.4,777.5 414.8,776.7 C415.3,775.8 416.0,775.4 416.7,774.6 C417.4,773.9 418.2,773.0 419.0,772.1 C419.7,771.3 420.3,770.1 421.0,769.4 C421.7,768.7 422.6,768.6 423.3,768.1 C424.0,767.5 424.5,766.9 425.2,766.3 C425.9,765.7 426.7,765.2 427.5,764.6 C428.2,764.0 428.7,763.5 429.4,762.9 C430.1,762.4 431.0,761.9 431.7,761.4 C432.4,760.9 432.9,760.2 433.6,759.7 C434.3,759.2 435.3,758.9 436.1,758.5 C436.9,758.1 437.6,757.7 438.5,757.3 C439.4,756.9 440.3,756.6 441.2,756.0 C442.2,755.5 443.1,754.8 444.1,754.2 C445.2,753.7 446.1,753.1 447.4,752.8 C448.6,752.4 450.5,752.4 451.8,752.3 C453.0,752.3 453.9,752.3 454.9,752.4 C455.8,752.5 456.6,752.8 457.5,752.9 C458.4,753.1 459.3,753.1 460.2,753.3 C461.2,753.5 462.4,754.0 463.3,754.2 C464.3,754.5 465.0,754.5 465.9,754.8 C466.8,755.2 467.9,755.8 468.8,756.2 C469.8,756.5 470.6,756.5 471.5,756.8 C472.4,757.0 473.3,757.5 474.1,757.8 C475.0,758.1 475.9,758.4 476.8,758.7 C477.7,759.0 478.7,759.4 479.6,759.8 C480.5,760.3 481.2,760.9 482.1,761.3 C482.9,761.8 483.8,762.0 484.7,762.4 C485.5,762.9 486.3,763.4 487.0,764.0 C487.8,764.7 488.4,765.6 489.1,766.3 C489.8,767.0 490.6,767.6 491.3,768.3 C492.0,769.0 492.7,769.6 493.4,770.4 C494.1,771.3 494.9,772.3 495.7,773.2 C496.4,774.2 497.2,775.4 497.9,776.2 C498.5,777.1 498.9,777.6 499.5,778.5 C500.2,779.4 501.1,780.6 501.7,781.5 C502.3,782.4 502.5,783.2 502.9,783.9 C503.3,784.7 504.0,785.7 504.2,786.0" fill="none" stroke="#1a1a1a" stroke-width="0.5" stroke-linejoin="round" stroke-linecap="round"/>
<path d="M455.7,716.6 C455.8,717.0 456.4,718.1 456.6,719.0 C456.8,719.8 456.9,720.7 457.1,721.6 C457.2,722.6 457.2,723.5 457.5,724.5 C457.8,725.6 458.5,726.8 458.8,727.9 C459.2,728.9 459.4,729.8 459.7,730.8 C460.0,731.8 460.4,733.3 460.5,733.8" fill="none" stroke="#1a1a1a" stroke-width="0.5" stroke-linejoin="round" stroke-linecap="round"/>
<path d="M495.9,708.3 C496.0,708.8 496.0,710.2 496.1,711.2 C496.2,712.2 496.3,713.3 496.5,714.3 C496.6,715.3 496.9,716.1 497.0,717.1 C497.2,718.1 497.1,719.1 497.2,720.2 C497.3,721.3 497.5,722.5 497.6,723.5 C497.7,724.5 497.5,725.4 497.7,726.4 C497.8,727.4 498.1,728.5 498.4,729.6 C498.7,730.7 499.4,731.8 499.4,733.0 C499.4,734.1 498.9,735.2 498.6,736.4 C498.4,737.6 497.9,738.7 497.8,740.0 C497.7,741.2 498.0,742.5 498.1,743.6 C498.2,744.7 498.2,745.6 498.3,746.6 C498.4,747.7 498.1,748.9 498.6,750.2 C499.2,751.4 500.9,753.0 501.4,754.1 C501.9,755.2 501.4,756.0 501.5,756.9 C501.5,757.9 501.8,758.8 501.9,759.7 C502.0,760.6 502.1,761.6 502.2,762.4 C502.2,763.3 502.1,764.1 502.1,764.9 C502.2,765.8 502.4,766.6 502.4,767.6 C502.5,768.5 502.6,769.7 502.6,770.7 C502.6,771.6 502.5,772.3 502.4,773.2 C502.3,774.1 502.2,775.2 502.2,776.0 C502.2,776.9 502.5,777.6 502.5,778.6 C502.5,779.5 501.9,780.4 502.2,781.6 C502.5,782.8 503.9,785.3 504.2,786.0" fill="none" stroke="#1a1a1a" stroke-width="0.5" stroke-linejoin="round" stroke-linecap="round"/>
<path d="M504.0,707.4 C504.1,707.8 504.4,709.0 504.6,709.8 C504.7,710.6 504.8,711.3 504.8,712.1 C504.9,713.0 504.9,714.1 505.0,715.0 C505.1,715.9 505.2,716.6 505.3,717.5 C505.4,718.4 505.4,719.4 505.5,720.4 C505.7,721.4 506.1,722.4 506.2,723.4 C506.3,724.4 506.3,725.3 506.4,726.3 C506.4,727.3 506.4,728.3 506.5,729.4 C506.6,730.4 507.0,731.4 507.0,732.5 C507.1,733.6 506.9,734.8 506.9,735.8 C506.9,736.8 507.2,737.5 507.2,738.4 C507.2,739.4 507.0,740.3 507.0,741.3 C507.0,742.3 507.1,743.5 507.1,744.5 C507.2,745.5 507.3,746.5 507.3,747.4 C507.3,748.2 507.2,748.9 507.3,749.8 C507.3,750.6 507.6,751.5 507.6,752.4 C507.6,753.4 507.6,754.4 507.5,755.3 C507.5,756.3 507.3,757.2 507.3,758.1 C507.3,759.0 507.3,759.9 507.4,760.8 C507.4,761.7 507.4,762.6 507.4,763.4 C507.5,764.3 507.6,765.0 507.5,765.9 C507.5,766.8 507.4,767.9 507.3,768.8 C507.3,769.7 507.3,770.3 507.2,771.2 C507.2,772.1 507.2,773.4 507.2,774.3 C507.1,775.2 507.0,775.8 506.8,776.7 C506.7,777.6 506.6,778.7 506.5,779.7 C506.3,780.6 506.2,781.6 506.1,782.5 C506.1,783.4 506.0,784.7 506.0,785.1" fill="none" stroke="#1a1a1a" stroke-width="0.5" stroke-linejoin="round" stroke-linecap="round"/>
<path d="M479.4,785.2 C480.3,784.9 482.9,783.4 484.3,783.1 C485.7,782.9 486.8,783.6 488.1,783.7 C489.3,783.9 490.5,783.8 491.6,783.9 C492.7,784.1 493.7,784.5 494.8,784.8 C495.9,785.2 496.9,785.9 498.0,786.2 C499.0,786.5 500.1,786.4 501.1,786.7 C502.1,787.0 503.7,787.6 504.2,787.8" fill="none" stroke="#1a1a1a" stroke-width="0.5" stroke-linejoin="round" stroke-linecap="round"/>
<path d="M504.2,790.1 C503.7,790.1 501.9,790.3 500.8,790.5 C499.8,790.7 499.0,790.9 498.0,791.1 C496.9,791.2 495.6,791.3 494.5,791.4 C493.5,791.5 492.7,791.7 491.7,791.8 C490.7,791.8 489.5,791.9 488.4,791.8 C487.4,791.8 486.4,791.4 485.3,791.4 C484.3,791.4 483.1,791.8 482.1,791.7 C481.1,791.5 480.2,790.9 479.2,790.5 C478.3,790.1 477.3,789.7 476.2,789.5 C475.2,789.2 474.0,789.0 473.0,789.0 C472.0,788.9 471.3,789.1 470.3,789.2 C469.3,789.4 468.1,789.6 467.0,789.8 C466.0,790.0 465.0,790.3 464.0,790.6 C463.0,790.9 462.2,791.2 461.2,791.5 C460.2,791.8 459.2,792.4 458.2,792.6 C457.2,792.9 456.0,792.8 455.0,793.1 C454.1,793.3 453.2,793.8 452.3,794.2 C451.4,794.5 450.7,794.9 449.8,795.1 C449.0,795.3 448.0,795.3 447.3,795.5 C446.5,795.7 446.1,796.2 445.2,796.5 C444.4,796.7 443.4,797.0 442.4,797.1 C441.5,797.3 440.5,797.4 439.6,797.6 C438.7,797.8 437.9,798.2 437.1,798.4 C436.3,798.6 435.6,798.8 434.7,799.0 C433.9,799.2 432.8,799.4 431.8,799.5 C430.9,799.6 430.2,799.4 429.2,799.5 C428.2,799.5 426.9,799.8 425.9,799.8 C424.9,799.8 424.2,799.6 423.2,799.6 C422.3,799.7 421.0,800.1 420.1,800.0 C419.2,799.9 418.5,799.5 417.7,799.2 C416.9,798.8 415.9,798.4 415.1,798.0 C414.4,797.7 413.4,797.2 413.0,797.0" fill="none" stroke="#1a1a1a" stroke-width="0.5" stroke-linejoin="round" stroke-linecap="round"/>
<path d="M504.3,790.5 C503.9,790.6 502.7,791.0 501.8,791.1 C500.9,791.2 499.7,790.9 498.9,791.0 C498.1,791.1 497.6,791.3 496.8,791.5 C496.0,791.6 495.1,791.9 494.2,792.0 C493.3,792.1 492.3,792.0 491.4,792.2 C490.4,792.3 489.4,792.8 488.4,793.0 C487.4,793.2 486.2,793.1 485.1,793.4 C484.1,793.6 483.2,794.2 482.2,794.4 C481.2,794.6 480.4,794.5 479.4,794.7 C478.4,794.8 477.2,795.2 476.2,795.4 C475.2,795.6 474.3,795.6 473.3,795.9 C472.3,796.2 471.1,796.6 470.1,796.9 C469.0,797.3 468.0,797.5 467.0,797.8 C466.0,798.1 465.3,798.6 464.2,798.8 C463.2,799.1 461.9,799.1 460.8,799.3 C459.8,799.5 459.1,799.6 458.1,799.9 C457.1,800.1 455.9,800.5 454.9,800.6 C454.0,800.7 453.2,800.5 452.4,800.5 C451.6,800.5 451.0,800.5 450.2,800.5 C449.4,800.5 448.6,800.5 447.7,800.6 C446.8,800.7 445.9,800.8 445.0,800.9 C444.2,801.0 443.3,801.0 442.5,801.0 C441.6,801.0 441.1,800.9 440.2,800.9 C439.3,800.9 438.1,800.8 437.3,800.8 C436.4,800.8 436.0,800.9 435.2,800.9 C434.4,800.9 433.5,800.7 432.6,800.7 C431.7,800.7 430.8,800.7 429.9,800.8 C429.1,800.8 428.4,800.8 427.5,800.8 C426.7,800.7 425.7,800.5 424.8,800.4 C424.0,800.3 423.2,800.2 422.3,800.1 C421.5,799.9 420.4,799.6 419.5,799.4 C418.5,799.2 417.5,798.9 416.6,798.7 C415.6,798.5 414.4,798.1 414.0,798.0" fill="none" stroke="#1a1a1a" stroke-width="0.5" stroke-linejoin="round" stroke-linecap="round"/>
<path d="M498.7,790.6 C498.2,790.7 496.7,791.0 495.8,791.2 C494.8,791.4 494.0,791.8 493.1,792.0 C492.1,792.3 491.2,792.3 490.1,792.5 C489.1,792.7 487.9,793.0 486.9,793.2 C485.9,793.5 485.0,793.8 484.1,794.1 C483.1,794.4 482.0,794.6 480.9,794.9 C479.9,795.2 478.8,795.6 477.8,795.9 C476.8,796.2 476.0,796.5 475.0,796.9 C474.0,797.2 473.0,797.6 472.0,797.9 C470.9,798.2 469.6,798.6 468.6,798.8 C467.6,799.0 466.9,799.1 465.9,799.2 C464.9,799.3 463.8,799.4 462.8,799.4 C461.8,799.5 460.7,799.4 459.7,799.5 C458.7,799.6 457.8,799.8 456.8,799.9 C455.9,799.9 454.8,799.8 453.8,799.8 C452.9,799.8 452.0,799.9 451.0,800.0 C450.0,800.1 448.8,800.3 447.8,800.3 C446.9,800.4 446.0,800.3 445.1,800.3 C444.3,800.3 443.5,800.3 442.7,800.4 C441.8,800.5 440.8,800.6 439.9,800.6 C439.1,800.7 438.5,800.6 437.7,800.6 C436.9,800.6 435.9,800.5 435.0,800.6 C434.1,800.7 433.1,800.9 432.3,800.9 C431.5,800.9 431.0,800.9 430.2,800.8 C429.3,800.8 428.1,800.7 427.0,800.5 C425.9,800.3 424.8,800.0 423.8,799.9 C422.7,799.7 421.8,799.6 420.9,799.5 C419.9,799.4 418.5,799.1 418.0,799.0" fill="none" stroke="#1a1a1a" stroke-width="0.5" stroke-linejoin="round" stroke-linecap="round"/>
<path d="M480.6,786.9 C480.0,787.0 478.1,787.0 477.0,787.2 C475.8,787.3 474.5,787.6 473.4,787.9 C472.3,788.2 471.4,788.5 470.4,788.9 C469.3,789.3 468.3,789.8 467.2,790.2 C466.2,790.7 465.2,791.2 464.2,791.6 C463.2,792.0 462.1,792.3 461.0,792.6 C460.0,792.9 459.0,793.0 458.0,793.3 C457.0,793.5 455.9,793.7 455.1,794.0 C454.3,794.4 453.7,794.9 453.0,795.3 C452.2,795.8 451.5,796.1 450.7,796.5 C449.9,796.9 449.0,797.6 448.1,797.9 C447.2,798.3 446.3,798.2 445.4,798.4 C444.5,798.6 443.5,798.9 442.7,799.1 C441.8,799.3 441.1,799.5 440.2,799.6 C439.3,799.7 438.1,799.7 437.2,799.8 C436.2,800.0 435.5,800.3 434.6,800.4 C433.8,800.5 433.0,800.3 432.2,800.3 C431.4,800.3 430.6,800.2 429.8,800.1 C428.9,800.0 428.0,800.0 427.1,799.8 C426.2,799.7 425.4,799.3 424.5,799.2 C423.6,799.1 422.6,799.3 421.8,799.1 C420.9,798.9 420.3,798.2 419.4,797.7 C418.6,797.3 417.6,796.8 416.7,796.3 C415.8,795.9 414.4,795.2 414.0,795.0" fill="none" stroke="#1a1a1a" stroke-width="0.5" stroke-linejoin="round" stroke-linecap="round"/>
<path d="M434.6,800.8 C435.0,800.7 436.3,800.3 437.2,800.0 C438.2,799.8 439.4,799.6 440.3,799.4 C441.3,799.3 442.0,799.2 442.8,799.1 C443.7,798.9 444.6,798.7 445.5,798.5 C446.4,798.3 447.3,798.5 448.3,798.1 C449.3,797.7 450.4,796.8 451.5,796.2 C452.6,795.5 453.8,794.9 454.7,794.3 C455.7,793.7 456.4,793.2 457.3,792.7 C458.2,792.2 458.8,791.8 459.9,791.4 C461.1,791.1 463.4,790.7 464.1,790.6" fill="none" stroke="#1a1a1a" stroke-width="0.5" stroke-linejoin="round" stroke-linecap="round"/>
<path d="M473.3,745.9 C473.0,746.2 471.9,746.9 471.2,747.5 C470.6,748.1 470.1,748.9 469.4,749.4 C468.7,750.0 468.0,750.3 467.2,750.8 C466.5,751.4 465.6,752.0 465.0,752.5 C464.4,753.0 464.1,753.7 463.4,754.0 C462.7,754.2 461.5,754.0 460.6,754.0 C459.7,754.0 458.8,754.0 457.8,754.0 C456.9,754.0 455.5,754.1 455.0,754.1" fill="none" stroke="#1a1a1a" stroke-width="0.5" stroke-linejoin="round" stroke-linecap="round"/>
<path d="M412.3,794.1 C412.6,794.5 413.4,796.7 414.1,796.9 C414.7,797.0 415.4,794.5 416.1,794.8 C416.8,795.2 417.5,798.8 418.2,799.0 C418.9,799.2 419.6,795.9 420.2,796.1 C420.8,796.3 422.0,799.4 421.9,800.1 C421.7,800.8 420.0,800.1 419.1,800.2 C418.1,800.3 417.1,801.0 416.1,800.6 C415.1,800.3 413.5,798.4 413.0,798.0" fill="none" stroke="#1a1a1a" stroke-width="0.5" stroke-linejoin="round" stroke-linecap="round"/>
<path d="M412.9,796.0 C413.2,796.6 413.8,799.4 414.9,799.8 C415.9,800.1 418.2,797.7 419.2,797.9 C420.2,798.2 420.1,801.0 420.9,801.2 C421.7,801.4 423.5,799.4 424.0,799.0" fill="none" stroke="#1a1a1a" stroke-width="0.5" stroke-linejoin="round" stroke-linecap="round"/>
<path d="M501.8,786.1 C502.3,785.7 504.0,783.8 505.0,783.9 C506.1,784.1 507.9,785.7 508.1,786.9 C508.3,788.0 506.9,790.6 506.1,791.0 C505.2,791.3 503.0,789.9 502.8,789.1 C502.6,788.4 503.9,786.5 504.8,786.7 C505.8,786.8 507.9,789.4 508.5,790.0" fill="none" stroke="#1a1a1a" stroke-width="0.5" stroke-linejoin="round" stroke-linecap="round"/>
<path d="M494.2,703.8 C494.6,703.3 496.1,700.6 496.9,700.8 C497.7,701.0 498.2,704.7 499.0,705.1 C499.8,705.5 500.9,703.0 501.8,703.2 C502.6,703.4 503.4,706.0 504.1,706.2 C504.8,706.4 506.2,704.3 506.0,704.5 C505.7,704.6 503.7,706.5 502.8,706.9 C501.9,707.2 501.5,706.7 500.7,706.6 C499.9,706.6 498.4,706.5 498.0,706.5" fill="none" stroke="#1a1a1a" stroke-width="0.5" stroke-linejoin="round" stroke-linecap="round"/>
<path d="M494.8,703.0 C495.2,702.9 496.5,702.5 497.4,702.3 C498.3,702.1 499.3,701.8 500.1,702.0 C500.9,702.2 501.6,703.0 502.4,703.6 C503.2,704.2 505.2,705.2 505.1,705.7 C505.0,706.2 503.0,706.4 501.9,706.8 C500.9,707.2 499.8,708.3 498.9,708.0 C497.9,707.7 496.5,705.5 496.0,705.0" fill="none" stroke="#1a1a1a" stroke-width="0.5" stroke-linejoin="round" stroke-linecap="round"/>
</svg>
</body></html>
